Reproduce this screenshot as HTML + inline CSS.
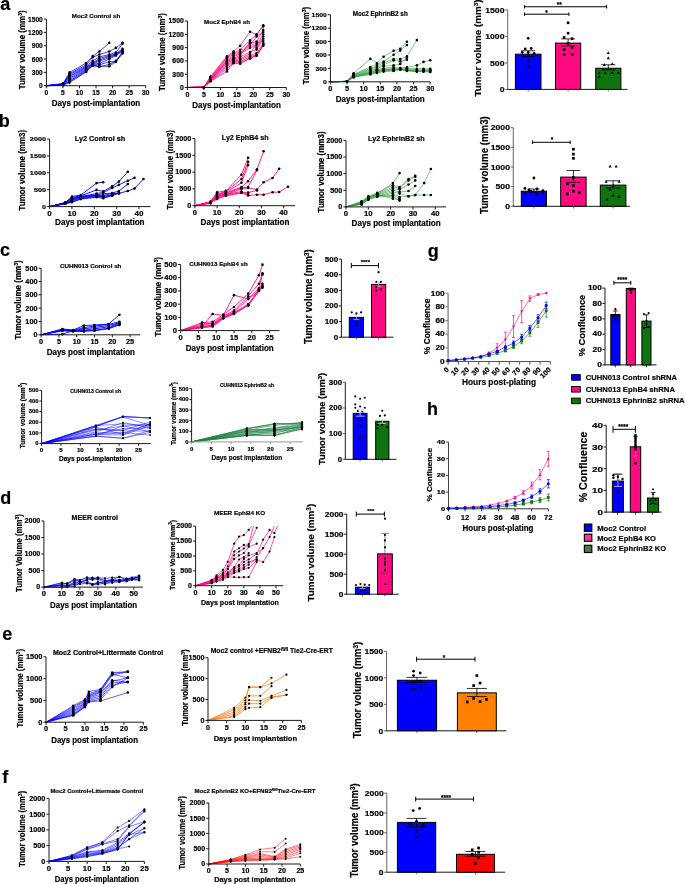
<!DOCTYPE html>
<html><head><meta charset="utf-8"><style>
html,body{margin:0;padding:0;background:#fff;overflow:hidden}
svg{display:block;will-change:transform}
text{font-family:"Liberation Sans", sans-serif;stroke:#000;stroke-width:0.18px}
</style></head><body>
<svg width="685" height="884" viewBox="0 0 685 884">
<rect width="685" height="884" fill="#fff"/>
<text x="0.20" y="9.70" font-size="18" text-anchor="start" font-weight="bold" fill="#000" >a</text>
<text x="-1.20" y="127.20" font-size="18" text-anchor="start" font-weight="bold" fill="#000" >b</text>
<text x="0.00" y="256.40" font-size="18" text-anchor="start" font-weight="bold" fill="#000" >c</text>
<text x="0.30" y="504.00" font-size="18" text-anchor="start" font-weight="bold" fill="#000" >d</text>
<text x="2.20" y="639.60" font-size="18" text-anchor="start" font-weight="bold" fill="#000" >e</text>
<text x="2.30" y="782.80" font-size="18" text-anchor="start" font-weight="bold" fill="#000" >f</text>
<text x="427.70" y="256.80" font-size="18" text-anchor="start" font-weight="bold" fill="#000" >g</text>
<text x="427.00" y="415.00" font-size="18" text-anchor="start" font-weight="bold" fill="#000" >h</text>
<polyline points="46.40,85.70 62.95,83.92 69.57,72.38 86.12,63.19 92.74,56.09 99.36,51.51 109.29,42.81" fill="none" stroke="#0000FF" stroke-width="0.75" stroke-linejoin="round"/>
<circle cx="62.95" cy="83.92" r="1.3" fill="#000"/>
<circle cx="69.57" cy="72.38" r="1.3" fill="#000"/>
<circle cx="86.12" cy="63.19" r="1.3" fill="#000"/>
<circle cx="92.74" cy="56.09" r="1.3" fill="#000"/>
<circle cx="99.36" cy="51.51" r="1.3" fill="#000"/>
<circle cx="109.29" cy="42.81" r="1.3" fill="#000"/>
<polyline points="46.40,85.70 62.95,84.37 69.57,73.71 86.12,64.83 92.74,57.28 99.36,54.49 109.29,51.51 115.91,47.92 122.53,42.81" fill="none" stroke="#0000FF" stroke-width="0.75" stroke-linejoin="round"/>
<circle cx="62.95" cy="84.37" r="1.3" fill="#000"/>
<circle cx="69.57" cy="73.71" r="1.3" fill="#000"/>
<circle cx="86.12" cy="64.83" r="1.3" fill="#000"/>
<circle cx="92.74" cy="57.28" r="1.3" fill="#000"/>
<circle cx="99.36" cy="54.49" r="1.3" fill="#000"/>
<circle cx="109.29" cy="51.51" r="1.3" fill="#000"/>
<circle cx="115.91" cy="47.92" r="1.3" fill="#000"/>
<circle cx="122.53" cy="42.81" r="1.3" fill="#000"/>
<polyline points="46.40,85.70 62.95,84.81 69.57,74.60 86.12,66.16 92.74,60.84 99.36,56.84 109.29,54.62 115.91,52.49 122.53,43.79" fill="none" stroke="#0000FF" stroke-width="0.75" stroke-linejoin="round"/>
<circle cx="62.95" cy="84.81" r="1.3" fill="#000"/>
<circle cx="69.57" cy="74.60" r="1.3" fill="#000"/>
<circle cx="86.12" cy="66.16" r="1.3" fill="#000"/>
<circle cx="92.74" cy="60.84" r="1.3" fill="#000"/>
<circle cx="99.36" cy="56.84" r="1.3" fill="#000"/>
<circle cx="109.29" cy="54.62" r="1.3" fill="#000"/>
<circle cx="115.91" cy="52.49" r="1.3" fill="#000"/>
<circle cx="122.53" cy="43.79" r="1.3" fill="#000"/>
<polyline points="46.40,85.70 62.95,83.48 69.57,75.93 86.12,67.05 92.74,62.61 99.36,58.62 109.29,55.51 115.91,53.73 122.53,48.89" fill="none" stroke="#0000FF" stroke-width="0.75" stroke-linejoin="round"/>
<circle cx="62.95" cy="83.48" r="1.3" fill="#000"/>
<circle cx="69.57" cy="75.93" r="1.3" fill="#000"/>
<circle cx="86.12" cy="67.05" r="1.3" fill="#000"/>
<circle cx="92.74" cy="62.61" r="1.3" fill="#000"/>
<circle cx="99.36" cy="58.62" r="1.3" fill="#000"/>
<circle cx="109.29" cy="55.51" r="1.3" fill="#000"/>
<circle cx="115.91" cy="53.73" r="1.3" fill="#000"/>
<circle cx="122.53" cy="48.89" r="1.3" fill="#000"/>
<polyline points="46.40,85.70 62.95,84.37 69.57,76.82 86.12,67.94 92.74,63.50 99.36,59.95 109.29,56.40 115.91,54.62 122.53,49.74" fill="none" stroke="#0000FF" stroke-width="0.75" stroke-linejoin="round"/>
<circle cx="62.95" cy="84.37" r="1.3" fill="#000"/>
<circle cx="69.57" cy="76.82" r="1.3" fill="#000"/>
<circle cx="86.12" cy="67.94" r="1.3" fill="#000"/>
<circle cx="92.74" cy="63.50" r="1.3" fill="#000"/>
<circle cx="99.36" cy="59.95" r="1.3" fill="#000"/>
<circle cx="109.29" cy="56.40" r="1.3" fill="#000"/>
<circle cx="115.91" cy="54.62" r="1.3" fill="#000"/>
<circle cx="122.53" cy="49.74" r="1.3" fill="#000"/>
<polyline points="46.40,85.70 62.95,84.81 69.57,78.15 86.12,68.83 92.74,63.94 99.36,61.28 109.29,57.64 115.91,55.06 122.53,50.40" fill="none" stroke="#0000FF" stroke-width="0.75" stroke-linejoin="round"/>
<circle cx="62.95" cy="84.81" r="1.3" fill="#000"/>
<circle cx="69.57" cy="78.15" r="1.3" fill="#000"/>
<circle cx="86.12" cy="68.83" r="1.3" fill="#000"/>
<circle cx="92.74" cy="63.94" r="1.3" fill="#000"/>
<circle cx="99.36" cy="61.28" r="1.3" fill="#000"/>
<circle cx="109.29" cy="57.64" r="1.3" fill="#000"/>
<circle cx="115.91" cy="55.06" r="1.3" fill="#000"/>
<circle cx="122.53" cy="50.40" r="1.3" fill="#000"/>
<polyline points="46.40,85.70 62.95,83.92 69.57,79.48 86.12,69.72 92.74,64.17 99.36,63.50 109.29,59.06 115.91,55.51 122.53,51.07" fill="none" stroke="#0000FF" stroke-width="0.75" stroke-linejoin="round"/>
<circle cx="62.95" cy="83.92" r="1.3" fill="#000"/>
<circle cx="69.57" cy="79.48" r="1.3" fill="#000"/>
<circle cx="86.12" cy="69.72" r="1.3" fill="#000"/>
<circle cx="92.74" cy="64.17" r="1.3" fill="#000"/>
<circle cx="99.36" cy="63.50" r="1.3" fill="#000"/>
<circle cx="109.29" cy="59.06" r="1.3" fill="#000"/>
<circle cx="115.91" cy="55.51" r="1.3" fill="#000"/>
<circle cx="122.53" cy="51.07" r="1.3" fill="#000"/>
<polyline points="46.40,85.70 62.95,85.03 69.57,80.82 86.12,70.60 92.74,64.83 99.36,64.83 109.29,61.72 115.91,61.72 122.53,53.51" fill="none" stroke="#0000FF" stroke-width="0.75" stroke-linejoin="round"/>
<circle cx="62.95" cy="85.03" r="1.3" fill="#000"/>
<circle cx="69.57" cy="80.82" r="1.3" fill="#000"/>
<circle cx="86.12" cy="70.60" r="1.3" fill="#000"/>
<circle cx="92.74" cy="64.83" r="1.3" fill="#000"/>
<circle cx="99.36" cy="64.83" r="1.3" fill="#000"/>
<circle cx="109.29" cy="61.72" r="1.3" fill="#000"/>
<circle cx="115.91" cy="61.72" r="1.3" fill="#000"/>
<circle cx="122.53" cy="53.51" r="1.3" fill="#000"/>
<polyline points="46.40,85.70 62.95,84.59 69.57,81.70 86.12,71.49 92.74,65.28 99.36,66.16 109.29,66.30 115.91,61.72 122.53,52.84" fill="none" stroke="#0000FF" stroke-width="0.75" stroke-linejoin="round"/>
<circle cx="62.95" cy="84.59" r="1.3" fill="#000"/>
<circle cx="69.57" cy="81.70" r="1.3" fill="#000"/>
<circle cx="86.12" cy="71.49" r="1.3" fill="#000"/>
<circle cx="92.74" cy="65.28" r="1.3" fill="#000"/>
<circle cx="99.36" cy="66.16" r="1.3" fill="#000"/>
<circle cx="109.29" cy="66.30" r="1.3" fill="#000"/>
<circle cx="115.91" cy="61.72" r="1.3" fill="#000"/>
<circle cx="122.53" cy="52.84" r="1.3" fill="#000"/>
<polyline points="46.40,85.70 62.95,85.26 69.57,82.59 86.12,71.94 92.74,65.72 99.36,66.83 109.29,64.39 115.91,60.84 122.53,51.96" fill="none" stroke="#0000FF" stroke-width="0.75" stroke-linejoin="round"/>
<circle cx="62.95" cy="85.26" r="1.3" fill="#000"/>
<circle cx="69.57" cy="82.59" r="1.3" fill="#000"/>
<circle cx="86.12" cy="71.94" r="1.3" fill="#000"/>
<circle cx="92.74" cy="65.72" r="1.3" fill="#000"/>
<circle cx="99.36" cy="66.83" r="1.3" fill="#000"/>
<circle cx="109.29" cy="64.39" r="1.3" fill="#000"/>
<circle cx="115.91" cy="60.84" r="1.3" fill="#000"/>
<circle cx="122.53" cy="51.96" r="1.3" fill="#000"/>
<line x1="46.40" y1="19.10" x2="46.40" y2="86.20" stroke="#1a1a1a" stroke-width="1"/>
<line x1="45.90" y1="85.70" x2="145.70" y2="85.70" stroke="#1a1a1a" stroke-width="1"/>
<line x1="43.80" y1="85.70" x2="46.40" y2="85.70" stroke="#1a1a1a" stroke-width="1"/>
<text x="42.80" y="88.22" font-size="7" text-anchor="end" font-weight="bold" fill="#000" textLength="3.7" lengthAdjust="spacingAndGlyphs" >0</text>
<line x1="43.80" y1="72.38" x2="46.40" y2="72.38" stroke="#1a1a1a" stroke-width="1"/>
<text x="42.80" y="74.90" font-size="7" text-anchor="end" font-weight="bold" fill="#000" textLength="11.09" lengthAdjust="spacingAndGlyphs" >300</text>
<line x1="43.80" y1="59.06" x2="46.40" y2="59.06" stroke="#1a1a1a" stroke-width="1"/>
<text x="42.80" y="61.58" font-size="7" text-anchor="end" font-weight="bold" fill="#000" textLength="11.09" lengthAdjust="spacingAndGlyphs" >600</text>
<line x1="43.80" y1="45.74" x2="46.40" y2="45.74" stroke="#1a1a1a" stroke-width="1"/>
<text x="42.80" y="48.26" font-size="7" text-anchor="end" font-weight="bold" fill="#000" textLength="11.09" lengthAdjust="spacingAndGlyphs" >900</text>
<line x1="43.80" y1="32.42" x2="46.40" y2="32.42" stroke="#1a1a1a" stroke-width="1"/>
<text x="42.80" y="34.94" font-size="7" text-anchor="end" font-weight="bold" fill="#000" textLength="14.79" lengthAdjust="spacingAndGlyphs" >1200</text>
<line x1="43.80" y1="19.10" x2="46.40" y2="19.10" stroke="#1a1a1a" stroke-width="1"/>
<text x="42.80" y="21.62" font-size="7" text-anchor="end" font-weight="bold" fill="#000" textLength="14.79" lengthAdjust="spacingAndGlyphs" >1500</text>
<line x1="46.40" y1="85.70" x2="46.40" y2="88.30" stroke="#1a1a1a" stroke-width="1"/>
<text x="46.40" y="94.90" font-size="7" text-anchor="middle" font-weight="bold" fill="#000" textLength="3.7" lengthAdjust="spacingAndGlyphs" >0</text>
<line x1="62.95" y1="85.70" x2="62.95" y2="88.30" stroke="#1a1a1a" stroke-width="1"/>
<text x="62.95" y="94.90" font-size="7" text-anchor="middle" font-weight="bold" fill="#000" textLength="3.7" lengthAdjust="spacingAndGlyphs" >5</text>
<line x1="79.50" y1="85.70" x2="79.50" y2="88.30" stroke="#1a1a1a" stroke-width="1"/>
<text x="79.50" y="94.90" font-size="7" text-anchor="middle" font-weight="bold" fill="#000" textLength="7.4" lengthAdjust="spacingAndGlyphs" >10</text>
<line x1="96.05" y1="85.70" x2="96.05" y2="88.30" stroke="#1a1a1a" stroke-width="1"/>
<text x="96.05" y="94.90" font-size="7" text-anchor="middle" font-weight="bold" fill="#000" textLength="7.4" lengthAdjust="spacingAndGlyphs" >15</text>
<line x1="112.60" y1="85.70" x2="112.60" y2="88.30" stroke="#1a1a1a" stroke-width="1"/>
<text x="112.60" y="94.90" font-size="7" text-anchor="middle" font-weight="bold" fill="#000" textLength="7.4" lengthAdjust="spacingAndGlyphs" >20</text>
<line x1="129.15" y1="85.70" x2="129.15" y2="88.30" stroke="#1a1a1a" stroke-width="1"/>
<text x="129.15" y="94.90" font-size="7" text-anchor="middle" font-weight="bold" fill="#000" textLength="7.4" lengthAdjust="spacingAndGlyphs" >25</text>
<line x1="145.70" y1="85.70" x2="145.70" y2="88.30" stroke="#1a1a1a" stroke-width="1"/>
<text x="145.70" y="94.90" font-size="7" text-anchor="middle" font-weight="bold" fill="#000" textLength="7.4" lengthAdjust="spacingAndGlyphs" >30</text>
<text x="96.00" y="17.80" font-size="6" text-anchor="middle" font-weight="bold" fill="#000" textLength="48.5" lengthAdjust="spacingAndGlyphs" >Moc2 Control sh</text>
<text x="96.00" y="106.00" font-size="8.5" text-anchor="middle" font-weight="bold" fill="#000" textLength="88.4" lengthAdjust="spacingAndGlyphs" >Days post-implantation</text>
<text x="25.30" y="49.80" font-size="9" text-anchor="middle" font-weight="bold" fill="#000" textLength="79" lengthAdjust="spacingAndGlyphs" transform="rotate(-90 25.30 49.80)" >Tumor volume (mm<tspan font-size="65%" dy="-3">3</tspan><tspan dy="3">)</tspan></text>
<polyline points="187.40,87.50 203.88,87.19 210.48,76.60 226.96,56.22 233.55,51.53 240.15,45.73 250.04,31.73 256.63,34.61 263.22,25.30" fill="none" stroke="#FF0A80" stroke-width="0.75" stroke-linejoin="round"/>
<circle cx="203.88" cy="87.19" r="1.3" fill="#000"/>
<circle cx="210.48" cy="76.60" r="1.3" fill="#000"/>
<circle cx="226.96" cy="56.22" r="1.3" fill="#000"/>
<circle cx="233.55" cy="51.53" r="1.3" fill="#000"/>
<circle cx="240.15" cy="45.73" r="1.3" fill="#000"/>
<circle cx="250.04" cy="31.73" r="1.3" fill="#000"/>
<circle cx="256.63" cy="34.61" r="1.3" fill="#000"/>
<circle cx="263.22" cy="25.30" r="1.3" fill="#000"/>
<polyline points="187.40,87.50 203.88,87.19 210.48,77.31 226.96,57.38 233.55,52.95 240.15,49.84 250.04,40.41 256.63,34.61 263.22,26.37" fill="none" stroke="#FF0A80" stroke-width="0.75" stroke-linejoin="round"/>
<circle cx="203.88" cy="87.19" r="1.3" fill="#000"/>
<circle cx="210.48" cy="77.31" r="1.3" fill="#000"/>
<circle cx="226.96" cy="57.38" r="1.3" fill="#000"/>
<circle cx="233.55" cy="52.95" r="1.3" fill="#000"/>
<circle cx="240.15" cy="49.84" r="1.3" fill="#000"/>
<circle cx="250.04" cy="40.41" r="1.3" fill="#000"/>
<circle cx="256.63" cy="34.61" r="1.3" fill="#000"/>
<circle cx="263.22" cy="26.37" r="1.3" fill="#000"/>
<polyline points="187.40,87.50 203.88,87.19 210.48,77.98 226.96,58.70 233.55,53.83 240.15,52.06 250.04,43.20 256.63,41.61 263.22,29.91" fill="none" stroke="#FF0A80" stroke-width="0.75" stroke-linejoin="round"/>
<circle cx="203.88" cy="87.19" r="1.3" fill="#000"/>
<circle cx="210.48" cy="77.98" r="1.3" fill="#000"/>
<circle cx="226.96" cy="58.70" r="1.3" fill="#000"/>
<circle cx="233.55" cy="53.83" r="1.3" fill="#000"/>
<circle cx="240.15" cy="52.06" r="1.3" fill="#000"/>
<circle cx="250.04" cy="43.20" r="1.3" fill="#000"/>
<circle cx="256.63" cy="41.61" r="1.3" fill="#000"/>
<circle cx="263.22" cy="29.91" r="1.3" fill="#000"/>
<polyline points="187.40,87.50 203.88,87.19 210.48,78.42 226.96,60.03 233.55,55.60 240.15,52.95 250.04,45.41 256.63,36.55 263.22,32.12" fill="none" stroke="#FF0A80" stroke-width="0.75" stroke-linejoin="round"/>
<circle cx="203.88" cy="87.19" r="1.3" fill="#000"/>
<circle cx="210.48" cy="78.42" r="1.3" fill="#000"/>
<circle cx="226.96" cy="60.03" r="1.3" fill="#000"/>
<circle cx="233.55" cy="55.60" r="1.3" fill="#000"/>
<circle cx="240.15" cy="52.95" r="1.3" fill="#000"/>
<circle cx="250.04" cy="45.41" r="1.3" fill="#000"/>
<circle cx="256.63" cy="36.55" r="1.3" fill="#000"/>
<circle cx="263.22" cy="32.12" r="1.3" fill="#000"/>
<polyline points="187.40,87.50 203.88,87.19 210.48,78.86 226.96,60.92 233.55,56.93 240.15,53.83 250.04,47.63 256.63,44.97 263.22,34.34" fill="none" stroke="#FF0A80" stroke-width="0.75" stroke-linejoin="round"/>
<circle cx="203.88" cy="87.19" r="1.3" fill="#000"/>
<circle cx="210.48" cy="78.86" r="1.3" fill="#000"/>
<circle cx="226.96" cy="60.92" r="1.3" fill="#000"/>
<circle cx="233.55" cy="56.93" r="1.3" fill="#000"/>
<circle cx="240.15" cy="53.83" r="1.3" fill="#000"/>
<circle cx="250.04" cy="47.63" r="1.3" fill="#000"/>
<circle cx="256.63" cy="44.97" r="1.3" fill="#000"/>
<circle cx="263.22" cy="34.34" r="1.3" fill="#000"/>
<polyline points="187.40,87.50 203.88,87.19 210.48,79.30 226.96,61.81 233.55,58.26 240.15,55.60 250.04,42.31 256.63,47.63 263.22,36.55" fill="none" stroke="#FF0A80" stroke-width="0.75" stroke-linejoin="round"/>
<circle cx="203.88" cy="87.19" r="1.3" fill="#000"/>
<circle cx="210.48" cy="79.30" r="1.3" fill="#000"/>
<circle cx="226.96" cy="61.81" r="1.3" fill="#000"/>
<circle cx="233.55" cy="58.26" r="1.3" fill="#000"/>
<circle cx="240.15" cy="55.60" r="1.3" fill="#000"/>
<circle cx="250.04" cy="42.31" r="1.3" fill="#000"/>
<circle cx="256.63" cy="47.63" r="1.3" fill="#000"/>
<circle cx="263.22" cy="36.55" r="1.3" fill="#000"/>
<polyline points="187.40,87.50 203.88,87.19 210.48,79.75 226.96,62.69 233.55,59.15 240.15,56.93 250.04,52.06 256.63,49.40 263.22,38.77" fill="none" stroke="#FF0A80" stroke-width="0.75" stroke-linejoin="round"/>
<circle cx="203.88" cy="87.19" r="1.3" fill="#000"/>
<circle cx="210.48" cy="79.75" r="1.3" fill="#000"/>
<circle cx="226.96" cy="62.69" r="1.3" fill="#000"/>
<circle cx="233.55" cy="59.15" r="1.3" fill="#000"/>
<circle cx="240.15" cy="56.93" r="1.3" fill="#000"/>
<circle cx="250.04" cy="52.06" r="1.3" fill="#000"/>
<circle cx="256.63" cy="49.40" r="1.3" fill="#000"/>
<circle cx="263.22" cy="38.77" r="1.3" fill="#000"/>
<polyline points="187.40,87.50 203.88,87.19 210.48,80.19 226.96,63.58 233.55,60.03 240.15,58.70 250.04,53.83 256.63,43.20 263.22,40.98" fill="none" stroke="#FF0A80" stroke-width="0.75" stroke-linejoin="round"/>
<circle cx="203.88" cy="87.19" r="1.3" fill="#000"/>
<circle cx="210.48" cy="80.19" r="1.3" fill="#000"/>
<circle cx="226.96" cy="63.58" r="1.3" fill="#000"/>
<circle cx="233.55" cy="60.03" r="1.3" fill="#000"/>
<circle cx="240.15" cy="58.70" r="1.3" fill="#000"/>
<circle cx="250.04" cy="53.83" r="1.3" fill="#000"/>
<circle cx="256.63" cy="43.20" r="1.3" fill="#000"/>
<circle cx="263.22" cy="40.98" r="1.3" fill="#000"/>
<polyline points="187.40,87.50 203.88,87.19 210.48,80.41 226.96,65.35 233.55,60.92 240.15,60.03 250.04,55.60 256.63,52.95 263.22,43.20" fill="none" stroke="#FF0A80" stroke-width="0.75" stroke-linejoin="round"/>
<circle cx="203.88" cy="87.19" r="1.3" fill="#000"/>
<circle cx="210.48" cy="80.41" r="1.3" fill="#000"/>
<circle cx="226.96" cy="65.35" r="1.3" fill="#000"/>
<circle cx="233.55" cy="60.92" r="1.3" fill="#000"/>
<circle cx="240.15" cy="60.03" r="1.3" fill="#000"/>
<circle cx="250.04" cy="55.60" r="1.3" fill="#000"/>
<circle cx="256.63" cy="52.95" r="1.3" fill="#000"/>
<circle cx="263.22" cy="43.20" r="1.3" fill="#000"/>
<polyline points="187.40,87.50 203.88,87.19 210.48,80.86 226.96,66.68 233.55,61.81 240.15,61.36 250.04,56.93 256.63,54.72 263.22,44.09" fill="none" stroke="#FF0A80" stroke-width="0.75" stroke-linejoin="round"/>
<circle cx="203.88" cy="87.19" r="1.3" fill="#000"/>
<circle cx="210.48" cy="80.86" r="1.3" fill="#000"/>
<circle cx="226.96" cy="66.68" r="1.3" fill="#000"/>
<circle cx="233.55" cy="61.81" r="1.3" fill="#000"/>
<circle cx="240.15" cy="61.36" r="1.3" fill="#000"/>
<circle cx="250.04" cy="56.93" r="1.3" fill="#000"/>
<circle cx="256.63" cy="54.72" r="1.3" fill="#000"/>
<circle cx="263.22" cy="44.09" r="1.3" fill="#000"/>
<polyline points="187.40,87.50 203.88,87.19 210.48,81.08 226.96,68.89 233.55,62.69 240.15,62.69 250.04,58.26 256.63,55.60 263.22,44.97" fill="none" stroke="#FF0A80" stroke-width="0.75" stroke-linejoin="round"/>
<circle cx="203.88" cy="87.19" r="1.3" fill="#000"/>
<circle cx="210.48" cy="81.08" r="1.3" fill="#000"/>
<circle cx="226.96" cy="68.89" r="1.3" fill="#000"/>
<circle cx="233.55" cy="62.69" r="1.3" fill="#000"/>
<circle cx="240.15" cy="62.69" r="1.3" fill="#000"/>
<circle cx="250.04" cy="58.26" r="1.3" fill="#000"/>
<circle cx="256.63" cy="55.60" r="1.3" fill="#000"/>
<circle cx="263.22" cy="44.97" r="1.3" fill="#000"/>
<polyline points="187.40,87.50 203.88,87.19 210.48,81.30 226.96,71.42 233.55,63.22 240.15,63.80 250.04,58.48 256.63,55.60 263.22,45.73" fill="none" stroke="#FF0A80" stroke-width="0.75" stroke-linejoin="round"/>
<circle cx="203.88" cy="87.19" r="1.3" fill="#000"/>
<circle cx="210.48" cy="81.30" r="1.3" fill="#000"/>
<circle cx="226.96" cy="71.42" r="1.3" fill="#000"/>
<circle cx="233.55" cy="63.22" r="1.3" fill="#000"/>
<circle cx="240.15" cy="63.80" r="1.3" fill="#000"/>
<circle cx="250.04" cy="58.48" r="1.3" fill="#000"/>
<circle cx="256.63" cy="55.60" r="1.3" fill="#000"/>
<circle cx="263.22" cy="45.73" r="1.3" fill="#000"/>
<line x1="187.40" y1="21.05" x2="187.40" y2="88.00" stroke="#1a1a1a" stroke-width="1"/>
<line x1="186.90" y1="87.50" x2="286.30" y2="87.50" stroke="#1a1a1a" stroke-width="1"/>
<line x1="184.80" y1="87.50" x2="187.40" y2="87.50" stroke="#1a1a1a" stroke-width="1"/>
<text x="183.80" y="89.80" font-size="6.4" text-anchor="end" font-weight="bold" fill="#000" textLength="3.81" lengthAdjust="spacingAndGlyphs" >0</text>
<line x1="184.80" y1="74.21" x2="187.40" y2="74.21" stroke="#1a1a1a" stroke-width="1"/>
<text x="183.80" y="76.51" font-size="6.4" text-anchor="end" font-weight="bold" fill="#000" textLength="11.42" lengthAdjust="spacingAndGlyphs" >300</text>
<line x1="184.80" y1="60.92" x2="187.40" y2="60.92" stroke="#1a1a1a" stroke-width="1"/>
<text x="183.80" y="63.22" font-size="6.4" text-anchor="end" font-weight="bold" fill="#000" textLength="11.42" lengthAdjust="spacingAndGlyphs" >600</text>
<line x1="184.80" y1="47.63" x2="187.40" y2="47.63" stroke="#1a1a1a" stroke-width="1"/>
<text x="183.80" y="49.93" font-size="6.4" text-anchor="end" font-weight="bold" fill="#000" textLength="11.42" lengthAdjust="spacingAndGlyphs" >900</text>
<line x1="184.80" y1="34.34" x2="187.40" y2="34.34" stroke="#1a1a1a" stroke-width="1"/>
<text x="183.80" y="36.64" font-size="6.4" text-anchor="end" font-weight="bold" fill="#000" textLength="15.23" lengthAdjust="spacingAndGlyphs" >1200</text>
<line x1="184.80" y1="21.05" x2="187.40" y2="21.05" stroke="#1a1a1a" stroke-width="1"/>
<text x="183.80" y="23.35" font-size="6.4" text-anchor="end" font-weight="bold" fill="#000" textLength="15.23" lengthAdjust="spacingAndGlyphs" >1500</text>
<line x1="187.40" y1="87.50" x2="187.40" y2="90.10" stroke="#1a1a1a" stroke-width="1"/>
<text x="187.40" y="96.70" font-size="6.6" text-anchor="middle" font-weight="bold" fill="#000" textLength="3.93" lengthAdjust="spacingAndGlyphs" >0</text>
<line x1="203.88" y1="87.50" x2="203.88" y2="90.10" stroke="#1a1a1a" stroke-width="1"/>
<text x="203.88" y="96.70" font-size="6.6" text-anchor="middle" font-weight="bold" fill="#000" textLength="3.93" lengthAdjust="spacingAndGlyphs" >5</text>
<line x1="220.37" y1="87.50" x2="220.37" y2="90.10" stroke="#1a1a1a" stroke-width="1"/>
<text x="220.37" y="96.70" font-size="6.6" text-anchor="middle" font-weight="bold" fill="#000" textLength="7.85" lengthAdjust="spacingAndGlyphs" >10</text>
<line x1="236.85" y1="87.50" x2="236.85" y2="90.10" stroke="#1a1a1a" stroke-width="1"/>
<text x="236.85" y="96.70" font-size="6.6" text-anchor="middle" font-weight="bold" fill="#000" textLength="7.85" lengthAdjust="spacingAndGlyphs" >15</text>
<line x1="253.33" y1="87.50" x2="253.33" y2="90.10" stroke="#1a1a1a" stroke-width="1"/>
<text x="253.33" y="96.70" font-size="6.6" text-anchor="middle" font-weight="bold" fill="#000" textLength="7.85" lengthAdjust="spacingAndGlyphs" >20</text>
<line x1="269.82" y1="87.50" x2="269.82" y2="90.10" stroke="#1a1a1a" stroke-width="1"/>
<text x="269.82" y="96.70" font-size="6.6" text-anchor="middle" font-weight="bold" fill="#000" textLength="7.85" lengthAdjust="spacingAndGlyphs" >25</text>
<line x1="286.30" y1="87.50" x2="286.30" y2="90.10" stroke="#1a1a1a" stroke-width="1"/>
<text x="286.30" y="96.70" font-size="6.6" text-anchor="middle" font-weight="bold" fill="#000" textLength="7.85" lengthAdjust="spacingAndGlyphs" >30</text>
<text x="227.00" y="24.40" font-size="5.6" text-anchor="middle" font-weight="bold" fill="#000" textLength="45.8" lengthAdjust="spacingAndGlyphs" >Moc2 EphB4 sh</text>
<text x="236.50" y="107.50" font-size="8.5" text-anchor="middle" font-weight="bold" fill="#000" textLength="88.6" lengthAdjust="spacingAndGlyphs" >Days post-implantation</text>
<text x="165.30" y="52.00" font-size="8.8" text-anchor="middle" font-weight="bold" fill="#000" textLength="78" lengthAdjust="spacingAndGlyphs" transform="rotate(-90 165.30 52.00)" >Tumor volume (mm<tspan font-size="65%" dy="-3">3</tspan><tspan dy="3">)</tspan></text>
<polyline points="330.40,81.80 347.03,81.35 353.69,73.30 370.32,58.81 376.97,63.01 383.63,56.79 393.61,50.80 400.26,48.70 406.91,41.81" fill="none" stroke="#2E9B3A" stroke-width="0.6" stroke-linejoin="round"/>
<circle cx="347.03" cy="81.35" r="1.3" fill="#000"/>
<circle cx="353.69" cy="73.30" r="1.3" fill="#000"/>
<circle cx="370.32" cy="58.81" r="1.3" fill="#000"/>
<circle cx="376.97" cy="63.01" r="1.3" fill="#000"/>
<circle cx="383.63" cy="56.79" r="1.3" fill="#000"/>
<circle cx="393.61" cy="50.80" r="1.3" fill="#000"/>
<circle cx="400.26" cy="48.70" r="1.3" fill="#000"/>
<circle cx="406.91" cy="41.81" r="1.3" fill="#000"/>
<polyline points="330.40,81.80 347.03,81.35 353.69,74.20 370.32,67.04 376.97,63.91 383.63,61.67 393.61,54.69 400.26,50.49 406.91,44.98" fill="none" stroke="#2E9B3A" stroke-width="0.6" stroke-linejoin="round"/>
<circle cx="347.03" cy="81.35" r="1.3" fill="#000"/>
<circle cx="353.69" cy="74.20" r="1.3" fill="#000"/>
<circle cx="370.32" cy="67.04" r="1.3" fill="#000"/>
<circle cx="376.97" cy="63.91" r="1.3" fill="#000"/>
<circle cx="383.63" cy="61.67" r="1.3" fill="#000"/>
<circle cx="393.61" cy="54.69" r="1.3" fill="#000"/>
<circle cx="400.26" cy="50.49" r="1.3" fill="#000"/>
<circle cx="406.91" cy="44.98" r="1.3" fill="#000"/>
<polyline points="330.40,81.80 347.03,81.35 353.69,74.64 370.32,68.38 376.97,65.70 383.63,63.01 393.61,59.12 400.26,59.12 406.91,56.39 416.89,40.11" fill="none" stroke="#2E9B3A" stroke-width="0.6" stroke-linejoin="round"/>
<circle cx="347.03" cy="81.35" r="1.3" fill="#000"/>
<circle cx="353.69" cy="74.64" r="1.3" fill="#000"/>
<circle cx="370.32" cy="68.38" r="1.3" fill="#000"/>
<circle cx="376.97" cy="65.70" r="1.3" fill="#000"/>
<circle cx="383.63" cy="63.01" r="1.3" fill="#000"/>
<circle cx="393.61" cy="59.12" r="1.3" fill="#000"/>
<circle cx="400.26" cy="59.12" r="1.3" fill="#000"/>
<circle cx="406.91" cy="56.39" r="1.3" fill="#000"/>
<circle cx="416.89" cy="40.11" r="1.3" fill="#000"/>
<polyline points="330.40,81.80 347.03,81.35 353.69,75.09 370.32,69.27 376.97,67.04 383.63,64.80 393.61,60.51 400.26,61.22 406.91,59.79" fill="none" stroke="#2E9B3A" stroke-width="0.6" stroke-linejoin="round"/>
<circle cx="347.03" cy="81.35" r="1.3" fill="#000"/>
<circle cx="353.69" cy="75.09" r="1.3" fill="#000"/>
<circle cx="370.32" cy="69.27" r="1.3" fill="#000"/>
<circle cx="376.97" cy="67.04" r="1.3" fill="#000"/>
<circle cx="383.63" cy="64.80" r="1.3" fill="#000"/>
<circle cx="393.61" cy="60.51" r="1.3" fill="#000"/>
<circle cx="400.26" cy="61.22" r="1.3" fill="#000"/>
<circle cx="406.91" cy="59.79" r="1.3" fill="#000"/>
<polyline points="330.40,81.80 347.03,81.35 353.69,75.54 370.32,70.17 376.97,68.38 383.63,66.14 393.61,65.38 400.26,63.91 406.91,57.64" fill="none" stroke="#2E9B3A" stroke-width="0.6" stroke-linejoin="round"/>
<circle cx="347.03" cy="81.35" r="1.3" fill="#000"/>
<circle cx="353.69" cy="75.54" r="1.3" fill="#000"/>
<circle cx="370.32" cy="70.17" r="1.3" fill="#000"/>
<circle cx="376.97" cy="68.38" r="1.3" fill="#000"/>
<circle cx="383.63" cy="66.14" r="1.3" fill="#000"/>
<circle cx="393.61" cy="65.38" r="1.3" fill="#000"/>
<circle cx="400.26" cy="63.91" r="1.3" fill="#000"/>
<circle cx="406.91" cy="57.64" r="1.3" fill="#000"/>
<polyline points="330.40,81.80 347.03,81.35 353.69,75.98 370.32,71.06 376.97,69.27 383.63,68.38 393.61,67.04 400.26,68.11 406.91,67.40 416.89,65.38 423.55,61.89 430.20,60.19" fill="none" stroke="#2E9B3A" stroke-width="0.6" stroke-linejoin="round"/>
<circle cx="347.03" cy="81.35" r="1.3" fill="#000"/>
<circle cx="353.69" cy="75.98" r="1.3" fill="#000"/>
<circle cx="370.32" cy="71.06" r="1.3" fill="#000"/>
<circle cx="376.97" cy="69.27" r="1.3" fill="#000"/>
<circle cx="383.63" cy="68.38" r="1.3" fill="#000"/>
<circle cx="393.61" cy="67.04" r="1.3" fill="#000"/>
<circle cx="400.26" cy="68.11" r="1.3" fill="#000"/>
<circle cx="406.91" cy="67.40" r="1.3" fill="#000"/>
<circle cx="416.89" cy="65.38" r="1.3" fill="#000"/>
<circle cx="423.55" cy="61.89" r="1.3" fill="#000"/>
<circle cx="430.20" cy="60.19" r="1.3" fill="#000"/>
<polyline points="330.40,81.80 347.03,81.35 353.69,76.21 370.32,71.96 376.97,70.17 383.63,69.27 393.61,68.38 400.26,68.83 406.91,68.38 416.89,68.83 423.55,68.83 430.20,68.83" fill="none" stroke="#2E9B3A" stroke-width="0.6" stroke-linejoin="round"/>
<circle cx="347.03" cy="81.35" r="1.3" fill="#000"/>
<circle cx="353.69" cy="76.21" r="1.3" fill="#000"/>
<circle cx="370.32" cy="71.96" r="1.3" fill="#000"/>
<circle cx="376.97" cy="70.17" r="1.3" fill="#000"/>
<circle cx="383.63" cy="69.27" r="1.3" fill="#000"/>
<circle cx="393.61" cy="68.38" r="1.3" fill="#000"/>
<circle cx="400.26" cy="68.83" r="1.3" fill="#000"/>
<circle cx="406.91" cy="68.38" r="1.3" fill="#000"/>
<circle cx="416.89" cy="68.83" r="1.3" fill="#000"/>
<circle cx="423.55" cy="68.83" r="1.3" fill="#000"/>
<circle cx="430.20" cy="68.83" r="1.3" fill="#000"/>
<polyline points="330.40,81.80 347.03,81.35 353.69,76.43 370.32,72.41 376.97,70.62 383.63,69.72 393.61,69.27 400.26,69.27 406.91,69.27 416.89,69.72 423.55,69.72 430.20,69.72" fill="none" stroke="#2E9B3A" stroke-width="0.6" stroke-linejoin="round"/>
<circle cx="347.03" cy="81.35" r="1.3" fill="#000"/>
<circle cx="353.69" cy="76.43" r="1.3" fill="#000"/>
<circle cx="370.32" cy="72.41" r="1.3" fill="#000"/>
<circle cx="376.97" cy="70.62" r="1.3" fill="#000"/>
<circle cx="383.63" cy="69.72" r="1.3" fill="#000"/>
<circle cx="393.61" cy="69.27" r="1.3" fill="#000"/>
<circle cx="400.26" cy="69.27" r="1.3" fill="#000"/>
<circle cx="406.91" cy="69.27" r="1.3" fill="#000"/>
<circle cx="416.89" cy="69.72" r="1.3" fill="#000"/>
<circle cx="423.55" cy="69.72" r="1.3" fill="#000"/>
<circle cx="430.20" cy="69.72" r="1.3" fill="#000"/>
<polyline points="330.40,81.80 347.03,81.35 353.69,76.66 370.32,72.85 376.97,71.06 383.63,70.17 393.61,69.72 400.26,69.50 406.91,70.17 416.89,70.62 423.55,70.62 430.20,70.17" fill="none" stroke="#2E9B3A" stroke-width="0.6" stroke-linejoin="round"/>
<circle cx="347.03" cy="81.35" r="1.3" fill="#000"/>
<circle cx="353.69" cy="76.66" r="1.3" fill="#000"/>
<circle cx="370.32" cy="72.85" r="1.3" fill="#000"/>
<circle cx="376.97" cy="71.06" r="1.3" fill="#000"/>
<circle cx="383.63" cy="70.17" r="1.3" fill="#000"/>
<circle cx="393.61" cy="69.72" r="1.3" fill="#000"/>
<circle cx="400.26" cy="69.50" r="1.3" fill="#000"/>
<circle cx="406.91" cy="70.17" r="1.3" fill="#000"/>
<circle cx="416.89" cy="70.62" r="1.3" fill="#000"/>
<circle cx="423.55" cy="70.62" r="1.3" fill="#000"/>
<circle cx="430.20" cy="70.17" r="1.3" fill="#000"/>
<polyline points="330.40,81.80 347.03,81.35 353.69,76.88 370.32,73.30 376.97,71.96 383.63,70.62 393.61,70.17 400.26,69.50 406.91,70.62 416.89,71.06 423.55,70.84 430.20,70.84" fill="none" stroke="#2E9B3A" stroke-width="0.6" stroke-linejoin="round"/>
<circle cx="347.03" cy="81.35" r="1.3" fill="#000"/>
<circle cx="353.69" cy="76.88" r="1.3" fill="#000"/>
<circle cx="370.32" cy="73.30" r="1.3" fill="#000"/>
<circle cx="376.97" cy="71.96" r="1.3" fill="#000"/>
<circle cx="383.63" cy="70.62" r="1.3" fill="#000"/>
<circle cx="393.61" cy="70.17" r="1.3" fill="#000"/>
<circle cx="400.26" cy="69.50" r="1.3" fill="#000"/>
<circle cx="406.91" cy="70.62" r="1.3" fill="#000"/>
<circle cx="416.89" cy="71.06" r="1.3" fill="#000"/>
<circle cx="423.55" cy="70.84" r="1.3" fill="#000"/>
<circle cx="430.20" cy="70.84" r="1.3" fill="#000"/>
<polyline points="330.40,81.80 347.03,81.35 353.69,77.10 370.32,73.75 376.97,72.41 383.63,71.06 393.61,70.62 400.26,69.27 406.91,70.89 416.89,71.60 423.55,71.51 430.20,71.73" fill="none" stroke="#2E9B3A" stroke-width="0.6" stroke-linejoin="round"/>
<circle cx="347.03" cy="81.35" r="1.3" fill="#000"/>
<circle cx="353.69" cy="77.10" r="1.3" fill="#000"/>
<circle cx="370.32" cy="73.75" r="1.3" fill="#000"/>
<circle cx="376.97" cy="72.41" r="1.3" fill="#000"/>
<circle cx="383.63" cy="71.06" r="1.3" fill="#000"/>
<circle cx="393.61" cy="70.62" r="1.3" fill="#000"/>
<circle cx="400.26" cy="69.27" r="1.3" fill="#000"/>
<circle cx="406.91" cy="70.89" r="1.3" fill="#000"/>
<circle cx="416.89" cy="71.60" r="1.3" fill="#000"/>
<circle cx="423.55" cy="71.51" r="1.3" fill="#000"/>
<circle cx="430.20" cy="71.73" r="1.3" fill="#000"/>
<polyline points="330.40,81.80 347.03,81.35 353.69,77.19 370.32,74.42 376.97,72.99 383.63,71.60 393.61,70.89 400.26,68.83 406.91,70.17 416.89,71.51 423.55,71.60 430.20,71.96" fill="none" stroke="#2E9B3A" stroke-width="0.6" stroke-linejoin="round"/>
<circle cx="347.03" cy="81.35" r="1.3" fill="#000"/>
<circle cx="353.69" cy="77.19" r="1.3" fill="#000"/>
<circle cx="370.32" cy="74.42" r="1.3" fill="#000"/>
<circle cx="376.97" cy="72.99" r="1.3" fill="#000"/>
<circle cx="383.63" cy="71.60" r="1.3" fill="#000"/>
<circle cx="393.61" cy="70.89" r="1.3" fill="#000"/>
<circle cx="400.26" cy="68.83" r="1.3" fill="#000"/>
<circle cx="406.91" cy="70.17" r="1.3" fill="#000"/>
<circle cx="416.89" cy="71.51" r="1.3" fill="#000"/>
<circle cx="423.55" cy="71.60" r="1.3" fill="#000"/>
<circle cx="430.20" cy="71.96" r="1.3" fill="#000"/>
<line x1="330.40" y1="14.70" x2="330.40" y2="82.30" stroke="#1a1a1a" stroke-width="1"/>
<line x1="329.90" y1="81.80" x2="430.20" y2="81.80" stroke="#1a1a1a" stroke-width="1"/>
<line x1="327.80" y1="81.80" x2="330.40" y2="81.80" stroke="#1a1a1a" stroke-width="1"/>
<text x="326.80" y="84.03" font-size="6.2" text-anchor="end" font-weight="bold" fill="#000" textLength="3.79" lengthAdjust="spacingAndGlyphs" >0</text>
<line x1="327.80" y1="68.38" x2="330.40" y2="68.38" stroke="#1a1a1a" stroke-width="1"/>
<text x="326.80" y="70.61" font-size="6.2" text-anchor="end" font-weight="bold" fill="#000" textLength="11.38" lengthAdjust="spacingAndGlyphs" >300</text>
<line x1="327.80" y1="54.96" x2="330.40" y2="54.96" stroke="#1a1a1a" stroke-width="1"/>
<text x="326.80" y="57.19" font-size="6.2" text-anchor="end" font-weight="bold" fill="#000" textLength="11.38" lengthAdjust="spacingAndGlyphs" >600</text>
<line x1="327.80" y1="41.54" x2="330.40" y2="41.54" stroke="#1a1a1a" stroke-width="1"/>
<text x="326.80" y="43.77" font-size="6.2" text-anchor="end" font-weight="bold" fill="#000" textLength="11.38" lengthAdjust="spacingAndGlyphs" >900</text>
<line x1="327.80" y1="28.12" x2="330.40" y2="28.12" stroke="#1a1a1a" stroke-width="1"/>
<text x="326.80" y="30.35" font-size="6.2" text-anchor="end" font-weight="bold" fill="#000" textLength="15.17" lengthAdjust="spacingAndGlyphs" >1200</text>
<line x1="327.80" y1="14.70" x2="330.40" y2="14.70" stroke="#1a1a1a" stroke-width="1"/>
<text x="326.80" y="16.93" font-size="6.2" text-anchor="end" font-weight="bold" fill="#000" textLength="15.17" lengthAdjust="spacingAndGlyphs" >1500</text>
<line x1="330.40" y1="81.80" x2="330.40" y2="84.40" stroke="#1a1a1a" stroke-width="1"/>
<text x="330.40" y="91.00" font-size="6.6" text-anchor="middle" font-weight="bold" fill="#000" textLength="4.04" lengthAdjust="spacingAndGlyphs" >0</text>
<line x1="347.03" y1="81.80" x2="347.03" y2="84.40" stroke="#1a1a1a" stroke-width="1"/>
<text x="347.03" y="91.00" font-size="6.6" text-anchor="middle" font-weight="bold" fill="#000" textLength="4.04" lengthAdjust="spacingAndGlyphs" >5</text>
<line x1="363.67" y1="81.80" x2="363.67" y2="84.40" stroke="#1a1a1a" stroke-width="1"/>
<text x="363.67" y="91.00" font-size="6.6" text-anchor="middle" font-weight="bold" fill="#000" textLength="8.07" lengthAdjust="spacingAndGlyphs" >10</text>
<line x1="380.30" y1="81.80" x2="380.30" y2="84.40" stroke="#1a1a1a" stroke-width="1"/>
<text x="380.30" y="91.00" font-size="6.6" text-anchor="middle" font-weight="bold" fill="#000" textLength="8.07" lengthAdjust="spacingAndGlyphs" >15</text>
<line x1="396.93" y1="81.80" x2="396.93" y2="84.40" stroke="#1a1a1a" stroke-width="1"/>
<text x="396.93" y="91.00" font-size="6.6" text-anchor="middle" font-weight="bold" fill="#000" textLength="8.07" lengthAdjust="spacingAndGlyphs" >20</text>
<line x1="413.57" y1="81.80" x2="413.57" y2="84.40" stroke="#1a1a1a" stroke-width="1"/>
<text x="413.57" y="91.00" font-size="6.6" text-anchor="middle" font-weight="bold" fill="#000" textLength="8.07" lengthAdjust="spacingAndGlyphs" >25</text>
<line x1="430.20" y1="81.80" x2="430.20" y2="84.40" stroke="#1a1a1a" stroke-width="1"/>
<text x="430.20" y="91.00" font-size="6.6" text-anchor="middle" font-weight="bold" fill="#000" textLength="8.07" lengthAdjust="spacingAndGlyphs" >30</text>
<text x="380.20" y="15.60" font-size="6.3" text-anchor="middle" font-weight="bold" fill="#000" textLength="55.1" lengthAdjust="spacingAndGlyphs" >Moc2 EphrinB2 sh</text>
<text x="380.20" y="101.60" font-size="8.5" text-anchor="middle" font-weight="bold" fill="#000" textLength="89.1" lengthAdjust="spacingAndGlyphs" >Days post-implantation</text>
<text x="308.60" y="45.50" font-size="8.7" text-anchor="middle" font-weight="bold" fill="#000" textLength="77.5" lengthAdjust="spacingAndGlyphs" transform="rotate(-90 308.60 45.50)" >Tumor volume (mm<tspan font-size="65%" dy="-3">3</tspan><tspan dy="3">)</tspan></text>
<line x1="507.70" y1="10.00" x2="507.70" y2="89.90" stroke="#555" stroke-width="0.9"/>
<line x1="507.20" y1="89.40" x2="627.60" y2="89.40" stroke="#1a1a1a" stroke-width="1"/>
<line x1="505.10" y1="89.40" x2="507.70" y2="89.40" stroke="#555" stroke-width="0.9"/>
<text x="504.50" y="92.20" font-size="7.8" text-anchor="end" font-weight="bold" fill="#000" textLength="4.81" lengthAdjust="spacingAndGlyphs" >0</text>
<line x1="505.10" y1="62.93" x2="507.70" y2="62.93" stroke="#555" stroke-width="0.9"/>
<text x="504.50" y="65.73" font-size="7.8" text-anchor="end" font-weight="bold" fill="#000" textLength="14.44" lengthAdjust="spacingAndGlyphs" >500</text>
<line x1="505.10" y1="36.47" x2="507.70" y2="36.47" stroke="#555" stroke-width="0.9"/>
<text x="504.50" y="39.27" font-size="7.8" text-anchor="end" font-weight="bold" fill="#000" textLength="19.26" lengthAdjust="spacingAndGlyphs" >1000</text>
<line x1="505.10" y1="10.00" x2="507.70" y2="10.00" stroke="#555" stroke-width="0.9"/>
<text x="504.50" y="12.80" font-size="7.8" text-anchor="end" font-weight="bold" fill="#000" textLength="19.26" lengthAdjust="spacingAndGlyphs" >1500</text>
<line x1="528.20" y1="89.40" x2="528.20" y2="91.60" stroke="#555" stroke-width="0.8"/>
<line x1="568.10" y1="89.40" x2="568.10" y2="91.60" stroke="#555" stroke-width="0.8"/>
<line x1="608.30" y1="89.40" x2="608.30" y2="91.60" stroke="#555" stroke-width="0.8"/>
<rect x="515.40" y="54.20" width="25.60" height="35.20" fill="#0000FF" stroke="#000" stroke-width="1"/>
<line x1="528.20" y1="50.76" x2="528.20" y2="56.58" stroke="#000" stroke-width="0.8"/>
<line x1="521.20" y1="50.76" x2="535.20" y2="50.76" stroke="#000" stroke-width="0.8"/>
<line x1="521.20" y1="56.58" x2="535.20" y2="56.58" stroke="#000" stroke-width="0.8"/>
<circle cx="528.20" cy="38.32" r="1.4" fill="#000"/>
<circle cx="525.20" cy="48.91" r="1.4" fill="#000"/>
<circle cx="531.20" cy="48.38" r="1.4" fill="#000"/>
<circle cx="522.20" cy="52.35" r="1.4" fill="#000"/>
<circle cx="528.20" cy="52.35" r="1.4" fill="#000"/>
<circle cx="534.20" cy="53.41" r="1.4" fill="#000"/>
<circle cx="528.20" cy="61.08" r="1.4" fill="#000"/>
<circle cx="528.20" cy="66.64" r="1.4" fill="#000"/>
<rect x="555.50" y="43.08" width="25.20" height="46.32" fill="#FF0A80" stroke="#000" stroke-width="1"/>
<line x1="568.10" y1="38.90" x2="568.10" y2="45.99" stroke="#000" stroke-width="0.8"/>
<line x1="561.10" y1="38.90" x2="575.10" y2="38.90" stroke="#000" stroke-width="0.8"/>
<line x1="561.10" y1="45.99" x2="575.10" y2="45.99" stroke="#000" stroke-width="0.8"/>
<rect x="566.80" y="21.51" width="2.60" height="2.60" fill="#000"/>
<rect x="566.80" y="31.88" width="2.60" height="2.60" fill="#000"/>
<rect x="562.80" y="36.12" width="2.60" height="2.60" fill="#000"/>
<rect x="570.80" y="37.39" width="2.60" height="2.60" fill="#000"/>
<rect x="562.80" y="48.29" width="2.60" height="2.60" fill="#000"/>
<rect x="570.80" y="46.12" width="2.60" height="2.60" fill="#000"/>
<rect x="562.80" y="53.11" width="2.60" height="2.60" fill="#000"/>
<rect x="570.80" y="53.11" width="2.60" height="2.60" fill="#000"/>
<rect x="566.80" y="42.05" width="2.60" height="2.60" fill="#000"/>
<rect x="595.70" y="68.23" width="25.20" height="21.17" fill="#0F730F" stroke="#000" stroke-width="1"/>
<line x1="608.30" y1="64.79" x2="608.30" y2="69.92" stroke="#000" stroke-width="0.8"/>
<line x1="601.30" y1="64.79" x2="615.30" y2="64.79" stroke="#000" stroke-width="0.8"/>
<line x1="601.30" y1="69.92" x2="615.30" y2="69.92" stroke="#000" stroke-width="0.8"/>
<polygon points="608.30,51.20 606.76,54.00 609.84,54.00" fill="#000"/>
<polygon points="608.30,56.33 606.76,59.13 609.84,59.13" fill="#000"/>
<polygon points="604.30,63.11 602.76,65.91 605.84,65.91" fill="#000"/>
<polygon points="612.30,62.21 610.76,65.01 613.84,65.01" fill="#000"/>
<polygon points="599.30,71.31 597.76,74.11 600.84,74.11" fill="#000"/>
<polygon points="605.30,71.31 603.76,74.11 606.84,74.11" fill="#000"/>
<polygon points="612.30,71.31 610.76,74.11 613.84,74.11" fill="#000"/>
<polygon points="618.30,71.31 616.76,74.11 619.84,74.11" fill="#000"/>
<polygon points="599.30,74.91 597.76,77.71 600.84,77.71" fill="#000"/>
<line x1="524.50" y1="6.75" x2="606.60" y2="6.75" stroke="#000" stroke-width="1"/>
<line x1="524.50" y1="5.00" x2="524.50" y2="8.50" stroke="#000" stroke-width="1"/>
<line x1="606.60" y1="5.00" x2="606.60" y2="8.50" stroke="#000" stroke-width="1"/>
<text x="559.20" y="7.10" font-size="6.5" text-anchor="middle" font-weight="bold" fill="#000" >**</text>
<line x1="524.50" y1="14.20" x2="568.90" y2="14.20" stroke="#000" stroke-width="1"/>
<line x1="524.50" y1="12.45" x2="524.50" y2="15.95" stroke="#000" stroke-width="1"/>
<line x1="568.90" y1="12.45" x2="568.90" y2="15.95" stroke="#000" stroke-width="1"/>
<text x="546.60" y="14.70" font-size="6.5" text-anchor="middle" font-weight="bold" fill="#000" >*</text>
<text x="480.80" y="48.00" font-size="9.5" text-anchor="middle" font-weight="bold" fill="#000" textLength="97" lengthAdjust="spacingAndGlyphs" transform="rotate(-90 480.80 48.00)" >Tumor volume (mm<tspan font-size="65%" dy="-3">3</tspan><tspan dy="3">)</tspan></text>
<polyline points="49.60,206.60 65.25,203.22 71.95,196.50 80.89,195.02 96.54,183.09 103.24,182.21" fill="none" stroke="#0000FF" stroke-width="0.9" stroke-linejoin="round"/>
<circle cx="65.25" cy="203.22" r="1.3" fill="#000"/>
<circle cx="71.95" cy="196.50" r="1.3" fill="#000"/>
<circle cx="80.89" cy="195.02" r="1.3" fill="#000"/>
<circle cx="96.54" cy="183.09" r="1.3" fill="#000"/>
<circle cx="103.24" cy="182.21" r="1.3" fill="#000"/>
<polyline points="49.60,206.60 65.25,202.31 71.95,197.48 80.89,195.79 96.54,189.92 103.24,191.40 112.18,186.30 118.89,181.61 127.83,171.71" fill="none" stroke="#0000FF" stroke-width="0.9" stroke-linejoin="round"/>
<circle cx="65.25" cy="202.31" r="1.3" fill="#000"/>
<circle cx="71.95" cy="197.48" r="1.3" fill="#000"/>
<circle cx="80.89" cy="195.79" r="1.3" fill="#000"/>
<circle cx="96.54" cy="189.92" r="1.3" fill="#000"/>
<circle cx="103.24" cy="191.40" r="1.3" fill="#000"/>
<circle cx="112.18" cy="186.30" r="1.3" fill="#000"/>
<circle cx="118.89" cy="181.61" r="1.3" fill="#000"/>
<circle cx="127.83" cy="171.71" r="1.3" fill="#000"/>
<polyline points="49.60,206.60 65.25,202.88 71.95,198.49 80.89,196.47 96.54,193.60 103.24,192.41 112.18,187.99 118.89,184.82 127.83,180.69 134.53,177.79" fill="none" stroke="#0000FF" stroke-width="0.9" stroke-linejoin="round"/>
<circle cx="65.25" cy="202.88" r="1.3" fill="#000"/>
<circle cx="71.95" cy="198.49" r="1.3" fill="#000"/>
<circle cx="80.89" cy="196.47" r="1.3" fill="#000"/>
<circle cx="96.54" cy="193.60" r="1.3" fill="#000"/>
<circle cx="103.24" cy="192.41" r="1.3" fill="#000"/>
<circle cx="112.18" cy="187.99" r="1.3" fill="#000"/>
<circle cx="118.89" cy="184.82" r="1.3" fill="#000"/>
<circle cx="127.83" cy="180.69" r="1.3" fill="#000"/>
<circle cx="134.53" cy="177.79" r="1.3" fill="#000"/>
<polyline points="49.60,206.60 65.25,203.39 71.95,199.84 80.89,197.14 96.54,194.78 103.24,193.77 112.18,193.09 118.89,191.06 127.83,184.11" fill="none" stroke="#0000FF" stroke-width="0.9" stroke-linejoin="round"/>
<circle cx="65.25" cy="203.39" r="1.3" fill="#000"/>
<circle cx="71.95" cy="199.84" r="1.3" fill="#000"/>
<circle cx="80.89" cy="197.14" r="1.3" fill="#000"/>
<circle cx="96.54" cy="194.78" r="1.3" fill="#000"/>
<circle cx="103.24" cy="193.77" r="1.3" fill="#000"/>
<circle cx="112.18" cy="193.09" r="1.3" fill="#000"/>
<circle cx="118.89" cy="191.06" r="1.3" fill="#000"/>
<circle cx="127.83" cy="184.11" r="1.3" fill="#000"/>
<polyline points="49.60,206.60 65.25,203.56 71.95,200.52 80.89,197.82 96.54,195.45 103.24,195.45 112.18,193.60 118.89,193.29 127.83,191.00 134.53,188.50 143.47,179.01" fill="none" stroke="#0000FF" stroke-width="0.9" stroke-linejoin="round"/>
<circle cx="65.25" cy="203.56" r="1.3" fill="#000"/>
<circle cx="71.95" cy="200.52" r="1.3" fill="#000"/>
<circle cx="80.89" cy="197.82" r="1.3" fill="#000"/>
<circle cx="96.54" cy="195.45" r="1.3" fill="#000"/>
<circle cx="103.24" cy="195.45" r="1.3" fill="#000"/>
<circle cx="112.18" cy="193.60" r="1.3" fill="#000"/>
<circle cx="118.89" cy="193.29" r="1.3" fill="#000"/>
<circle cx="127.83" cy="191.00" r="1.3" fill="#000"/>
<circle cx="134.53" cy="188.50" r="1.3" fill="#000"/>
<circle cx="143.47" cy="179.01" r="1.3" fill="#000"/>
<polyline points="49.60,206.60 65.25,203.73 71.95,201.53 80.89,198.49 96.54,196.47 103.24,196.47 112.18,194.78 118.89,193.29" fill="none" stroke="#0000FF" stroke-width="0.9" stroke-linejoin="round"/>
<circle cx="65.25" cy="203.73" r="1.3" fill="#000"/>
<circle cx="71.95" cy="201.53" r="1.3" fill="#000"/>
<circle cx="80.89" cy="198.49" r="1.3" fill="#000"/>
<circle cx="96.54" cy="196.47" r="1.3" fill="#000"/>
<circle cx="103.24" cy="196.47" r="1.3" fill="#000"/>
<circle cx="112.18" cy="194.78" r="1.3" fill="#000"/>
<circle cx="118.89" cy="193.29" r="1.3" fill="#000"/>
<polyline points="49.60,206.60 65.25,203.80 71.95,202.31 80.89,199.10 96.54,197.21 103.24,198.19 112.18,195.79 118.89,193.09" fill="none" stroke="#0000FF" stroke-width="0.9" stroke-linejoin="round"/>
<circle cx="65.25" cy="203.80" r="1.3" fill="#000"/>
<circle cx="71.95" cy="202.31" r="1.3" fill="#000"/>
<circle cx="80.89" cy="199.10" r="1.3" fill="#000"/>
<circle cx="96.54" cy="197.21" r="1.3" fill="#000"/>
<circle cx="103.24" cy="198.19" r="1.3" fill="#000"/>
<circle cx="112.18" cy="195.79" r="1.3" fill="#000"/>
<circle cx="118.89" cy="193.09" r="1.3" fill="#000"/>
<polyline points="49.60,206.60 65.25,203.05 71.95,199.17 80.89,196.47 96.54,195.79 103.24,197.14 112.18,195.45" fill="none" stroke="#0000FF" stroke-width="0.9" stroke-linejoin="round"/>
<circle cx="65.25" cy="203.05" r="1.3" fill="#000"/>
<circle cx="71.95" cy="199.17" r="1.3" fill="#000"/>
<circle cx="80.89" cy="196.47" r="1.3" fill="#000"/>
<circle cx="96.54" cy="195.79" r="1.3" fill="#000"/>
<circle cx="103.24" cy="197.14" r="1.3" fill="#000"/>
<circle cx="112.18" cy="195.45" r="1.3" fill="#000"/>
<line x1="49.60" y1="139.05" x2="49.60" y2="207.10" stroke="#1a1a1a" stroke-width="1"/>
<line x1="49.10" y1="206.60" x2="150.50" y2="206.60" stroke="#1a1a1a" stroke-width="1"/>
<line x1="47.00" y1="206.60" x2="49.60" y2="206.60" stroke="#1a1a1a" stroke-width="1"/>
<text x="46.00" y="208.83" font-size="6.2" text-anchor="end" font-weight="bold" fill="#000" textLength="4.03" lengthAdjust="spacingAndGlyphs" >0</text>
<line x1="47.00" y1="189.71" x2="49.60" y2="189.71" stroke="#1a1a1a" stroke-width="1"/>
<text x="46.00" y="191.94" font-size="6.2" text-anchor="end" font-weight="bold" fill="#000" textLength="12.1" lengthAdjust="spacingAndGlyphs" >500</text>
<line x1="47.00" y1="172.82" x2="49.60" y2="172.82" stroke="#1a1a1a" stroke-width="1"/>
<text x="46.00" y="175.06" font-size="6.2" text-anchor="end" font-weight="bold" fill="#000" textLength="16.14" lengthAdjust="spacingAndGlyphs" >1000</text>
<line x1="47.00" y1="155.94" x2="49.60" y2="155.94" stroke="#1a1a1a" stroke-width="1"/>
<text x="46.00" y="158.17" font-size="6.2" text-anchor="end" font-weight="bold" fill="#000" textLength="16.14" lengthAdjust="spacingAndGlyphs" >1500</text>
<line x1="47.00" y1="139.05" x2="49.60" y2="139.05" stroke="#1a1a1a" stroke-width="1"/>
<text x="46.00" y="141.28" font-size="6.2" text-anchor="end" font-weight="bold" fill="#000" textLength="16.14" lengthAdjust="spacingAndGlyphs" >2000</text>
<line x1="49.60" y1="206.60" x2="49.60" y2="209.20" stroke="#1a1a1a" stroke-width="1"/>
<text x="49.60" y="215.80" font-size="6.8" text-anchor="middle" font-weight="bold" fill="#000" textLength="4.42" lengthAdjust="spacingAndGlyphs" >0</text>
<line x1="71.95" y1="206.60" x2="71.95" y2="209.20" stroke="#1a1a1a" stroke-width="1"/>
<text x="71.95" y="215.80" font-size="6.8" text-anchor="middle" font-weight="bold" fill="#000" textLength="8.85" lengthAdjust="spacingAndGlyphs" >10</text>
<line x1="94.30" y1="206.60" x2="94.30" y2="209.20" stroke="#1a1a1a" stroke-width="1"/>
<text x="94.30" y="215.80" font-size="6.8" text-anchor="middle" font-weight="bold" fill="#000" textLength="8.85" lengthAdjust="spacingAndGlyphs" >20</text>
<line x1="116.65" y1="206.60" x2="116.65" y2="209.20" stroke="#1a1a1a" stroke-width="1"/>
<text x="116.65" y="215.80" font-size="6.8" text-anchor="middle" font-weight="bold" fill="#000" textLength="8.85" lengthAdjust="spacingAndGlyphs" >30</text>
<line x1="139.00" y1="206.60" x2="139.00" y2="209.20" stroke="#1a1a1a" stroke-width="1"/>
<text x="139.00" y="215.80" font-size="6.8" text-anchor="middle" font-weight="bold" fill="#000" textLength="8.85" lengthAdjust="spacingAndGlyphs" >40</text>
<text x="100.00" y="140.60" font-size="7" text-anchor="middle" font-weight="bold" fill="#000" textLength="50.4" lengthAdjust="spacingAndGlyphs" >Ly2 Control sh</text>
<text x="99.80" y="224.70" font-size="8.4" text-anchor="middle" font-weight="bold" fill="#000" textLength="89.6" lengthAdjust="spacingAndGlyphs" >Days post implantation</text>
<text x="25.30" y="170.20" font-size="8.5" text-anchor="middle" font-weight="bold" fill="#000" textLength="80.5" lengthAdjust="spacingAndGlyphs" transform="rotate(-90 25.30 170.20)" >Tumor volume (mm3)</text>
<polyline points="194.90,205.70 210.42,201.67 217.08,192.29 225.94,190.82 241.47,174.72 248.12,157.79" fill="none" stroke="#FF0A80" stroke-width="0.9" stroke-linejoin="round"/>
<circle cx="210.42" cy="201.67" r="1.3" fill="#000"/>
<circle cx="217.08" cy="192.29" r="1.3" fill="#000"/>
<circle cx="225.94" cy="190.82" r="1.3" fill="#000"/>
<circle cx="241.47" cy="174.72" r="1.3" fill="#000"/>
<circle cx="248.12" cy="157.79" r="1.3" fill="#000"/>
<polyline points="194.90,205.70 210.42,202.00 217.08,193.94 225.94,191.59 241.47,179.09 248.12,161.89" fill="none" stroke="#FF0A80" stroke-width="0.9" stroke-linejoin="round"/>
<circle cx="210.42" cy="202.00" r="1.3" fill="#000"/>
<circle cx="217.08" cy="193.94" r="1.3" fill="#000"/>
<circle cx="225.94" cy="191.59" r="1.3" fill="#000"/>
<circle cx="241.47" cy="179.09" r="1.3" fill="#000"/>
<circle cx="248.12" cy="161.89" r="1.3" fill="#000"/>
<polyline points="194.90,205.70 210.42,202.34 217.08,194.95 225.94,192.26 241.47,182.78 248.12,165.11" fill="none" stroke="#FF0A80" stroke-width="0.9" stroke-linejoin="round"/>
<circle cx="210.42" cy="202.34" r="1.3" fill="#000"/>
<circle cx="217.08" cy="194.95" r="1.3" fill="#000"/>
<circle cx="225.94" cy="192.26" r="1.3" fill="#000"/>
<circle cx="241.47" cy="182.78" r="1.3" fill="#000"/>
<circle cx="248.12" cy="165.11" r="1.3" fill="#000"/>
<polyline points="194.90,205.70 210.42,202.68 217.08,195.62 225.94,192.93 241.47,186.98 248.12,181.31 256.99,169.21 263.64,151.20" fill="none" stroke="#FF0A80" stroke-width="0.9" stroke-linejoin="round"/>
<circle cx="210.42" cy="202.68" r="1.3" fill="#000"/>
<circle cx="217.08" cy="195.62" r="1.3" fill="#000"/>
<circle cx="225.94" cy="192.93" r="1.3" fill="#000"/>
<circle cx="241.47" cy="186.98" r="1.3" fill="#000"/>
<circle cx="248.12" cy="181.31" r="1.3" fill="#000"/>
<circle cx="256.99" cy="169.21" r="1.3" fill="#000"/>
<circle cx="263.64" cy="151.20" r="1.3" fill="#000"/>
<polyline points="194.90,205.70 210.42,202.84 217.08,196.29 225.94,193.60 241.47,187.89 248.12,186.98 256.99,170.12" fill="none" stroke="#FF0A80" stroke-width="0.9" stroke-linejoin="round"/>
<circle cx="210.42" cy="202.84" r="1.3" fill="#000"/>
<circle cx="217.08" cy="196.29" r="1.3" fill="#000"/>
<circle cx="225.94" cy="193.60" r="1.3" fill="#000"/>
<circle cx="241.47" cy="187.89" r="1.3" fill="#000"/>
<circle cx="248.12" cy="186.98" r="1.3" fill="#000"/>
<circle cx="256.99" cy="170.12" r="1.3" fill="#000"/>
<polyline points="194.90,205.70 210.42,203.01 217.08,197.30 225.94,194.61 241.47,188.90 248.12,187.89 256.99,189.61 263.64,182.31 272.51,178.01 279.17,168.81" fill="none" stroke="#FF0A80" stroke-width="0.9" stroke-linejoin="round"/>
<circle cx="210.42" cy="203.01" r="1.3" fill="#000"/>
<circle cx="217.08" cy="197.30" r="1.3" fill="#000"/>
<circle cx="225.94" cy="194.61" r="1.3" fill="#000"/>
<circle cx="241.47" cy="188.90" r="1.3" fill="#000"/>
<circle cx="248.12" cy="187.89" r="1.3" fill="#000"/>
<circle cx="256.99" cy="189.61" r="1.3" fill="#000"/>
<circle cx="263.64" cy="182.31" r="1.3" fill="#000"/>
<circle cx="272.51" cy="178.01" r="1.3" fill="#000"/>
<circle cx="279.17" cy="168.81" r="1.3" fill="#000"/>
<polyline points="194.90,205.70 210.42,203.11 217.08,198.31 225.94,195.28 241.47,192.80 248.12,192.60 256.99,190.41" fill="none" stroke="#FF0A80" stroke-width="0.9" stroke-linejoin="round"/>
<circle cx="210.42" cy="203.11" r="1.3" fill="#000"/>
<circle cx="217.08" cy="198.31" r="1.3" fill="#000"/>
<circle cx="225.94" cy="195.28" r="1.3" fill="#000"/>
<circle cx="241.47" cy="192.80" r="1.3" fill="#000"/>
<circle cx="248.12" cy="192.60" r="1.3" fill="#000"/>
<circle cx="256.99" cy="190.41" r="1.3" fill="#000"/>
<polyline points="194.90,205.70 210.42,202.51 217.08,199.11 225.94,195.79 241.47,192.80 248.12,195.49 256.99,194.71 263.64,194.71 272.51,192.29 279.17,191.99 288.04,186.72" fill="none" stroke="#FF0A80" stroke-width="0.9" stroke-linejoin="round"/>
<circle cx="210.42" cy="202.51" r="1.3" fill="#000"/>
<circle cx="217.08" cy="199.11" r="1.3" fill="#000"/>
<circle cx="225.94" cy="195.79" r="1.3" fill="#000"/>
<circle cx="241.47" cy="192.80" r="1.3" fill="#000"/>
<circle cx="248.12" cy="195.49" r="1.3" fill="#000"/>
<circle cx="256.99" cy="194.71" r="1.3" fill="#000"/>
<circle cx="263.64" cy="194.71" r="1.3" fill="#000"/>
<circle cx="272.51" cy="192.29" r="1.3" fill="#000"/>
<circle cx="279.17" cy="191.99" r="1.3" fill="#000"/>
<circle cx="288.04" cy="186.72" r="1.3" fill="#000"/>
<polyline points="194.90,205.70 210.42,202.17 217.08,196.96 225.94,194.28 241.47,191.59 248.12,194.61" fill="none" stroke="#FF0A80" stroke-width="0.9" stroke-linejoin="round"/>
<circle cx="210.42" cy="202.17" r="1.3" fill="#000"/>
<circle cx="217.08" cy="196.96" r="1.3" fill="#000"/>
<circle cx="225.94" cy="194.28" r="1.3" fill="#000"/>
<circle cx="241.47" cy="191.59" r="1.3" fill="#000"/>
<circle cx="248.12" cy="194.61" r="1.3" fill="#000"/>
<line x1="194.90" y1="138.50" x2="194.90" y2="206.20" stroke="#1a1a1a" stroke-width="1"/>
<line x1="194.40" y1="205.70" x2="295.00" y2="205.70" stroke="#1a1a1a" stroke-width="1"/>
<line x1="192.30" y1="205.70" x2="194.90" y2="205.70" stroke="#1a1a1a" stroke-width="1"/>
<text x="191.30" y="208.00" font-size="6.4" text-anchor="end" font-weight="bold" fill="#000" textLength="4.02" lengthAdjust="spacingAndGlyphs" >0</text>
<line x1="192.30" y1="188.90" x2="194.90" y2="188.90" stroke="#1a1a1a" stroke-width="1"/>
<text x="191.30" y="191.20" font-size="6.4" text-anchor="end" font-weight="bold" fill="#000" textLength="12.07" lengthAdjust="spacingAndGlyphs" >500</text>
<line x1="192.30" y1="172.10" x2="194.90" y2="172.10" stroke="#1a1a1a" stroke-width="1"/>
<text x="191.30" y="174.40" font-size="6.4" text-anchor="end" font-weight="bold" fill="#000" textLength="16.09" lengthAdjust="spacingAndGlyphs" >1000</text>
<line x1="192.30" y1="155.30" x2="194.90" y2="155.30" stroke="#1a1a1a" stroke-width="1"/>
<text x="191.30" y="157.60" font-size="6.4" text-anchor="end" font-weight="bold" fill="#000" textLength="16.09" lengthAdjust="spacingAndGlyphs" >1500</text>
<line x1="192.30" y1="138.50" x2="194.90" y2="138.50" stroke="#1a1a1a" stroke-width="1"/>
<text x="191.30" y="140.80" font-size="6.4" text-anchor="end" font-weight="bold" fill="#000" textLength="16.09" lengthAdjust="spacingAndGlyphs" >2000</text>
<line x1="194.90" y1="205.70" x2="194.90" y2="208.30" stroke="#1a1a1a" stroke-width="1"/>
<text x="194.90" y="214.90" font-size="6.8" text-anchor="middle" font-weight="bold" fill="#000" textLength="4.27" lengthAdjust="spacingAndGlyphs" >0</text>
<line x1="217.08" y1="205.70" x2="217.08" y2="208.30" stroke="#1a1a1a" stroke-width="1"/>
<text x="217.08" y="214.90" font-size="6.8" text-anchor="middle" font-weight="bold" fill="#000" textLength="8.55" lengthAdjust="spacingAndGlyphs" >10</text>
<line x1="239.25" y1="205.70" x2="239.25" y2="208.30" stroke="#1a1a1a" stroke-width="1"/>
<text x="239.25" y="214.90" font-size="6.8" text-anchor="middle" font-weight="bold" fill="#000" textLength="8.55" lengthAdjust="spacingAndGlyphs" >20</text>
<line x1="261.43" y1="205.70" x2="261.43" y2="208.30" stroke="#1a1a1a" stroke-width="1"/>
<text x="261.43" y="214.90" font-size="6.8" text-anchor="middle" font-weight="bold" fill="#000" textLength="8.55" lengthAdjust="spacingAndGlyphs" >30</text>
<line x1="283.60" y1="205.70" x2="283.60" y2="208.30" stroke="#1a1a1a" stroke-width="1"/>
<text x="283.60" y="214.90" font-size="6.8" text-anchor="middle" font-weight="bold" fill="#000" textLength="8.55" lengthAdjust="spacingAndGlyphs" >40</text>
<text x="245.20" y="140.10" font-size="7" text-anchor="middle" font-weight="bold" fill="#000" textLength="46.8" lengthAdjust="spacingAndGlyphs" >Ly2 EphB4 sh</text>
<text x="245.00" y="224.70" font-size="8.4" text-anchor="middle" font-weight="bold" fill="#000" textLength="88.8" lengthAdjust="spacingAndGlyphs" >Days post implantation</text>
<text x="173.30" y="169.70" font-size="8.8" text-anchor="middle" font-weight="bold" fill="#000" textLength="79.4" lengthAdjust="spacingAndGlyphs" transform="rotate(-90 173.30 169.70)" >Tumor volume (mm3)</text>
<polyline points="346.00,206.90 361.63,201.91 368.32,196.93 377.25,193.60 392.88,183.09 399.58,173.12" fill="none" stroke="#2E9B3A" stroke-width="0.6" stroke-linejoin="round"/>
<circle cx="361.63" cy="201.91" r="1.3" fill="#000"/>
<circle cx="368.32" cy="196.93" r="1.3" fill="#000"/>
<circle cx="377.25" cy="193.60" r="1.3" fill="#000"/>
<circle cx="392.88" cy="183.09" r="1.3" fill="#000"/>
<circle cx="399.58" cy="173.12" r="1.3" fill="#000"/>
<polyline points="346.00,206.90 361.63,201.25 368.32,196.19 377.25,192.80 392.88,185.29 399.58,186.95 408.51,179.00 415.21,175.81" fill="none" stroke="#2E9B3A" stroke-width="0.6" stroke-linejoin="round"/>
<circle cx="361.63" cy="201.25" r="1.3" fill="#000"/>
<circle cx="368.32" cy="196.19" r="1.3" fill="#000"/>
<circle cx="377.25" cy="192.80" r="1.3" fill="#000"/>
<circle cx="392.88" cy="185.29" r="1.3" fill="#000"/>
<circle cx="399.58" cy="186.95" r="1.3" fill="#000"/>
<circle cx="408.51" cy="179.00" r="1.3" fill="#000"/>
<circle cx="415.21" cy="175.81" r="1.3" fill="#000"/>
<polyline points="346.00,206.90 361.63,202.25 368.32,197.26 377.25,193.93 392.88,186.95 399.58,188.28 408.51,180.40 415.21,176.81" fill="none" stroke="#2E9B3A" stroke-width="0.6" stroke-linejoin="round"/>
<circle cx="361.63" cy="202.25" r="1.3" fill="#000"/>
<circle cx="368.32" cy="197.26" r="1.3" fill="#000"/>
<circle cx="377.25" cy="193.93" r="1.3" fill="#000"/>
<circle cx="392.88" cy="186.95" r="1.3" fill="#000"/>
<circle cx="399.58" cy="188.28" r="1.3" fill="#000"/>
<circle cx="408.51" cy="180.40" r="1.3" fill="#000"/>
<circle cx="415.21" cy="176.81" r="1.3" fill="#000"/>
<polyline points="346.00,206.90 361.63,202.91 368.32,197.92 377.25,194.60 392.88,188.61 399.58,189.61 408.51,184.49 415.21,180.40" fill="none" stroke="#2E9B3A" stroke-width="0.6" stroke-linejoin="round"/>
<circle cx="361.63" cy="202.91" r="1.3" fill="#000"/>
<circle cx="368.32" cy="197.92" r="1.3" fill="#000"/>
<circle cx="377.25" cy="194.60" r="1.3" fill="#000"/>
<circle cx="392.88" cy="188.61" r="1.3" fill="#000"/>
<circle cx="399.58" cy="189.61" r="1.3" fill="#000"/>
<circle cx="408.51" cy="184.49" r="1.3" fill="#000"/>
<circle cx="415.21" cy="180.40" r="1.3" fill="#000"/>
<polyline points="346.00,206.90 361.63,203.58 368.32,198.59 377.25,195.26 392.88,190.28 399.58,191.94 408.51,191.01 415.21,185.99" fill="none" stroke="#2E9B3A" stroke-width="0.6" stroke-linejoin="round"/>
<circle cx="361.63" cy="203.58" r="1.3" fill="#000"/>
<circle cx="368.32" cy="198.59" r="1.3" fill="#000"/>
<circle cx="377.25" cy="195.26" r="1.3" fill="#000"/>
<circle cx="392.88" cy="190.28" r="1.3" fill="#000"/>
<circle cx="399.58" cy="191.94" r="1.3" fill="#000"/>
<circle cx="408.51" cy="191.01" r="1.3" fill="#000"/>
<circle cx="415.21" cy="185.99" r="1.3" fill="#000"/>
<polyline points="346.00,206.90 361.63,203.91 368.32,198.92 377.25,195.93 392.88,191.94 399.58,193.60 408.51,196.19 415.21,195.00 424.14,183.09 430.84,169.00" fill="none" stroke="#2E9B3A" stroke-width="0.6" stroke-linejoin="round"/>
<circle cx="361.63" cy="203.91" r="1.3" fill="#000"/>
<circle cx="368.32" cy="198.92" r="1.3" fill="#000"/>
<circle cx="377.25" cy="195.93" r="1.3" fill="#000"/>
<circle cx="392.88" cy="191.94" r="1.3" fill="#000"/>
<circle cx="399.58" cy="193.60" r="1.3" fill="#000"/>
<circle cx="408.51" cy="196.19" r="1.3" fill="#000"/>
<circle cx="415.21" cy="195.00" r="1.3" fill="#000"/>
<circle cx="424.14" cy="183.09" r="1.3" fill="#000"/>
<circle cx="430.84" cy="169.00" r="1.3" fill="#000"/>
<polyline points="346.00,206.90 361.63,204.24 368.32,199.25 377.25,196.26 392.88,193.60 399.58,196.93 408.51,196.19 415.21,195.00 424.14,195.00 430.84,195.00" fill="none" stroke="#2E9B3A" stroke-width="0.6" stroke-linejoin="round"/>
<circle cx="361.63" cy="204.24" r="1.3" fill="#000"/>
<circle cx="368.32" cy="199.25" r="1.3" fill="#000"/>
<circle cx="377.25" cy="196.26" r="1.3" fill="#000"/>
<circle cx="392.88" cy="193.60" r="1.3" fill="#000"/>
<circle cx="399.58" cy="196.93" r="1.3" fill="#000"/>
<circle cx="408.51" cy="196.19" r="1.3" fill="#000"/>
<circle cx="415.21" cy="195.00" r="1.3" fill="#000"/>
<circle cx="424.14" cy="195.00" r="1.3" fill="#000"/>
<circle cx="430.84" cy="195.00" r="1.3" fill="#000"/>
<polyline points="346.00,206.90 361.63,204.51 368.32,199.68 377.25,196.79 392.88,195.26 399.58,198.59" fill="none" stroke="#2E9B3A" stroke-width="0.6" stroke-linejoin="round"/>
<circle cx="361.63" cy="204.51" r="1.3" fill="#000"/>
<circle cx="368.32" cy="199.68" r="1.3" fill="#000"/>
<circle cx="377.25" cy="196.79" r="1.3" fill="#000"/>
<circle cx="392.88" cy="195.26" r="1.3" fill="#000"/>
<circle cx="399.58" cy="198.59" r="1.3" fill="#000"/>
<polyline points="346.00,206.90 361.63,203.24 368.32,198.25 377.25,194.93 392.88,196.93 399.58,200.62" fill="none" stroke="#2E9B3A" stroke-width="0.6" stroke-linejoin="round"/>
<circle cx="361.63" cy="203.24" r="1.3" fill="#000"/>
<circle cx="368.32" cy="198.25" r="1.3" fill="#000"/>
<circle cx="377.25" cy="194.93" r="1.3" fill="#000"/>
<circle cx="392.88" cy="196.93" r="1.3" fill="#000"/>
<circle cx="399.58" cy="200.62" r="1.3" fill="#000"/>
<polyline points="346.00,206.90 361.63,202.58 368.32,197.59 377.25,194.27 392.88,198.69 399.58,199.59" fill="none" stroke="#2E9B3A" stroke-width="0.6" stroke-linejoin="round"/>
<circle cx="361.63" cy="202.58" r="1.3" fill="#000"/>
<circle cx="368.32" cy="197.59" r="1.3" fill="#000"/>
<circle cx="377.25" cy="194.27" r="1.3" fill="#000"/>
<circle cx="392.88" cy="198.69" r="1.3" fill="#000"/>
<circle cx="399.58" cy="199.59" r="1.3" fill="#000"/>
<line x1="346.00" y1="140.40" x2="346.00" y2="207.40" stroke="#1a1a1a" stroke-width="1"/>
<line x1="345.50" y1="206.90" x2="446.00" y2="206.90" stroke="#1a1a1a" stroke-width="1"/>
<line x1="343.40" y1="206.90" x2="346.00" y2="206.90" stroke="#1a1a1a" stroke-width="1"/>
<text x="342.40" y="209.20" font-size="6.4" text-anchor="end" font-weight="bold" fill="#000" textLength="4.02" lengthAdjust="spacingAndGlyphs" >0</text>
<line x1="343.40" y1="190.28" x2="346.00" y2="190.28" stroke="#1a1a1a" stroke-width="1"/>
<text x="342.40" y="192.58" font-size="6.4" text-anchor="end" font-weight="bold" fill="#000" textLength="12.07" lengthAdjust="spacingAndGlyphs" >500</text>
<line x1="343.40" y1="173.65" x2="346.00" y2="173.65" stroke="#1a1a1a" stroke-width="1"/>
<text x="342.40" y="175.95" font-size="6.4" text-anchor="end" font-weight="bold" fill="#000" textLength="16.09" lengthAdjust="spacingAndGlyphs" >1000</text>
<line x1="343.40" y1="157.03" x2="346.00" y2="157.03" stroke="#1a1a1a" stroke-width="1"/>
<text x="342.40" y="159.33" font-size="6.4" text-anchor="end" font-weight="bold" fill="#000" textLength="16.09" lengthAdjust="spacingAndGlyphs" >1500</text>
<line x1="343.40" y1="140.40" x2="346.00" y2="140.40" stroke="#1a1a1a" stroke-width="1"/>
<text x="342.40" y="142.70" font-size="6.4" text-anchor="end" font-weight="bold" fill="#000" textLength="16.09" lengthAdjust="spacingAndGlyphs" >2000</text>
<line x1="346.00" y1="206.90" x2="346.00" y2="209.50" stroke="#1a1a1a" stroke-width="1"/>
<text x="346.00" y="216.10" font-size="6.8" text-anchor="middle" font-weight="bold" fill="#000" textLength="4.27" lengthAdjust="spacingAndGlyphs" >0</text>
<line x1="368.32" y1="206.90" x2="368.32" y2="209.50" stroke="#1a1a1a" stroke-width="1"/>
<text x="368.32" y="216.10" font-size="6.8" text-anchor="middle" font-weight="bold" fill="#000" textLength="8.55" lengthAdjust="spacingAndGlyphs" >10</text>
<line x1="390.65" y1="206.90" x2="390.65" y2="209.50" stroke="#1a1a1a" stroke-width="1"/>
<text x="390.65" y="216.10" font-size="6.8" text-anchor="middle" font-weight="bold" fill="#000" textLength="8.55" lengthAdjust="spacingAndGlyphs" >20</text>
<line x1="412.98" y1="206.90" x2="412.98" y2="209.50" stroke="#1a1a1a" stroke-width="1"/>
<text x="412.98" y="216.10" font-size="6.8" text-anchor="middle" font-weight="bold" fill="#000" textLength="8.55" lengthAdjust="spacingAndGlyphs" >30</text>
<line x1="435.30" y1="206.90" x2="435.30" y2="209.50" stroke="#1a1a1a" stroke-width="1"/>
<text x="435.30" y="216.10" font-size="6.8" text-anchor="middle" font-weight="bold" fill="#000" textLength="8.55" lengthAdjust="spacingAndGlyphs" >40</text>
<text x="396.40" y="141.30" font-size="7" text-anchor="middle" font-weight="bold" fill="#000" textLength="56.7" lengthAdjust="spacingAndGlyphs" >Ly2 EphrinB2 sh</text>
<text x="396.10" y="226.20" font-size="8.4" text-anchor="middle" font-weight="bold" fill="#000" textLength="89" lengthAdjust="spacingAndGlyphs" >Days post implantation</text>
<text x="324.30" y="171.90" font-size="8.8" text-anchor="middle" font-weight="bold" fill="#000" textLength="81" lengthAdjust="spacingAndGlyphs" transform="rotate(-90 324.30 171.90)" >Tumor volume (mm3)</text>
<line x1="513.30" y1="127.70" x2="513.30" y2="206.80" stroke="#555" stroke-width="0.9"/>
<line x1="512.80" y1="206.30" x2="629.90" y2="206.30" stroke="#1a1a1a" stroke-width="1"/>
<line x1="510.70" y1="206.30" x2="513.30" y2="206.30" stroke="#555" stroke-width="0.9"/>
<text x="510.10" y="209.04" font-size="7.6" text-anchor="end" font-weight="bold" fill="#000" textLength="4.86" lengthAdjust="spacingAndGlyphs" >0</text>
<line x1="510.70" y1="186.65" x2="513.30" y2="186.65" stroke="#555" stroke-width="0.9"/>
<text x="510.10" y="189.39" font-size="7.6" text-anchor="end" font-weight="bold" fill="#000" textLength="14.58" lengthAdjust="spacingAndGlyphs" >500</text>
<line x1="510.70" y1="167.00" x2="513.30" y2="167.00" stroke="#555" stroke-width="0.9"/>
<text x="510.10" y="169.74" font-size="7.6" text-anchor="end" font-weight="bold" fill="#000" textLength="19.44" lengthAdjust="spacingAndGlyphs" >1000</text>
<line x1="510.70" y1="147.35" x2="513.30" y2="147.35" stroke="#555" stroke-width="0.9"/>
<text x="510.10" y="150.09" font-size="7.6" text-anchor="end" font-weight="bold" fill="#000" textLength="19.44" lengthAdjust="spacingAndGlyphs" >1500</text>
<line x1="510.70" y1="127.70" x2="513.30" y2="127.70" stroke="#555" stroke-width="0.9"/>
<text x="510.10" y="130.44" font-size="7.6" text-anchor="end" font-weight="bold" fill="#000" textLength="19.44" lengthAdjust="spacingAndGlyphs" >2000</text>
<line x1="533.90" y1="206.30" x2="533.90" y2="208.50" stroke="#555" stroke-width="0.8"/>
<line x1="573.40" y1="206.30" x2="573.40" y2="208.50" stroke="#555" stroke-width="0.8"/>
<line x1="613.10" y1="206.30" x2="613.10" y2="208.50" stroke="#555" stroke-width="0.8"/>
<rect x="521.30" y="191.21" width="25.20" height="15.09" fill="#0000FF" stroke="#000" stroke-width="1"/>
<line x1="533.90" y1="189.01" x2="533.90" y2="192.11" stroke="#000" stroke-width="0.8"/>
<line x1="528.40" y1="189.01" x2="539.40" y2="189.01" stroke="#000" stroke-width="0.8"/>
<line x1="528.40" y1="192.11" x2="539.40" y2="192.11" stroke="#000" stroke-width="0.8"/>
<circle cx="533.90" cy="178.00" r="1.4" fill="#000"/>
<circle cx="524.90" cy="188.42" r="1.4" fill="#000"/>
<circle cx="528.90" cy="189.79" r="1.4" fill="#000"/>
<circle cx="536.90" cy="189.01" r="1.4" fill="#000"/>
<circle cx="542.90" cy="190.58" r="1.4" fill="#000"/>
<circle cx="524.90" cy="193.33" r="1.4" fill="#000"/>
<circle cx="530.90" cy="191.37" r="1.4" fill="#000"/>
<circle cx="536.90" cy="194.51" r="1.4" fill="#000"/>
<circle cx="542.90" cy="192.55" r="1.4" fill="#000"/>
<rect x="560.70" y="177.10" width="25.40" height="29.20" fill="#FF0A80" stroke="#000" stroke-width="1"/>
<line x1="573.40" y1="170.50" x2="573.40" y2="182.41" stroke="#000" stroke-width="0.8"/>
<line x1="566.55" y1="170.50" x2="580.25" y2="170.50" stroke="#000" stroke-width="0.8"/>
<line x1="566.55" y1="182.41" x2="580.25" y2="182.41" stroke="#000" stroke-width="0.8"/>
<rect x="572.05" y="147.85" width="2.70" height="2.70" fill="#000"/>
<rect x="572.05" y="152.76" width="2.70" height="2.70" fill="#000"/>
<rect x="572.05" y="156.96" width="2.70" height="2.70" fill="#000"/>
<rect x="572.05" y="176.14" width="2.70" height="2.70" fill="#000"/>
<rect x="566.05" y="182.55" width="2.70" height="2.70" fill="#000"/>
<rect x="572.05" y="184.28" width="2.70" height="2.70" fill="#000"/>
<rect x="572.05" y="189.86" width="2.70" height="2.70" fill="#000"/>
<rect x="566.05" y="192.57" width="2.70" height="2.70" fill="#000"/>
<rect x="578.05" y="191.23" width="2.70" height="2.70" fill="#000"/>
<rect x="600.30" y="185.12" width="25.60" height="21.18" fill="#0F730F" stroke="#000" stroke-width="1"/>
<line x1="613.10" y1="180.79" x2="613.10" y2="187.91" stroke="#000" stroke-width="0.8"/>
<line x1="605.80" y1="180.79" x2="620.40" y2="180.79" stroke="#000" stroke-width="0.8"/>
<line x1="605.80" y1="187.91" x2="620.40" y2="187.91" stroke="#000" stroke-width="0.8"/>
<polygon points="610.10,164.81 608.56,167.61 611.64,167.61" fill="#000"/>
<polygon points="616.10,164.81 614.56,167.61 617.64,167.61" fill="#000"/>
<polygon points="606.10,180.02 604.56,182.82 607.64,182.82" fill="#000"/>
<polygon points="619.10,180.02 617.56,182.82 620.64,182.82" fill="#000"/>
<polygon points="613.10,184.30 611.56,187.10 614.64,187.10" fill="#000"/>
<polygon points="610.10,187.60 608.56,190.40 611.64,190.40" fill="#000"/>
<polygon points="607.10,197.70 605.56,200.50 608.64,200.50" fill="#000"/>
<polygon points="613.10,194.01 611.56,196.81 614.64,196.81" fill="#000"/>
<polygon points="619.10,195.23 617.56,198.03 620.64,198.03" fill="#000"/>
<line x1="532.40" y1="142.30" x2="570.20" y2="142.30" stroke="#000" stroke-width="1"/>
<line x1="532.40" y1="140.55" x2="532.40" y2="144.05" stroke="#000" stroke-width="1"/>
<line x1="570.20" y1="140.55" x2="570.20" y2="144.05" stroke="#000" stroke-width="1"/>
<text x="552.00" y="142.30" font-size="6.5" text-anchor="middle" font-weight="bold" fill="#000" >*</text>
<text x="488.10" y="165.10" font-size="10.4" text-anchor="middle" font-weight="bold" fill="#000" textLength="97.8" lengthAdjust="spacingAndGlyphs" transform="rotate(-90 488.10 165.10)" >Tumor volume (mm3)</text>
<polyline points="41.10,334.80 62.46,328.94 73.14,330.00 83.82,325.61 94.50,324.94 108.74,324.01 119.42,314.69" fill="none" stroke="#0000FF" stroke-width="0.9" stroke-linejoin="round"/>
<circle cx="62.46" cy="328.94" r="1.3" fill="#000"/>
<circle cx="73.14" cy="330.00" r="1.3" fill="#000"/>
<circle cx="83.82" cy="325.61" r="1.3" fill="#000"/>
<circle cx="94.50" cy="324.94" r="1.3" fill="#000"/>
<circle cx="108.74" cy="324.01" r="1.3" fill="#000"/>
<circle cx="119.42" cy="314.69" r="1.3" fill="#000"/>
<polyline points="41.10,334.80 62.46,329.47 73.14,330.27 83.82,327.61 94.50,326.14 108.74,324.41 119.42,321.75" fill="none" stroke="#0000FF" stroke-width="0.9" stroke-linejoin="round"/>
<circle cx="62.46" cy="329.47" r="1.3" fill="#000"/>
<circle cx="73.14" cy="330.27" r="1.3" fill="#000"/>
<circle cx="83.82" cy="327.61" r="1.3" fill="#000"/>
<circle cx="94.50" cy="326.14" r="1.3" fill="#000"/>
<circle cx="108.74" cy="324.41" r="1.3" fill="#000"/>
<circle cx="119.42" cy="321.75" r="1.3" fill="#000"/>
<polyline points="41.10,334.80 62.46,330.14 73.14,330.80 83.82,328.81 94.50,327.47 108.74,325.48 119.42,322.81" fill="none" stroke="#0000FF" stroke-width="0.9" stroke-linejoin="round"/>
<circle cx="62.46" cy="330.14" r="1.3" fill="#000"/>
<circle cx="73.14" cy="330.80" r="1.3" fill="#000"/>
<circle cx="83.82" cy="328.81" r="1.3" fill="#000"/>
<circle cx="94.50" cy="327.47" r="1.3" fill="#000"/>
<circle cx="108.74" cy="325.48" r="1.3" fill="#000"/>
<circle cx="119.42" cy="322.81" r="1.3" fill="#000"/>
<polyline points="41.10,334.80 62.46,330.80 73.14,331.07 83.82,330.14 94.50,328.81 108.74,326.81 119.42,323.48" fill="none" stroke="#0000FF" stroke-width="0.9" stroke-linejoin="round"/>
<circle cx="62.46" cy="330.80" r="1.3" fill="#000"/>
<circle cx="73.14" cy="331.07" r="1.3" fill="#000"/>
<circle cx="83.82" cy="330.14" r="1.3" fill="#000"/>
<circle cx="94.50" cy="328.81" r="1.3" fill="#000"/>
<circle cx="108.74" cy="326.81" r="1.3" fill="#000"/>
<circle cx="119.42" cy="323.48" r="1.3" fill="#000"/>
<polyline points="41.10,334.80 62.46,330.54 73.14,331.47 83.82,331.47 94.50,330.14 108.74,328.14 119.42,324.14" fill="none" stroke="#0000FF" stroke-width="0.9" stroke-linejoin="round"/>
<circle cx="62.46" cy="330.54" r="1.3" fill="#000"/>
<circle cx="73.14" cy="331.47" r="1.3" fill="#000"/>
<circle cx="83.82" cy="331.47" r="1.3" fill="#000"/>
<circle cx="94.50" cy="330.14" r="1.3" fill="#000"/>
<circle cx="108.74" cy="328.14" r="1.3" fill="#000"/>
<circle cx="119.42" cy="324.14" r="1.3" fill="#000"/>
<polyline points="41.10,334.80 62.46,334.13 73.14,330.80 83.82,330.80 94.50,330.80 108.74,328.67 119.42,324.94" fill="none" stroke="#0000FF" stroke-width="0.9" stroke-linejoin="round"/>
<circle cx="62.46" cy="334.13" r="1.3" fill="#000"/>
<circle cx="73.14" cy="330.80" r="1.3" fill="#000"/>
<circle cx="83.82" cy="330.80" r="1.3" fill="#000"/>
<circle cx="94.50" cy="330.80" r="1.3" fill="#000"/>
<circle cx="108.74" cy="328.67" r="1.3" fill="#000"/>
<circle cx="119.42" cy="324.94" r="1.3" fill="#000"/>
<line x1="41.10" y1="268.20" x2="41.10" y2="335.30" stroke="#1a1a1a" stroke-width="1"/>
<line x1="40.60" y1="334.80" x2="140.20" y2="334.80" stroke="#1a1a1a" stroke-width="1"/>
<line x1="38.50" y1="334.80" x2="41.10" y2="334.80" stroke="#1a1a1a" stroke-width="1"/>
<text x="37.50" y="337.14" font-size="6.5" text-anchor="end" font-weight="bold" fill="#000" textLength="4.05" lengthAdjust="spacingAndGlyphs" >0</text>
<line x1="38.50" y1="321.48" x2="41.10" y2="321.48" stroke="#1a1a1a" stroke-width="1"/>
<text x="37.50" y="323.82" font-size="6.5" text-anchor="end" font-weight="bold" fill="#000" textLength="12.15" lengthAdjust="spacingAndGlyphs" >100</text>
<line x1="38.50" y1="308.16" x2="41.10" y2="308.16" stroke="#1a1a1a" stroke-width="1"/>
<text x="37.50" y="310.50" font-size="6.5" text-anchor="end" font-weight="bold" fill="#000" textLength="12.15" lengthAdjust="spacingAndGlyphs" >200</text>
<line x1="38.50" y1="294.84" x2="41.10" y2="294.84" stroke="#1a1a1a" stroke-width="1"/>
<text x="37.50" y="297.18" font-size="6.5" text-anchor="end" font-weight="bold" fill="#000" textLength="12.15" lengthAdjust="spacingAndGlyphs" >300</text>
<line x1="38.50" y1="281.52" x2="41.10" y2="281.52" stroke="#1a1a1a" stroke-width="1"/>
<text x="37.50" y="283.86" font-size="6.5" text-anchor="end" font-weight="bold" fill="#000" textLength="12.15" lengthAdjust="spacingAndGlyphs" >400</text>
<line x1="38.50" y1="268.20" x2="41.10" y2="268.20" stroke="#1a1a1a" stroke-width="1"/>
<text x="37.50" y="270.54" font-size="6.5" text-anchor="end" font-weight="bold" fill="#000" textLength="12.15" lengthAdjust="spacingAndGlyphs" >500</text>
<line x1="41.10" y1="334.80" x2="41.10" y2="337.40" stroke="#1a1a1a" stroke-width="1"/>
<text x="41.10" y="344.00" font-size="6.5" text-anchor="middle" font-weight="bold" fill="#000" textLength="4.05" lengthAdjust="spacingAndGlyphs" >0</text>
<line x1="58.90" y1="334.80" x2="58.90" y2="337.40" stroke="#1a1a1a" stroke-width="1"/>
<text x="58.90" y="344.00" font-size="6.5" text-anchor="middle" font-weight="bold" fill="#000" textLength="4.05" lengthAdjust="spacingAndGlyphs" >5</text>
<line x1="76.70" y1="334.80" x2="76.70" y2="337.40" stroke="#1a1a1a" stroke-width="1"/>
<text x="76.70" y="344.00" font-size="6.5" text-anchor="middle" font-weight="bold" fill="#000" textLength="8.1" lengthAdjust="spacingAndGlyphs" >10</text>
<line x1="94.50" y1="334.80" x2="94.50" y2="337.40" stroke="#1a1a1a" stroke-width="1"/>
<text x="94.50" y="344.00" font-size="6.5" text-anchor="middle" font-weight="bold" fill="#000" textLength="8.1" lengthAdjust="spacingAndGlyphs" >15</text>
<line x1="112.30" y1="334.80" x2="112.30" y2="337.40" stroke="#1a1a1a" stroke-width="1"/>
<text x="112.30" y="344.00" font-size="6.5" text-anchor="middle" font-weight="bold" fill="#000" textLength="8.1" lengthAdjust="spacingAndGlyphs" >20</text>
<line x1="130.10" y1="334.80" x2="130.10" y2="337.40" stroke="#1a1a1a" stroke-width="1"/>
<text x="130.10" y="344.00" font-size="6.5" text-anchor="middle" font-weight="bold" fill="#000" textLength="8.1" lengthAdjust="spacingAndGlyphs" >25</text>
<text x="90.70" y="268.40" font-size="5.8" text-anchor="middle" font-weight="bold" fill="#000" textLength="61.5" lengthAdjust="spacingAndGlyphs" >CUHN013 Control sh</text>
<text x="90.80" y="355.10" font-size="8.3" text-anchor="middle" font-weight="bold" fill="#000" textLength="88.3" lengthAdjust="spacingAndGlyphs" >Days post implantation</text>
<text x="21.30" y="299.90" font-size="8.5" text-anchor="middle" font-weight="bold" fill="#000" textLength="79.4" lengthAdjust="spacingAndGlyphs" transform="rotate(-90 21.30 299.90)" >Tumor volume (mm<tspan font-size="65%" dy="-3">3</tspan><tspan dy="3">)</tspan></text>
<polyline points="180.60,330.60 201.96,326.63 212.64,313.94 223.32,315.40 234.00,295.17 248.24,298.87 258.92,290.94 262.48,286.97" fill="none" stroke="#FF0A80" stroke-width="0.9" stroke-linejoin="round"/>
<circle cx="201.96" cy="326.63" r="1.3" fill="#000"/>
<circle cx="212.64" cy="313.94" r="1.3" fill="#000"/>
<circle cx="223.32" cy="315.40" r="1.3" fill="#000"/>
<circle cx="234.00" cy="295.17" r="1.3" fill="#000"/>
<circle cx="248.24" cy="298.87" r="1.3" fill="#000"/>
<circle cx="258.92" cy="290.94" r="1.3" fill="#000"/>
<circle cx="262.48" cy="286.97" r="1.3" fill="#000"/>
<polyline points="180.60,330.60 201.96,322.67 212.64,321.87 223.32,314.60 234.00,306.94 248.24,293.58 258.92,275.21 262.48,264.63" fill="none" stroke="#FF0A80" stroke-width="0.9" stroke-linejoin="round"/>
<circle cx="201.96" cy="322.67" r="1.3" fill="#000"/>
<circle cx="212.64" cy="321.87" r="1.3" fill="#000"/>
<circle cx="223.32" cy="314.60" r="1.3" fill="#000"/>
<circle cx="234.00" cy="306.94" r="1.3" fill="#000"/>
<circle cx="248.24" cy="293.58" r="1.3" fill="#000"/>
<circle cx="258.92" cy="275.21" r="1.3" fill="#000"/>
<circle cx="262.48" cy="264.63" r="1.3" fill="#000"/>
<polyline points="180.60,330.60 201.96,323.99 212.64,323.33 223.32,316.06 234.00,310.64 248.24,296.23 258.92,283.80 262.48,273.23" fill="none" stroke="#FF0A80" stroke-width="0.9" stroke-linejoin="round"/>
<circle cx="201.96" cy="323.99" r="1.3" fill="#000"/>
<circle cx="212.64" cy="323.33" r="1.3" fill="#000"/>
<circle cx="223.32" cy="316.06" r="1.3" fill="#000"/>
<circle cx="234.00" cy="310.64" r="1.3" fill="#000"/>
<circle cx="248.24" cy="296.23" r="1.3" fill="#000"/>
<circle cx="258.92" cy="283.80" r="1.3" fill="#000"/>
<circle cx="262.48" cy="273.23" r="1.3" fill="#000"/>
<polyline points="180.60,330.60 201.96,325.31 212.64,324.65 223.32,316.72 234.00,312.09 248.24,298.87 258.92,288.30 262.48,274.55" fill="none" stroke="#FF0A80" stroke-width="0.9" stroke-linejoin="round"/>
<circle cx="201.96" cy="325.31" r="1.3" fill="#000"/>
<circle cx="212.64" cy="324.65" r="1.3" fill="#000"/>
<circle cx="223.32" cy="316.72" r="1.3" fill="#000"/>
<circle cx="234.00" cy="312.09" r="1.3" fill="#000"/>
<circle cx="248.24" cy="298.87" r="1.3" fill="#000"/>
<circle cx="258.92" cy="288.30" r="1.3" fill="#000"/>
<circle cx="262.48" cy="274.55" r="1.3" fill="#000"/>
<polyline points="180.60,330.60 201.96,326.63 212.64,325.31 223.32,317.38 234.00,312.75 248.24,304.16 258.92,289.62 262.48,283.80" fill="none" stroke="#FF0A80" stroke-width="0.9" stroke-linejoin="round"/>
<circle cx="201.96" cy="326.63" r="1.3" fill="#000"/>
<circle cx="212.64" cy="325.31" r="1.3" fill="#000"/>
<circle cx="223.32" cy="317.38" r="1.3" fill="#000"/>
<circle cx="234.00" cy="312.75" r="1.3" fill="#000"/>
<circle cx="248.24" cy="304.16" r="1.3" fill="#000"/>
<circle cx="258.92" cy="289.62" r="1.3" fill="#000"/>
<circle cx="262.48" cy="283.80" r="1.3" fill="#000"/>
<polyline points="180.60,330.60 201.96,327.30 212.64,325.97 223.32,318.04 234.00,313.41 248.24,305.35 258.92,290.28 262.48,285.65" fill="none" stroke="#FF0A80" stroke-width="0.9" stroke-linejoin="round"/>
<circle cx="201.96" cy="327.30" r="1.3" fill="#000"/>
<circle cx="212.64" cy="325.97" r="1.3" fill="#000"/>
<circle cx="223.32" cy="318.04" r="1.3" fill="#000"/>
<circle cx="234.00" cy="313.41" r="1.3" fill="#000"/>
<circle cx="248.24" cy="305.35" r="1.3" fill="#000"/>
<circle cx="258.92" cy="290.28" r="1.3" fill="#000"/>
<circle cx="262.48" cy="285.65" r="1.3" fill="#000"/>
<polyline points="180.60,330.60 201.96,327.82 212.64,326.50 223.32,318.57 234.00,313.94 248.24,305.35 258.92,291.07 262.48,287.77" fill="none" stroke="#FF0A80" stroke-width="0.9" stroke-linejoin="round"/>
<circle cx="201.96" cy="327.82" r="1.3" fill="#000"/>
<circle cx="212.64" cy="326.50" r="1.3" fill="#000"/>
<circle cx="223.32" cy="318.57" r="1.3" fill="#000"/>
<circle cx="234.00" cy="313.94" r="1.3" fill="#000"/>
<circle cx="248.24" cy="305.35" r="1.3" fill="#000"/>
<circle cx="258.92" cy="291.07" r="1.3" fill="#000"/>
<circle cx="262.48" cy="287.77" r="1.3" fill="#000"/>
<line x1="180.60" y1="264.50" x2="180.60" y2="331.10" stroke="#1a1a1a" stroke-width="1"/>
<line x1="180.10" y1="330.60" x2="279.50" y2="330.60" stroke="#1a1a1a" stroke-width="1"/>
<line x1="178.00" y1="330.60" x2="180.60" y2="330.60" stroke="#1a1a1a" stroke-width="1"/>
<text x="177.00" y="333.05" font-size="6.8" text-anchor="end" font-weight="bold" fill="#000" textLength="4.24" lengthAdjust="spacingAndGlyphs" >0</text>
<line x1="178.00" y1="317.38" x2="180.60" y2="317.38" stroke="#1a1a1a" stroke-width="1"/>
<text x="177.00" y="319.83" font-size="6.8" text-anchor="end" font-weight="bold" fill="#000" textLength="12.71" lengthAdjust="spacingAndGlyphs" >100</text>
<line x1="178.00" y1="304.16" x2="180.60" y2="304.16" stroke="#1a1a1a" stroke-width="1"/>
<text x="177.00" y="306.61" font-size="6.8" text-anchor="end" font-weight="bold" fill="#000" textLength="12.71" lengthAdjust="spacingAndGlyphs" >200</text>
<line x1="178.00" y1="290.94" x2="180.60" y2="290.94" stroke="#1a1a1a" stroke-width="1"/>
<text x="177.00" y="293.39" font-size="6.8" text-anchor="end" font-weight="bold" fill="#000" textLength="12.71" lengthAdjust="spacingAndGlyphs" >300</text>
<line x1="178.00" y1="277.72" x2="180.60" y2="277.72" stroke="#1a1a1a" stroke-width="1"/>
<text x="177.00" y="280.17" font-size="6.8" text-anchor="end" font-weight="bold" fill="#000" textLength="12.71" lengthAdjust="spacingAndGlyphs" >400</text>
<line x1="178.00" y1="264.50" x2="180.60" y2="264.50" stroke="#1a1a1a" stroke-width="1"/>
<text x="177.00" y="266.95" font-size="6.8" text-anchor="end" font-weight="bold" fill="#000" textLength="12.71" lengthAdjust="spacingAndGlyphs" >500</text>
<line x1="180.60" y1="330.60" x2="180.60" y2="333.20" stroke="#1a1a1a" stroke-width="1"/>
<text x="180.60" y="339.80" font-size="6.8" text-anchor="middle" font-weight="bold" fill="#000" textLength="4.24" lengthAdjust="spacingAndGlyphs" >0</text>
<line x1="198.40" y1="330.60" x2="198.40" y2="333.20" stroke="#1a1a1a" stroke-width="1"/>
<text x="198.40" y="339.80" font-size="6.8" text-anchor="middle" font-weight="bold" fill="#000" textLength="4.24" lengthAdjust="spacingAndGlyphs" >5</text>
<line x1="216.20" y1="330.60" x2="216.20" y2="333.20" stroke="#1a1a1a" stroke-width="1"/>
<text x="216.20" y="339.80" font-size="6.8" text-anchor="middle" font-weight="bold" fill="#000" textLength="8.47" lengthAdjust="spacingAndGlyphs" >10</text>
<line x1="234.00" y1="330.60" x2="234.00" y2="333.20" stroke="#1a1a1a" stroke-width="1"/>
<text x="234.00" y="339.80" font-size="6.8" text-anchor="middle" font-weight="bold" fill="#000" textLength="8.47" lengthAdjust="spacingAndGlyphs" >15</text>
<line x1="251.80" y1="330.60" x2="251.80" y2="333.20" stroke="#1a1a1a" stroke-width="1"/>
<text x="251.80" y="339.80" font-size="6.8" text-anchor="middle" font-weight="bold" fill="#000" textLength="8.47" lengthAdjust="spacingAndGlyphs" >20</text>
<line x1="269.60" y1="330.60" x2="269.60" y2="333.20" stroke="#1a1a1a" stroke-width="1"/>
<text x="269.60" y="339.80" font-size="6.8" text-anchor="middle" font-weight="bold" fill="#000" textLength="8.47" lengthAdjust="spacingAndGlyphs" >25</text>
<text x="218.50" y="265.70" font-size="5.8" text-anchor="middle" font-weight="bold" fill="#000" textLength="58.7" lengthAdjust="spacingAndGlyphs" >CUHN013 EphB4 sh</text>
<text x="229.80" y="350.70" font-size="8.4" text-anchor="middle" font-weight="bold" fill="#000" textLength="87.9" lengthAdjust="spacingAndGlyphs" >Days post implantation</text>
<text x="161.00" y="296.70" font-size="8.8" text-anchor="middle" font-weight="bold" fill="#000" textLength="79.4" lengthAdjust="spacingAndGlyphs" transform="rotate(-90 161.00 296.70)" >Tumor volume (mm<tspan font-size="65%" dy="-3">3</tspan><tspan dy="3">)</tspan></text>
<line x1="341.40" y1="259.10" x2="341.40" y2="337.70" stroke="#1a1a1a" stroke-width="1"/>
<line x1="340.90" y1="337.20" x2="393.60" y2="337.20" stroke="#1a1a1a" stroke-width="1"/>
<line x1="338.80" y1="337.20" x2="341.40" y2="337.20" stroke="#1a1a1a" stroke-width="1"/>
<text x="338.20" y="339.72" font-size="7" text-anchor="end" font-weight="bold" fill="#000" textLength="4.44" lengthAdjust="spacingAndGlyphs" >0</text>
<line x1="338.80" y1="321.58" x2="341.40" y2="321.58" stroke="#1a1a1a" stroke-width="1"/>
<text x="338.20" y="324.10" font-size="7" text-anchor="end" font-weight="bold" fill="#000" textLength="13.31" lengthAdjust="spacingAndGlyphs" >100</text>
<line x1="338.80" y1="305.96" x2="341.40" y2="305.96" stroke="#1a1a1a" stroke-width="1"/>
<text x="338.20" y="308.48" font-size="7" text-anchor="end" font-weight="bold" fill="#000" textLength="13.31" lengthAdjust="spacingAndGlyphs" >200</text>
<line x1="338.80" y1="290.34" x2="341.40" y2="290.34" stroke="#1a1a1a" stroke-width="1"/>
<text x="338.20" y="292.86" font-size="7" text-anchor="end" font-weight="bold" fill="#000" textLength="13.31" lengthAdjust="spacingAndGlyphs" >300</text>
<line x1="338.80" y1="274.72" x2="341.40" y2="274.72" stroke="#1a1a1a" stroke-width="1"/>
<text x="338.20" y="277.24" font-size="7" text-anchor="end" font-weight="bold" fill="#000" textLength="13.31" lengthAdjust="spacingAndGlyphs" >400</text>
<line x1="338.80" y1="259.10" x2="341.40" y2="259.10" stroke="#1a1a1a" stroke-width="1"/>
<text x="338.20" y="261.62" font-size="7" text-anchor="end" font-weight="bold" fill="#000" textLength="13.31" lengthAdjust="spacingAndGlyphs" >500</text>
<line x1="356.40" y1="337.20" x2="356.40" y2="339.40" stroke="#333" stroke-width="0.8"/>
<line x1="378.60" y1="337.20" x2="378.60" y2="339.40" stroke="#333" stroke-width="0.8"/>
<rect x="349.30" y="317.36" width="14.20" height="19.84" fill="#0000FF" stroke="#000" stroke-width="1"/>
<line x1="356.40" y1="314.55" x2="356.40" y2="319.55" stroke="#d0d0d0" stroke-width="0.7"/>
<line x1="353.40" y1="314.55" x2="359.40" y2="314.55" stroke="#d0d0d0" stroke-width="0.7"/>
<line x1="353.40" y1="319.55" x2="359.40" y2="319.55" stroke="#d0d0d0" stroke-width="0.7"/>
<circle cx="351.70" cy="312.36" r="1.1" fill="#000"/>
<circle cx="356.40" cy="313.46" r="1.1" fill="#000"/>
<circle cx="361.10" cy="312.36" r="1.1" fill="#000"/>
<circle cx="356.40" cy="321.89" r="1.1" fill="#000"/>
<circle cx="356.40" cy="325.02" r="1.1" fill="#000"/>
<rect x="371.50" y="284.40" width="14.20" height="52.80" fill="#FF0A80" stroke="#000" stroke-width="1"/>
<line x1="378.60" y1="282.53" x2="378.60" y2="286.44" stroke="#e0a0c0" stroke-width="0.7"/>
<line x1="375.60" y1="282.53" x2="381.60" y2="282.53" stroke="#e0a0c0" stroke-width="0.7"/>
<line x1="375.60" y1="286.44" x2="381.60" y2="286.44" stroke="#e0a0c0" stroke-width="0.7"/>
<circle cx="378.60" cy="272.22" r="1.1" fill="#000"/>
<circle cx="376.30" cy="281.75" r="1.1" fill="#000"/>
<circle cx="380.90" cy="281.75" r="1.1" fill="#000"/>
<circle cx="376.30" cy="286.90" r="1.1" fill="#000"/>
<circle cx="376.30" cy="290.65" r="1.1" fill="#000"/>
<circle cx="380.90" cy="289.40" r="1.1" fill="#000"/>
<line x1="351.30" y1="265.60" x2="378.50" y2="265.60" stroke="#000" stroke-width="1"/>
<line x1="351.30" y1="263.00" x2="351.30" y2="268.20" stroke="#000" stroke-width="1"/>
<line x1="378.50" y1="263.00" x2="378.50" y2="268.20" stroke="#000" stroke-width="1"/>
<text x="365.30" y="264.20" font-size="6" text-anchor="middle" font-weight="bold" fill="#000" >****</text>
<text x="312.40" y="296.60" font-size="10.3" text-anchor="middle" font-weight="bold" fill="#000" textLength="94.6" lengthAdjust="spacingAndGlyphs" transform="rotate(-90 312.40 296.60)" >Tumor volume (mm<tspan font-size="65%" dy="-3">3</tspan><tspan dy="3">)</tspan></text>
<polyline points="41.60,443.60 95.86,436.14 123.00,438.27 150.13,432.38" fill="none" stroke="#0000FF" stroke-width="0.45" stroke-linejoin="round"/>
<circle cx="95.86" cy="436.14" r="0.9" fill="#000"/>
<circle cx="123.00" cy="438.27" r="0.9" fill="#000"/>
<circle cx="150.13" cy="432.38" r="0.9" fill="#000"/>
<polyline points="41.60,443.60 95.86,436.14 123.00,438.27 150.13,430.49" fill="none" stroke="#0000FF" stroke-width="0.45" stroke-linejoin="round"/>
<circle cx="95.86" cy="436.14" r="0.9" fill="#000"/>
<circle cx="123.00" cy="438.27" r="0.9" fill="#000"/>
<circle cx="150.13" cy="430.49" r="0.9" fill="#000"/>
<polyline points="41.60,443.60 95.86,432.77 123.00,432.58 150.13,435.07" fill="none" stroke="#0000FF" stroke-width="0.45" stroke-linejoin="round"/>
<circle cx="95.86" cy="432.77" r="0.9" fill="#000"/>
<circle cx="123.00" cy="432.58" r="0.9" fill="#000"/>
<circle cx="150.13" cy="435.07" r="0.9" fill="#000"/>
<polyline points="41.60,443.60 95.86,434.33 123.00,435.11 150.13,425.63" fill="none" stroke="#0000FF" stroke-width="0.45" stroke-linejoin="round"/>
<circle cx="95.86" cy="434.33" r="0.9" fill="#000"/>
<circle cx="123.00" cy="435.11" r="0.9" fill="#000"/>
<circle cx="150.13" cy="425.63" r="0.9" fill="#000"/>
<polyline points="41.60,443.60 95.86,436.14 123.00,425.76 150.13,431.72" fill="none" stroke="#0000FF" stroke-width="0.45" stroke-linejoin="round"/>
<circle cx="95.86" cy="436.14" r="0.9" fill="#000"/>
<circle cx="123.00" cy="425.76" r="0.9" fill="#000"/>
<circle cx="150.13" cy="431.72" r="0.9" fill="#000"/>
<polyline points="41.60,443.60 95.86,433.96 123.00,433.27 150.13,424.12" fill="none" stroke="#0000FF" stroke-width="0.45" stroke-linejoin="round"/>
<circle cx="95.86" cy="433.96" r="0.9" fill="#000"/>
<circle cx="123.00" cy="433.27" r="0.9" fill="#000"/>
<circle cx="150.13" cy="424.12" r="0.9" fill="#000"/>
<polyline points="41.60,443.60 95.86,434.17 123.00,428.62 150.13,427.98" fill="none" stroke="#0000FF" stroke-width="0.45" stroke-linejoin="round"/>
<circle cx="95.86" cy="434.17" r="0.9" fill="#000"/>
<circle cx="123.00" cy="428.62" r="0.9" fill="#000"/>
<circle cx="150.13" cy="427.98" r="0.9" fill="#000"/>
<polyline points="41.60,443.60 95.86,428.91 123.00,430.84 150.13,431.08" fill="none" stroke="#0000FF" stroke-width="0.45" stroke-linejoin="round"/>
<circle cx="95.86" cy="428.91" r="0.9" fill="#000"/>
<circle cx="123.00" cy="430.84" r="0.9" fill="#000"/>
<circle cx="150.13" cy="431.08" r="0.9" fill="#000"/>
<polyline points="41.60,443.60 95.86,427.16 123.00,434.53 150.13,423.74" fill="none" stroke="#0000FF" stroke-width="0.45" stroke-linejoin="round"/>
<circle cx="95.86" cy="427.16" r="0.9" fill="#000"/>
<circle cx="123.00" cy="434.53" r="0.9" fill="#000"/>
<circle cx="150.13" cy="423.74" r="0.9" fill="#000"/>
<polyline points="41.60,443.60 95.86,429.05 123.00,430.37 150.13,422.00" fill="none" stroke="#0000FF" stroke-width="0.45" stroke-linejoin="round"/>
<circle cx="95.86" cy="429.05" r="0.9" fill="#000"/>
<circle cx="123.00" cy="430.37" r="0.9" fill="#000"/>
<circle cx="150.13" cy="422.00" r="0.9" fill="#000"/>
<polyline points="41.60,443.60 95.86,431.84 123.00,422.62 150.13,427.89" fill="none" stroke="#0000FF" stroke-width="0.45" stroke-linejoin="round"/>
<circle cx="95.86" cy="431.84" r="0.9" fill="#000"/>
<circle cx="123.00" cy="422.62" r="0.9" fill="#000"/>
<circle cx="150.13" cy="427.89" r="0.9" fill="#000"/>
<polyline points="41.60,443.60 95.86,430.15 123.00,426.02 150.13,424.77" fill="none" stroke="#0000FF" stroke-width="0.45" stroke-linejoin="round"/>
<circle cx="95.86" cy="430.15" r="0.9" fill="#000"/>
<circle cx="123.00" cy="426.02" r="0.9" fill="#000"/>
<circle cx="150.13" cy="424.77" r="0.9" fill="#000"/>
<polyline points="41.60,443.60 95.86,425.79 123.00,416.42 150.13,418.02" fill="none" stroke="#0000FF" stroke-width="0.45" stroke-linejoin="round"/>
<circle cx="95.86" cy="425.79" r="0.9" fill="#000"/>
<circle cx="123.00" cy="416.42" r="0.9" fill="#000"/>
<circle cx="150.13" cy="418.02" r="0.9" fill="#000"/>
<polyline points="41.60,443.60 95.86,425.51 123.00,423.88 150.13,425.39" fill="none" stroke="#0000FF" stroke-width="0.45" stroke-linejoin="round"/>
<circle cx="95.86" cy="425.51" r="0.9" fill="#000"/>
<circle cx="123.00" cy="423.88" r="0.9" fill="#000"/>
<circle cx="150.13" cy="425.39" r="0.9" fill="#000"/>
<polyline points="41.60,443.60 95.86,426.70 123.00,416.96 150.13,425.38" fill="none" stroke="#0000FF" stroke-width="0.45" stroke-linejoin="round"/>
<circle cx="95.86" cy="426.70" r="0.9" fill="#000"/>
<circle cx="123.00" cy="416.96" r="0.9" fill="#000"/>
<circle cx="150.13" cy="425.38" r="0.9" fill="#000"/>
<polyline points="41.60,443.60 95.86,425.48 123.00,416.79 150.13,418.02" fill="none" stroke="#0000FF" stroke-width="0.45" stroke-linejoin="round"/>
<circle cx="95.86" cy="425.48" r="0.9" fill="#000"/>
<circle cx="123.00" cy="416.79" r="0.9" fill="#000"/>
<circle cx="150.13" cy="418.02" r="0.9" fill="#000"/>
<polyline points="41.60,443.60 95.86,426.54 123.00,416.42 150.13,418.02" fill="none" stroke="#0000FF" stroke-width="0.45" stroke-linejoin="round"/>
<circle cx="95.86" cy="426.54" r="0.9" fill="#000"/>
<circle cx="123.00" cy="416.42" r="0.9" fill="#000"/>
<circle cx="150.13" cy="418.02" r="0.9" fill="#000"/>
<line x1="41.60" y1="390.30" x2="41.60" y2="444.10" stroke="#1a1a1a" stroke-width="1"/>
<line x1="41.10" y1="443.60" x2="150.70" y2="443.60" stroke="#1a1a1a" stroke-width="1"/>
<line x1="39.40" y1="443.60" x2="41.60" y2="443.60" stroke="#1a1a1a" stroke-width="1"/>
<text x="38.40" y="445.44" font-size="5.1" text-anchor="end" font-weight="bold" fill="#000" textLength="3.23" lengthAdjust="spacingAndGlyphs" >0</text>
<line x1="39.40" y1="432.94" x2="41.60" y2="432.94" stroke="#1a1a1a" stroke-width="1"/>
<text x="38.40" y="434.78" font-size="5.1" text-anchor="end" font-weight="bold" fill="#000" textLength="9.7" lengthAdjust="spacingAndGlyphs" >100</text>
<line x1="39.40" y1="422.28" x2="41.60" y2="422.28" stroke="#1a1a1a" stroke-width="1"/>
<text x="38.40" y="424.12" font-size="5.1" text-anchor="end" font-weight="bold" fill="#000" textLength="9.7" lengthAdjust="spacingAndGlyphs" >200</text>
<line x1="39.40" y1="411.62" x2="41.60" y2="411.62" stroke="#1a1a1a" stroke-width="1"/>
<text x="38.40" y="413.46" font-size="5.1" text-anchor="end" font-weight="bold" fill="#000" textLength="9.7" lengthAdjust="spacingAndGlyphs" >300</text>
<line x1="39.40" y1="400.96" x2="41.60" y2="400.96" stroke="#1a1a1a" stroke-width="1"/>
<text x="38.40" y="402.80" font-size="5.1" text-anchor="end" font-weight="bold" fill="#000" textLength="9.7" lengthAdjust="spacingAndGlyphs" >400</text>
<line x1="39.40" y1="390.30" x2="41.60" y2="390.30" stroke="#1a1a1a" stroke-width="1"/>
<text x="38.40" y="392.14" font-size="5.1" text-anchor="end" font-weight="bold" fill="#000" textLength="9.7" lengthAdjust="spacingAndGlyphs" >500</text>
<line x1="41.60" y1="443.60" x2="41.60" y2="445.80" stroke="#1a1a1a" stroke-width="1"/>
<text x="41.60" y="452.40" font-size="5.4" text-anchor="middle" font-weight="bold" fill="#000" textLength="3.42" lengthAdjust="spacingAndGlyphs" >0</text>
<line x1="60.98" y1="443.60" x2="60.98" y2="445.80" stroke="#1a1a1a" stroke-width="1"/>
<text x="60.98" y="452.40" font-size="5.4" text-anchor="middle" font-weight="bold" fill="#000" textLength="3.42" lengthAdjust="spacingAndGlyphs" >5</text>
<line x1="80.36" y1="443.60" x2="80.36" y2="445.80" stroke="#1a1a1a" stroke-width="1"/>
<text x="80.36" y="452.40" font-size="5.4" text-anchor="middle" font-weight="bold" fill="#000" textLength="6.85" lengthAdjust="spacingAndGlyphs" >10</text>
<line x1="99.74" y1="443.60" x2="99.74" y2="445.80" stroke="#1a1a1a" stroke-width="1"/>
<text x="99.74" y="452.40" font-size="5.4" text-anchor="middle" font-weight="bold" fill="#000" textLength="6.85" lengthAdjust="spacingAndGlyphs" >15</text>
<line x1="119.12" y1="443.60" x2="119.12" y2="445.80" stroke="#1a1a1a" stroke-width="1"/>
<text x="119.12" y="452.40" font-size="5.4" text-anchor="middle" font-weight="bold" fill="#000" textLength="6.85" lengthAdjust="spacingAndGlyphs" >20</text>
<line x1="138.50" y1="443.60" x2="138.50" y2="445.80" stroke="#1a1a1a" stroke-width="1"/>
<text x="138.50" y="452.40" font-size="5.4" text-anchor="middle" font-weight="bold" fill="#000" textLength="6.85" lengthAdjust="spacingAndGlyphs" >25</text>
<text x="95.70" y="392.70" font-size="5.3" text-anchor="middle" font-weight="bold" fill="#000" textLength="50.7" lengthAdjust="spacingAndGlyphs" >CUHN013 Control sh</text>
<text x="95.20" y="460.70" font-size="6.6" text-anchor="middle" font-weight="bold" fill="#000" textLength="72.6" lengthAdjust="spacingAndGlyphs" >Days post-implantation</text>
<text x="24.50" y="415.50" font-size="7" text-anchor="middle" font-weight="bold" fill="#000" textLength="65.6" lengthAdjust="spacingAndGlyphs" transform="rotate(-90 24.50 415.50)" >Tumor volume (mm<tspan font-size="65%" dy="-3">3</tspan><tspan dy="3">)</tspan></text>
<polyline points="191.60,441.90 246.82,435.52 274.42,435.52 302.03,427.04" fill="none" stroke="#1E8040" stroke-width="0.45" stroke-linejoin="round"/>
<circle cx="246.82" cy="435.52" r="1.0" fill="#000"/>
<circle cx="274.42" cy="435.52" r="1.0" fill="#000"/>
<circle cx="302.03" cy="427.04" r="1.0" fill="#000"/>
<polyline points="191.60,441.90 246.82,433.98 274.42,435.52 302.03,428.62" fill="none" stroke="#1E8040" stroke-width="0.45" stroke-linejoin="round"/>
<circle cx="246.82" cy="433.98" r="1.0" fill="#000"/>
<circle cx="274.42" cy="435.52" r="1.0" fill="#000"/>
<circle cx="302.03" cy="428.62" r="1.0" fill="#000"/>
<polyline points="191.60,441.90 246.82,434.62 274.42,430.54 302.03,426.50" fill="none" stroke="#1E8040" stroke-width="0.45" stroke-linejoin="round"/>
<circle cx="246.82" cy="434.62" r="1.0" fill="#000"/>
<circle cx="274.42" cy="430.54" r="1.0" fill="#000"/>
<circle cx="302.03" cy="426.50" r="1.0" fill="#000"/>
<polyline points="191.60,441.90 246.82,435.52 274.42,431.56 302.03,429.13" fill="none" stroke="#1E8040" stroke-width="0.45" stroke-linejoin="round"/>
<circle cx="246.82" cy="435.52" r="1.0" fill="#000"/>
<circle cx="274.42" cy="431.56" r="1.0" fill="#000"/>
<circle cx="302.03" cy="429.13" r="1.0" fill="#000"/>
<polyline points="191.60,441.90 246.82,432.98 274.42,430.31 302.03,426.09" fill="none" stroke="#1E8040" stroke-width="0.45" stroke-linejoin="round"/>
<circle cx="246.82" cy="432.98" r="1.0" fill="#000"/>
<circle cx="274.42" cy="430.31" r="1.0" fill="#000"/>
<circle cx="302.03" cy="426.09" r="1.0" fill="#000"/>
<polyline points="191.60,441.90 246.82,435.23 274.42,435.52 302.03,429.13" fill="none" stroke="#1E8040" stroke-width="0.45" stroke-linejoin="round"/>
<circle cx="246.82" cy="435.23" r="1.0" fill="#000"/>
<circle cx="274.42" cy="435.52" r="1.0" fill="#000"/>
<circle cx="302.03" cy="429.13" r="1.0" fill="#000"/>
<polyline points="191.60,441.90 246.82,435.35 274.42,434.85 302.03,429.13" fill="none" stroke="#1E8040" stroke-width="0.45" stroke-linejoin="round"/>
<circle cx="246.82" cy="435.35" r="1.0" fill="#000"/>
<circle cx="274.42" cy="434.85" r="1.0" fill="#000"/>
<circle cx="302.03" cy="429.13" r="1.0" fill="#000"/>
<polyline points="191.60,441.90 246.82,435.39 274.42,432.73 302.03,428.40" fill="none" stroke="#1E8040" stroke-width="0.45" stroke-linejoin="round"/>
<circle cx="246.82" cy="435.39" r="1.0" fill="#000"/>
<circle cx="274.42" cy="432.73" r="1.0" fill="#000"/>
<circle cx="302.03" cy="428.40" r="1.0" fill="#000"/>
<polyline points="191.60,441.90 246.82,430.77 274.42,433.72 302.03,424.94" fill="none" stroke="#1E8040" stroke-width="0.45" stroke-linejoin="round"/>
<circle cx="246.82" cy="430.77" r="1.0" fill="#000"/>
<circle cx="274.42" cy="433.72" r="1.0" fill="#000"/>
<circle cx="302.03" cy="424.94" r="1.0" fill="#000"/>
<polyline points="191.60,441.90 246.82,432.20 274.42,429.84 302.03,424.84" fill="none" stroke="#1E8040" stroke-width="0.45" stroke-linejoin="round"/>
<circle cx="246.82" cy="432.20" r="1.0" fill="#000"/>
<circle cx="274.42" cy="429.84" r="1.0" fill="#000"/>
<circle cx="302.03" cy="424.84" r="1.0" fill="#000"/>
<polyline points="191.60,441.90 246.82,433.53 274.42,431.33 302.03,427.07" fill="none" stroke="#1E8040" stroke-width="0.45" stroke-linejoin="round"/>
<circle cx="246.82" cy="433.53" r="1.0" fill="#000"/>
<circle cx="274.42" cy="431.33" r="1.0" fill="#000"/>
<circle cx="302.03" cy="427.07" r="1.0" fill="#000"/>
<polyline points="191.60,441.90 246.82,429.54 274.42,430.00 302.03,427.60" fill="none" stroke="#1E8040" stroke-width="0.45" stroke-linejoin="round"/>
<circle cx="246.82" cy="429.54" r="1.0" fill="#000"/>
<circle cx="274.42" cy="430.00" r="1.0" fill="#000"/>
<circle cx="302.03" cy="427.60" r="1.0" fill="#000"/>
<polyline points="191.60,441.90 246.82,430.07 274.42,429.31 302.03,424.22" fill="none" stroke="#1E8040" stroke-width="0.45" stroke-linejoin="round"/>
<circle cx="246.82" cy="430.07" r="1.0" fill="#000"/>
<circle cx="274.42" cy="429.31" r="1.0" fill="#000"/>
<circle cx="302.03" cy="424.22" r="1.0" fill="#000"/>
<polyline points="191.60,441.90 246.82,433.39 274.42,427.01 302.03,427.08" fill="none" stroke="#1E8040" stroke-width="0.45" stroke-linejoin="round"/>
<circle cx="246.82" cy="433.39" r="1.0" fill="#000"/>
<circle cx="274.42" cy="427.01" r="1.0" fill="#000"/>
<circle cx="302.03" cy="427.08" r="1.0" fill="#000"/>
<polyline points="191.60,441.90 246.82,431.52 274.42,430.31 302.03,426.82" fill="none" stroke="#1E8040" stroke-width="0.45" stroke-linejoin="round"/>
<circle cx="246.82" cy="431.52" r="1.0" fill="#000"/>
<circle cx="274.42" cy="430.31" r="1.0" fill="#000"/>
<circle cx="302.03" cy="426.82" r="1.0" fill="#000"/>
<polyline points="191.60,441.90 246.82,428.60 274.42,425.72 302.03,422.22" fill="none" stroke="#1E8040" stroke-width="0.45" stroke-linejoin="round"/>
<circle cx="246.82" cy="428.60" r="1.0" fill="#000"/>
<circle cx="274.42" cy="425.72" r="1.0" fill="#000"/>
<circle cx="302.03" cy="422.22" r="1.0" fill="#000"/>
<polyline points="191.60,441.90 246.82,428.60 274.42,423.81 302.03,423.37" fill="none" stroke="#1E8040" stroke-width="0.45" stroke-linejoin="round"/>
<circle cx="246.82" cy="428.60" r="1.0" fill="#000"/>
<circle cx="274.42" cy="423.81" r="1.0" fill="#000"/>
<circle cx="302.03" cy="423.37" r="1.0" fill="#000"/>
<polyline points="191.60,441.90 246.82,429.97 274.42,428.46 302.03,424.23" fill="none" stroke="#1E8040" stroke-width="0.45" stroke-linejoin="round"/>
<circle cx="246.82" cy="429.97" r="1.0" fill="#000"/>
<circle cx="274.42" cy="428.46" r="1.0" fill="#000"/>
<circle cx="302.03" cy="424.23" r="1.0" fill="#000"/>
<polyline points="191.60,441.90 246.82,431.18 274.42,423.81 302.03,423.27" fill="none" stroke="#1E8040" stroke-width="0.45" stroke-linejoin="round"/>
<circle cx="246.82" cy="431.18" r="1.0" fill="#000"/>
<circle cx="274.42" cy="423.81" r="1.0" fill="#000"/>
<circle cx="302.03" cy="423.27" r="1.0" fill="#000"/>
<polyline points="191.60,441.90 246.82,428.60 274.42,423.94 302.03,424.76" fill="none" stroke="#1E8040" stroke-width="0.45" stroke-linejoin="round"/>
<circle cx="246.82" cy="428.60" r="1.0" fill="#000"/>
<circle cx="274.42" cy="423.94" r="1.0" fill="#000"/>
<circle cx="302.03" cy="424.76" r="1.0" fill="#000"/>
<polyline points="191.60,441.90 246.82,431.49 274.42,428.48 302.03,422.22" fill="none" stroke="#1E8040" stroke-width="0.45" stroke-linejoin="round"/>
<circle cx="246.82" cy="431.49" r="1.0" fill="#000"/>
<circle cx="274.42" cy="428.48" r="1.0" fill="#000"/>
<circle cx="302.03" cy="422.22" r="1.0" fill="#000"/>
<polyline points="191.60,441.90 246.82,428.60 274.42,423.81 302.03,423.26" fill="none" stroke="#1E8040" stroke-width="0.45" stroke-linejoin="round"/>
<circle cx="246.82" cy="428.60" r="1.0" fill="#000"/>
<circle cx="274.42" cy="423.81" r="1.0" fill="#000"/>
<circle cx="302.03" cy="423.26" r="1.0" fill="#000"/>
<line x1="246.82" y1="435.52" x2="246.82" y2="428.60" stroke="#000" stroke-width="2.2"/>
<line x1="274.42" y1="435.52" x2="274.42" y2="423.81" stroke="#000" stroke-width="2.2"/>
<line x1="302.03" y1="429.13" x2="302.03" y2="422.22" stroke="#000" stroke-width="2.2"/>
<line x1="191.60" y1="388.70" x2="191.60" y2="442.40" stroke="#1a1a1a" stroke-width="1"/>
<line x1="191.10" y1="441.90" x2="303.00" y2="441.90" stroke="#9a9a9a" stroke-width="1"/>
<line x1="189.40" y1="441.90" x2="191.60" y2="441.90" stroke="#1a1a1a" stroke-width="1"/>
<text x="188.40" y="443.81" font-size="5.3" text-anchor="end" font-weight="bold" fill="#000" textLength="3.24" lengthAdjust="spacingAndGlyphs" >0</text>
<line x1="189.40" y1="431.26" x2="191.60" y2="431.26" stroke="#1a1a1a" stroke-width="1"/>
<text x="188.40" y="433.17" font-size="5.3" text-anchor="end" font-weight="bold" fill="#000" textLength="9.73" lengthAdjust="spacingAndGlyphs" >100</text>
<line x1="189.40" y1="420.62" x2="191.60" y2="420.62" stroke="#1a1a1a" stroke-width="1"/>
<text x="188.40" y="422.53" font-size="5.3" text-anchor="end" font-weight="bold" fill="#000" textLength="9.73" lengthAdjust="spacingAndGlyphs" >200</text>
<line x1="189.40" y1="409.98" x2="191.60" y2="409.98" stroke="#1a1a1a" stroke-width="1"/>
<text x="188.40" y="411.89" font-size="5.3" text-anchor="end" font-weight="bold" fill="#000" textLength="9.73" lengthAdjust="spacingAndGlyphs" >300</text>
<line x1="189.40" y1="399.34" x2="191.60" y2="399.34" stroke="#1a1a1a" stroke-width="1"/>
<text x="188.40" y="401.25" font-size="5.3" text-anchor="end" font-weight="bold" fill="#000" textLength="9.73" lengthAdjust="spacingAndGlyphs" >400</text>
<line x1="189.40" y1="388.70" x2="191.60" y2="388.70" stroke="#1a1a1a" stroke-width="1"/>
<text x="188.40" y="390.61" font-size="5.3" text-anchor="end" font-weight="bold" fill="#000" textLength="9.73" lengthAdjust="spacingAndGlyphs" >500</text>
<line x1="191.60" y1="441.90" x2="191.60" y2="444.10" stroke="#9a9a9a" stroke-width="1"/>
<text x="191.60" y="450.70" font-size="5.5" text-anchor="middle" font-weight="bold" fill="#000" textLength="3.36" lengthAdjust="spacingAndGlyphs" >0</text>
<line x1="211.32" y1="441.90" x2="211.32" y2="444.10" stroke="#9a9a9a" stroke-width="1"/>
<text x="211.32" y="450.70" font-size="5.5" text-anchor="middle" font-weight="bold" fill="#000" textLength="3.36" lengthAdjust="spacingAndGlyphs" >5</text>
<line x1="231.04" y1="441.90" x2="231.04" y2="444.10" stroke="#9a9a9a" stroke-width="1"/>
<text x="231.04" y="450.70" font-size="5.5" text-anchor="middle" font-weight="bold" fill="#000" textLength="6.73" lengthAdjust="spacingAndGlyphs" >10</text>
<line x1="250.76" y1="441.90" x2="250.76" y2="444.10" stroke="#9a9a9a" stroke-width="1"/>
<text x="250.76" y="450.70" font-size="5.5" text-anchor="middle" font-weight="bold" fill="#000" textLength="6.73" lengthAdjust="spacingAndGlyphs" >15</text>
<line x1="270.48" y1="441.90" x2="270.48" y2="444.10" stroke="#9a9a9a" stroke-width="1"/>
<text x="270.48" y="450.70" font-size="5.5" text-anchor="middle" font-weight="bold" fill="#000" textLength="6.73" lengthAdjust="spacingAndGlyphs" >20</text>
<line x1="290.20" y1="441.90" x2="290.20" y2="444.10" stroke="#9a9a9a" stroke-width="1"/>
<text x="290.20" y="450.70" font-size="5.5" text-anchor="middle" font-weight="bold" fill="#000" textLength="6.73" lengthAdjust="spacingAndGlyphs" >25</text>
<text x="247.00" y="387.20" font-size="5" text-anchor="middle" font-weight="bold" fill="#000" textLength="54.2" lengthAdjust="spacingAndGlyphs" >CUHN013 EphrinB2 sh</text>
<text x="246.90" y="460.00" font-size="7.1" text-anchor="middle" font-weight="bold" fill="#000" textLength="70.6" lengthAdjust="spacingAndGlyphs" >Days post implantation</text>
<text x="176.30" y="413.50" font-size="7.3" text-anchor="middle" font-weight="bold" fill="#000" textLength="62.9" lengthAdjust="spacingAndGlyphs" transform="rotate(-90 176.30 413.50)" >Tumor volume (mm<tspan font-size="65%" dy="-3">3</tspan><tspan dy="3">)</tspan></text>
<line x1="345.30" y1="382.30" x2="345.30" y2="459.80" stroke="#1a1a1a" stroke-width="1"/>
<line x1="344.80" y1="459.30" x2="396.50" y2="459.30" stroke="#1a1a1a" stroke-width="1"/>
<line x1="342.70" y1="459.30" x2="345.30" y2="459.30" stroke="#555" stroke-width="0.9"/>
<text x="342.10" y="461.68" font-size="6.6" text-anchor="end" font-weight="bold" fill="#000" textLength="4.4" lengthAdjust="spacingAndGlyphs" >0</text>
<line x1="342.70" y1="433.63" x2="345.30" y2="433.63" stroke="#555" stroke-width="0.9"/>
<text x="342.10" y="436.01" font-size="6.6" text-anchor="end" font-weight="bold" fill="#000" textLength="13.21" lengthAdjust="spacingAndGlyphs" >100</text>
<line x1="342.70" y1="407.97" x2="345.30" y2="407.97" stroke="#555" stroke-width="0.9"/>
<text x="342.10" y="410.35" font-size="6.6" text-anchor="end" font-weight="bold" fill="#000" textLength="13.21" lengthAdjust="spacingAndGlyphs" >200</text>
<line x1="342.70" y1="382.30" x2="345.30" y2="382.30" stroke="#555" stroke-width="0.9"/>
<text x="342.10" y="384.68" font-size="6.6" text-anchor="end" font-weight="bold" fill="#000" textLength="13.21" lengthAdjust="spacingAndGlyphs" >300</text>
<line x1="360.10" y1="459.30" x2="360.10" y2="461.50" stroke="#555" stroke-width="0.8"/>
<line x1="382.30" y1="459.30" x2="382.30" y2="461.50" stroke="#555" stroke-width="0.8"/>
<rect x="353.20" y="413.36" width="13.80" height="45.94" fill="#0000FF" stroke="#000" stroke-width="1"/>
<line x1="360.10" y1="409.51" x2="360.10" y2="416.18" stroke="#d8d8d8" stroke-width="0.8"/>
<line x1="355.60" y1="409.51" x2="364.60" y2="409.51" stroke="#d8d8d8" stroke-width="0.8"/>
<line x1="355.60" y1="416.18" x2="364.60" y2="416.18" stroke="#d8d8d8" stroke-width="0.8"/>
<circle cx="355.30" cy="396.42" r="1.05" fill="#000"/>
<circle cx="360.10" cy="398.73" r="1.05" fill="#000"/>
<circle cx="364.80" cy="397.70" r="1.05" fill="#000"/>
<circle cx="355.30" cy="404.37" r="1.05" fill="#000"/>
<circle cx="360.10" cy="406.43" r="1.05" fill="#000"/>
<circle cx="355.30" cy="407.71" r="1.05" fill="#000"/>
<circle cx="364.80" cy="407.71" r="1.05" fill="#000"/>
<circle cx="357.80" cy="411.05" r="1.05" fill="#000"/>
<circle cx="362.40" cy="411.82" r="1.05" fill="#000"/>
<circle cx="355.30" cy="417.72" r="1.05" fill="#000"/>
<circle cx="360.10" cy="419.52" r="1.05" fill="#000"/>
<circle cx="360.10" cy="425.93" r="1.05" fill="#000"/>
<circle cx="360.10" cy="436.20" r="1.05" fill="#000"/>
<circle cx="360.10" cy="438.77" r="1.05" fill="#000"/>
<rect x="375.70" y="421.31" width="13.20" height="37.99" fill="#0F730F" stroke="#000" stroke-width="1"/>
<line x1="382.30" y1="419.52" x2="382.30" y2="423.37" stroke="#d8d8d8" stroke-width="0.8"/>
<line x1="378.30" y1="419.52" x2="386.30" y2="419.52" stroke="#d8d8d8" stroke-width="0.8"/>
<line x1="378.30" y1="423.37" x2="386.30" y2="423.37" stroke="#d8d8d8" stroke-width="0.8"/>
<circle cx="382.30" cy="410.79" r="1.05" fill="#000"/>
<circle cx="380.00" cy="415.92" r="1.05" fill="#000"/>
<circle cx="384.80" cy="415.41" r="1.05" fill="#000"/>
<circle cx="377.60" cy="424.91" r="1.05" fill="#000"/>
<circle cx="382.30" cy="424.91" r="1.05" fill="#000"/>
<circle cx="387.00" cy="426.96" r="1.05" fill="#000"/>
<circle cx="377.60" cy="428.24" r="1.05" fill="#000"/>
<text x="325.30" y="418.90" font-size="9.5" text-anchor="middle" font-weight="bold" fill="#000" textLength="92.2" lengthAdjust="spacingAndGlyphs" transform="rotate(-90 325.30 418.90)" >Tumor volume (mm<tspan font-size="65%" dy="-3">3</tspan><tspan dy="3">)</tspan></text>
<polyline points="43.90,587.10 61.88,587.10 67.27,587.10 74.47,583.88 79.86,584.15 87.05,583.49 92.45,584.19 97.84,584.46 105.03,583.08 112.22,582.79 119.42,581.26 126.61,580.79 132.00,579.63 139.19,580.39" fill="none" stroke="#0000FF" stroke-width="0.6" stroke-linejoin="round"/>
<circle cx="61.88" cy="587.10" r="1.1" fill="#000"/>
<circle cx="67.27" cy="587.10" r="1.1" fill="#000"/>
<circle cx="74.47" cy="583.88" r="1.1" fill="#000"/>
<circle cx="79.86" cy="584.15" r="1.1" fill="#000"/>
<circle cx="87.05" cy="583.49" r="1.1" fill="#000"/>
<circle cx="92.45" cy="584.19" r="1.1" fill="#000"/>
<circle cx="97.84" cy="584.46" r="1.1" fill="#000"/>
<circle cx="105.03" cy="583.08" r="1.1" fill="#000"/>
<circle cx="112.22" cy="582.79" r="1.1" fill="#000"/>
<circle cx="119.42" cy="581.26" r="1.1" fill="#000"/>
<circle cx="126.61" cy="580.79" r="1.1" fill="#000"/>
<circle cx="132.00" cy="579.63" r="1.1" fill="#000"/>
<circle cx="139.19" cy="580.39" r="1.1" fill="#000"/>
<polyline points="43.90,587.10 61.88,587.10 67.27,585.62 74.47,586.44 79.86,582.97 87.05,582.93 92.45,584.92 97.84,581.77 105.03,584.46 112.22,580.87 119.42,580.27 126.61,581.32 132.00,579.50 139.19,578.75" fill="none" stroke="#0000FF" stroke-width="0.6" stroke-linejoin="round"/>
<circle cx="61.88" cy="587.10" r="1.1" fill="#000"/>
<circle cx="67.27" cy="585.62" r="1.1" fill="#000"/>
<circle cx="74.47" cy="586.44" r="1.1" fill="#000"/>
<circle cx="79.86" cy="582.97" r="1.1" fill="#000"/>
<circle cx="87.05" cy="582.93" r="1.1" fill="#000"/>
<circle cx="92.45" cy="584.92" r="1.1" fill="#000"/>
<circle cx="97.84" cy="581.77" r="1.1" fill="#000"/>
<circle cx="105.03" cy="584.46" r="1.1" fill="#000"/>
<circle cx="112.22" cy="580.87" r="1.1" fill="#000"/>
<circle cx="119.42" cy="580.27" r="1.1" fill="#000"/>
<circle cx="126.61" cy="581.32" r="1.1" fill="#000"/>
<circle cx="132.00" cy="579.50" r="1.1" fill="#000"/>
<circle cx="139.19" cy="578.75" r="1.1" fill="#000"/>
<polyline points="43.90,587.10 61.88,585.25 67.27,586.89 74.47,582.06 79.86,581.99 87.05,580.18 92.45,584.92 97.84,583.17 105.03,582.03 112.22,581.19 119.42,582.27 126.61,579.58 132.00,578.89 139.19,579.63" fill="none" stroke="#0000FF" stroke-width="0.6" stroke-linejoin="round"/>
<circle cx="61.88" cy="585.25" r="1.1" fill="#000"/>
<circle cx="67.27" cy="586.89" r="1.1" fill="#000"/>
<circle cx="74.47" cy="582.06" r="1.1" fill="#000"/>
<circle cx="79.86" cy="581.99" r="1.1" fill="#000"/>
<circle cx="87.05" cy="580.18" r="1.1" fill="#000"/>
<circle cx="92.45" cy="584.92" r="1.1" fill="#000"/>
<circle cx="97.84" cy="583.17" r="1.1" fill="#000"/>
<circle cx="105.03" cy="582.03" r="1.1" fill="#000"/>
<circle cx="112.22" cy="581.19" r="1.1" fill="#000"/>
<circle cx="119.42" cy="582.27" r="1.1" fill="#000"/>
<circle cx="126.61" cy="579.58" r="1.1" fill="#000"/>
<circle cx="132.00" cy="578.89" r="1.1" fill="#000"/>
<circle cx="139.19" cy="579.63" r="1.1" fill="#000"/>
<polyline points="43.90,587.10 61.88,584.72 67.27,585.50 74.47,582.43 79.86,582.07 87.05,582.26 92.45,584.17 97.84,583.19 105.03,581.96 112.22,579.97 119.42,580.51 126.61,579.51 132.00,579.15 139.19,577.00" fill="none" stroke="#0000FF" stroke-width="0.6" stroke-linejoin="round"/>
<circle cx="61.88" cy="584.72" r="1.1" fill="#000"/>
<circle cx="67.27" cy="585.50" r="1.1" fill="#000"/>
<circle cx="74.47" cy="582.43" r="1.1" fill="#000"/>
<circle cx="79.86" cy="582.07" r="1.1" fill="#000"/>
<circle cx="87.05" cy="582.26" r="1.1" fill="#000"/>
<circle cx="92.45" cy="584.17" r="1.1" fill="#000"/>
<circle cx="97.84" cy="583.19" r="1.1" fill="#000"/>
<circle cx="105.03" cy="581.96" r="1.1" fill="#000"/>
<circle cx="112.22" cy="579.97" r="1.1" fill="#000"/>
<circle cx="119.42" cy="580.51" r="1.1" fill="#000"/>
<circle cx="126.61" cy="579.51" r="1.1" fill="#000"/>
<circle cx="132.00" cy="579.15" r="1.1" fill="#000"/>
<circle cx="139.19" cy="577.00" r="1.1" fill="#000"/>
<polyline points="43.90,587.10 61.88,585.22 67.27,585.77 74.47,584.56 79.86,583.34 87.05,578.96 92.45,578.89 97.84,579.33 105.03,582.69 112.22,579.52 119.42,581.01 126.61,578.83 132.00,578.56 139.19,576.84" fill="none" stroke="#0000FF" stroke-width="0.6" stroke-linejoin="round"/>
<circle cx="61.88" cy="585.22" r="1.1" fill="#000"/>
<circle cx="67.27" cy="585.77" r="1.1" fill="#000"/>
<circle cx="74.47" cy="584.56" r="1.1" fill="#000"/>
<circle cx="79.86" cy="583.34" r="1.1" fill="#000"/>
<circle cx="87.05" cy="578.96" r="1.1" fill="#000"/>
<circle cx="92.45" cy="578.89" r="1.1" fill="#000"/>
<circle cx="97.84" cy="579.33" r="1.1" fill="#000"/>
<circle cx="105.03" cy="582.69" r="1.1" fill="#000"/>
<circle cx="112.22" cy="579.52" r="1.1" fill="#000"/>
<circle cx="119.42" cy="581.01" r="1.1" fill="#000"/>
<circle cx="126.61" cy="578.83" r="1.1" fill="#000"/>
<circle cx="132.00" cy="578.56" r="1.1" fill="#000"/>
<circle cx="139.19" cy="576.84" r="1.1" fill="#000"/>
<polyline points="43.90,587.10 61.88,584.39 67.27,583.10 74.47,579.17 79.86,581.59 87.05,580.22 92.45,578.70 97.84,578.81 105.03,580.64 112.22,579.65 119.42,576.85 126.61,579.74 132.00,579.09 139.19,576.44" fill="none" stroke="#0000FF" stroke-width="0.6" stroke-linejoin="round"/>
<circle cx="61.88" cy="584.39" r="1.1" fill="#000"/>
<circle cx="67.27" cy="583.10" r="1.1" fill="#000"/>
<circle cx="74.47" cy="579.17" r="1.1" fill="#000"/>
<circle cx="79.86" cy="581.59" r="1.1" fill="#000"/>
<circle cx="87.05" cy="580.22" r="1.1" fill="#000"/>
<circle cx="92.45" cy="578.70" r="1.1" fill="#000"/>
<circle cx="97.84" cy="578.81" r="1.1" fill="#000"/>
<circle cx="105.03" cy="580.64" r="1.1" fill="#000"/>
<circle cx="112.22" cy="579.65" r="1.1" fill="#000"/>
<circle cx="119.42" cy="576.85" r="1.1" fill="#000"/>
<circle cx="126.61" cy="579.74" r="1.1" fill="#000"/>
<circle cx="132.00" cy="579.09" r="1.1" fill="#000"/>
<circle cx="139.19" cy="576.44" r="1.1" fill="#000"/>
<polyline points="43.90,587.10 61.88,582.80 67.27,584.13 74.47,579.17 79.86,580.13 87.05,577.61 92.45,577.70 97.84,577.69 105.03,580.71 112.22,580.09 119.42,579.92 126.61,579.56 132.00,577.82 139.19,577.97" fill="none" stroke="#0000FF" stroke-width="0.6" stroke-linejoin="round"/>
<circle cx="61.88" cy="582.80" r="1.1" fill="#000"/>
<circle cx="67.27" cy="584.13" r="1.1" fill="#000"/>
<circle cx="74.47" cy="579.17" r="1.1" fill="#000"/>
<circle cx="79.86" cy="580.13" r="1.1" fill="#000"/>
<circle cx="87.05" cy="577.61" r="1.1" fill="#000"/>
<circle cx="92.45" cy="577.70" r="1.1" fill="#000"/>
<circle cx="97.84" cy="577.69" r="1.1" fill="#000"/>
<circle cx="105.03" cy="580.71" r="1.1" fill="#000"/>
<circle cx="112.22" cy="580.09" r="1.1" fill="#000"/>
<circle cx="119.42" cy="579.92" r="1.1" fill="#000"/>
<circle cx="126.61" cy="579.56" r="1.1" fill="#000"/>
<circle cx="132.00" cy="577.82" r="1.1" fill="#000"/>
<circle cx="139.19" cy="577.97" r="1.1" fill="#000"/>
<polyline points="43.90,587.10 61.88,582.87 67.27,584.11 74.47,580.49 79.86,580.00 87.05,577.61 92.45,580.02 97.84,577.52 105.03,578.34 112.22,577.61 119.42,577.01 126.61,578.53 132.00,577.61 139.19,575.53" fill="none" stroke="#0000FF" stroke-width="0.6" stroke-linejoin="round"/>
<circle cx="61.88" cy="582.87" r="1.1" fill="#000"/>
<circle cx="67.27" cy="584.11" r="1.1" fill="#000"/>
<circle cx="74.47" cy="580.49" r="1.1" fill="#000"/>
<circle cx="79.86" cy="580.00" r="1.1" fill="#000"/>
<circle cx="87.05" cy="577.61" r="1.1" fill="#000"/>
<circle cx="92.45" cy="580.02" r="1.1" fill="#000"/>
<circle cx="97.84" cy="577.52" r="1.1" fill="#000"/>
<circle cx="105.03" cy="578.34" r="1.1" fill="#000"/>
<circle cx="112.22" cy="577.61" r="1.1" fill="#000"/>
<circle cx="119.42" cy="577.01" r="1.1" fill="#000"/>
<circle cx="126.61" cy="578.53" r="1.1" fill="#000"/>
<circle cx="132.00" cy="577.61" r="1.1" fill="#000"/>
<circle cx="139.19" cy="575.53" r="1.1" fill="#000"/>
<line x1="43.90" y1="521.00" x2="43.90" y2="587.60" stroke="#1a1a1a" stroke-width="1"/>
<line x1="43.40" y1="587.10" x2="143.00" y2="587.10" stroke="#1a1a1a" stroke-width="1"/>
<line x1="41.30" y1="587.10" x2="43.90" y2="587.10" stroke="#1a1a1a" stroke-width="1"/>
<text x="40.30" y="589.37" font-size="6.3" text-anchor="end" font-weight="bold" fill="#000" textLength="3.92" lengthAdjust="spacingAndGlyphs" >0</text>
<line x1="41.30" y1="570.58" x2="43.90" y2="570.58" stroke="#1a1a1a" stroke-width="1"/>
<text x="40.30" y="572.84" font-size="6.3" text-anchor="end" font-weight="bold" fill="#000" textLength="11.77" lengthAdjust="spacingAndGlyphs" >500</text>
<line x1="41.30" y1="554.05" x2="43.90" y2="554.05" stroke="#1a1a1a" stroke-width="1"/>
<text x="40.30" y="556.32" font-size="6.3" text-anchor="end" font-weight="bold" fill="#000" textLength="15.7" lengthAdjust="spacingAndGlyphs" >1000</text>
<line x1="41.30" y1="537.52" x2="43.90" y2="537.52" stroke="#1a1a1a" stroke-width="1"/>
<text x="40.30" y="539.79" font-size="6.3" text-anchor="end" font-weight="bold" fill="#000" textLength="15.7" lengthAdjust="spacingAndGlyphs" >1500</text>
<line x1="41.30" y1="521.00" x2="43.90" y2="521.00" stroke="#1a1a1a" stroke-width="1"/>
<text x="40.30" y="523.27" font-size="6.3" text-anchor="end" font-weight="bold" fill="#000" textLength="15.7" lengthAdjust="spacingAndGlyphs" >2000</text>
<line x1="43.90" y1="587.10" x2="43.90" y2="589.70" stroke="#1a1a1a" stroke-width="1"/>
<text x="43.90" y="596.30" font-size="6.8" text-anchor="middle" font-weight="bold" fill="#000" textLength="4.24" lengthAdjust="spacingAndGlyphs" >0</text>
<line x1="61.88" y1="587.10" x2="61.88" y2="589.70" stroke="#1a1a1a" stroke-width="1"/>
<text x="61.88" y="596.30" font-size="6.8" text-anchor="middle" font-weight="bold" fill="#000" textLength="8.47" lengthAdjust="spacingAndGlyphs" >10</text>
<line x1="79.86" y1="587.10" x2="79.86" y2="589.70" stroke="#1a1a1a" stroke-width="1"/>
<text x="79.86" y="596.30" font-size="6.8" text-anchor="middle" font-weight="bold" fill="#000" textLength="8.47" lengthAdjust="spacingAndGlyphs" >20</text>
<line x1="97.84" y1="587.10" x2="97.84" y2="589.70" stroke="#1a1a1a" stroke-width="1"/>
<text x="97.84" y="596.30" font-size="6.8" text-anchor="middle" font-weight="bold" fill="#000" textLength="8.47" lengthAdjust="spacingAndGlyphs" >30</text>
<line x1="115.82" y1="587.10" x2="115.82" y2="589.70" stroke="#1a1a1a" stroke-width="1"/>
<text x="115.82" y="596.30" font-size="6.8" text-anchor="middle" font-weight="bold" fill="#000" textLength="8.47" lengthAdjust="spacingAndGlyphs" >40</text>
<line x1="133.80" y1="587.10" x2="133.80" y2="589.70" stroke="#1a1a1a" stroke-width="1"/>
<text x="133.80" y="596.30" font-size="6.8" text-anchor="middle" font-weight="bold" fill="#000" textLength="8.47" lengthAdjust="spacingAndGlyphs" >50</text>
<text x="94.80" y="519.80" font-size="7" text-anchor="middle" font-weight="bold" fill="#000" textLength="46.4" lengthAdjust="spacingAndGlyphs" >MEER control</text>
<text x="93.60" y="608.30" font-size="8.8" text-anchor="middle" font-weight="bold" fill="#000" textLength="87.2" lengthAdjust="spacingAndGlyphs" >Days post implantation</text>
<text x="22.00" y="553.00" font-size="8.6" text-anchor="middle" font-weight="bold" fill="#000" textLength="78" lengthAdjust="spacingAndGlyphs" transform="rotate(-90 22.00 553.00)" >Tumor Volume (mm<tspan font-size="65%" dy="-3">3</tspan><tspan dy="3">)</tspan></text>
<polyline points="195.60,585.70 211.68,579.75 216.50,575.29 222.94,569.93 227.76,561.90 234.19,543.66 239.02,536.61 243.84,535.12 248.66,529.86 251.88,526.20" fill="none" stroke="#FF0A80" stroke-width="0.7" stroke-linejoin="round"/>
<circle cx="211.68" cy="579.75" r="1.1" fill="#000"/>
<circle cx="216.50" cy="575.29" r="1.1" fill="#000"/>
<circle cx="222.94" cy="569.93" r="1.1" fill="#000"/>
<circle cx="227.76" cy="561.90" r="1.1" fill="#000"/>
<circle cx="234.19" cy="543.66" r="1.1" fill="#000"/>
<circle cx="239.02" cy="536.61" r="1.1" fill="#000"/>
<circle cx="243.84" cy="535.12" r="1.1" fill="#000"/>
<circle cx="248.66" cy="529.86" r="1.1" fill="#000"/>
<polyline points="195.60,585.70 211.68,580.64 216.50,576.78 222.94,572.31 227.76,566.36 234.19,551.55 239.02,548.24 243.84,544.94 248.66,545.54 256.70,527.87" fill="none" stroke="#FF0A80" stroke-width="0.7" stroke-linejoin="round"/>
<circle cx="211.68" cy="580.64" r="1.1" fill="#000"/>
<circle cx="216.50" cy="576.78" r="1.1" fill="#000"/>
<circle cx="222.94" cy="572.31" r="1.1" fill="#000"/>
<circle cx="227.76" cy="566.36" r="1.1" fill="#000"/>
<circle cx="234.19" cy="551.55" r="1.1" fill="#000"/>
<circle cx="239.02" cy="548.24" r="1.1" fill="#000"/>
<circle cx="243.84" cy="544.94" r="1.1" fill="#000"/>
<circle cx="248.66" cy="545.54" r="1.1" fill="#000"/>
<circle cx="256.70" cy="527.87" r="1.1" fill="#000"/>
<polyline points="195.60,585.70 211.68,581.24 216.50,577.37 222.94,573.80 227.76,569.04 234.19,558.93 239.02,555.47 243.84,552.98 248.66,547.03 256.70,543.66" fill="none" stroke="#FF0A80" stroke-width="0.7" stroke-linejoin="round"/>
<circle cx="211.68" cy="581.24" r="1.1" fill="#000"/>
<circle cx="216.50" cy="577.37" r="1.1" fill="#000"/>
<circle cx="222.94" cy="573.80" r="1.1" fill="#000"/>
<circle cx="227.76" cy="569.04" r="1.1" fill="#000"/>
<circle cx="234.19" cy="558.93" r="1.1" fill="#000"/>
<circle cx="239.02" cy="555.47" r="1.1" fill="#000"/>
<circle cx="243.84" cy="552.98" r="1.1" fill="#000"/>
<circle cx="248.66" cy="547.03" r="1.1" fill="#000"/>
<circle cx="256.70" cy="543.66" r="1.1" fill="#000"/>
<polyline points="195.60,585.70 211.68,581.83 216.50,578.26 222.94,575.29 227.76,572.31 234.19,567.25 239.02,564.88 243.84,558.93 248.66,555.47 256.70,552.98 263.14,548.24 269.57,537.09 274.39,526.20" fill="none" stroke="#FF0A80" stroke-width="0.7" stroke-linejoin="round"/>
<circle cx="211.68" cy="581.83" r="1.1" fill="#000"/>
<circle cx="216.50" cy="578.26" r="1.1" fill="#000"/>
<circle cx="222.94" cy="575.29" r="1.1" fill="#000"/>
<circle cx="227.76" cy="572.31" r="1.1" fill="#000"/>
<circle cx="234.19" cy="567.25" r="1.1" fill="#000"/>
<circle cx="239.02" cy="564.88" r="1.1" fill="#000"/>
<circle cx="243.84" cy="558.93" r="1.1" fill="#000"/>
<circle cx="248.66" cy="555.47" r="1.1" fill="#000"/>
<circle cx="256.70" cy="552.98" r="1.1" fill="#000"/>
<circle cx="263.14" cy="548.24" r="1.1" fill="#000"/>
<circle cx="269.57" cy="537.09" r="1.1" fill="#000"/>
<polyline points="195.60,585.70 211.68,582.13 216.50,578.86 222.94,576.18 227.76,573.21 234.19,569.04 239.02,566.66 243.84,561.90 248.66,559.43 256.70,554.17 263.14,539.71 269.57,529.86 274.39,533.16 277.61,526.20" fill="none" stroke="#FF0A80" stroke-width="0.7" stroke-linejoin="round"/>
<circle cx="211.68" cy="582.13" r="1.1" fill="#000"/>
<circle cx="216.50" cy="578.86" r="1.1" fill="#000"/>
<circle cx="222.94" cy="576.18" r="1.1" fill="#000"/>
<circle cx="227.76" cy="573.21" r="1.1" fill="#000"/>
<circle cx="234.19" cy="569.04" r="1.1" fill="#000"/>
<circle cx="239.02" cy="566.66" r="1.1" fill="#000"/>
<circle cx="243.84" cy="561.90" r="1.1" fill="#000"/>
<circle cx="248.66" cy="559.43" r="1.1" fill="#000"/>
<circle cx="256.70" cy="554.17" r="1.1" fill="#000"/>
<circle cx="263.14" cy="539.71" r="1.1" fill="#000"/>
<circle cx="269.57" cy="529.86" r="1.1" fill="#000"/>
<circle cx="274.39" cy="533.16" r="1.1" fill="#000"/>
<polyline points="195.60,585.70 211.68,582.43 216.50,579.75 222.94,576.78 227.76,574.40 234.19,570.83 239.02,569.04 243.84,564.88 248.66,562.05 256.70,559.43 263.14,562.05 269.57,551.55 274.39,537.09" fill="none" stroke="#FF0A80" stroke-width="0.7" stroke-linejoin="round"/>
<circle cx="211.68" cy="582.43" r="1.1" fill="#000"/>
<circle cx="216.50" cy="579.75" r="1.1" fill="#000"/>
<circle cx="222.94" cy="576.78" r="1.1" fill="#000"/>
<circle cx="227.76" cy="574.40" r="1.1" fill="#000"/>
<circle cx="234.19" cy="570.83" r="1.1" fill="#000"/>
<circle cx="239.02" cy="569.04" r="1.1" fill="#000"/>
<circle cx="243.84" cy="564.88" r="1.1" fill="#000"/>
<circle cx="248.66" cy="562.05" r="1.1" fill="#000"/>
<circle cx="256.70" cy="559.43" r="1.1" fill="#000"/>
<circle cx="263.14" cy="562.05" r="1.1" fill="#000"/>
<circle cx="269.57" cy="551.55" r="1.1" fill="#000"/>
<circle cx="274.39" cy="537.09" r="1.1" fill="#000"/>
<polyline points="195.60,585.70 211.68,582.73 216.50,580.35 222.94,577.37 227.76,575.29 234.19,572.31 239.02,570.23 243.84,567.25 248.66,564.67 256.70,557.44 263.14,548.22" fill="none" stroke="#FF0A80" stroke-width="0.7" stroke-linejoin="round"/>
<circle cx="211.68" cy="582.73" r="1.1" fill="#000"/>
<circle cx="216.50" cy="580.35" r="1.1" fill="#000"/>
<circle cx="222.94" cy="577.37" r="1.1" fill="#000"/>
<circle cx="227.76" cy="575.29" r="1.1" fill="#000"/>
<circle cx="234.19" cy="572.31" r="1.1" fill="#000"/>
<circle cx="239.02" cy="570.23" r="1.1" fill="#000"/>
<circle cx="243.84" cy="567.25" r="1.1" fill="#000"/>
<circle cx="248.66" cy="564.67" r="1.1" fill="#000"/>
<circle cx="256.70" cy="557.44" r="1.1" fill="#000"/>
<circle cx="263.14" cy="548.22" r="1.1" fill="#000"/>
<polyline points="195.60,585.70 211.68,583.02 216.50,580.94 222.94,578.26 227.76,576.78 234.19,572.91 239.02,571.42 243.84,569.04 248.66,567.85 256.70,560.41" fill="none" stroke="#FF0A80" stroke-width="0.7" stroke-linejoin="round"/>
<circle cx="211.68" cy="583.02" r="1.1" fill="#000"/>
<circle cx="216.50" cy="580.94" r="1.1" fill="#000"/>
<circle cx="222.94" cy="578.26" r="1.1" fill="#000"/>
<circle cx="227.76" cy="576.78" r="1.1" fill="#000"/>
<circle cx="234.19" cy="572.91" r="1.1" fill="#000"/>
<circle cx="239.02" cy="571.42" r="1.1" fill="#000"/>
<circle cx="243.84" cy="569.04" r="1.1" fill="#000"/>
<circle cx="248.66" cy="567.85" r="1.1" fill="#000"/>
<circle cx="256.70" cy="560.41" r="1.1" fill="#000"/>
<polyline points="195.60,585.70 211.68,583.32 216.50,581.54 222.94,579.75 227.76,577.07 234.19,577.16 239.02,577.37 243.84,577.16 248.66,577.16 256.70,562.05" fill="none" stroke="#FF0A80" stroke-width="0.7" stroke-linejoin="round"/>
<circle cx="211.68" cy="583.32" r="1.1" fill="#000"/>
<circle cx="216.50" cy="581.54" r="1.1" fill="#000"/>
<circle cx="222.94" cy="579.75" r="1.1" fill="#000"/>
<circle cx="227.76" cy="577.07" r="1.1" fill="#000"/>
<circle cx="234.19" cy="577.16" r="1.1" fill="#000"/>
<circle cx="239.02" cy="577.37" r="1.1" fill="#000"/>
<circle cx="243.84" cy="577.16" r="1.1" fill="#000"/>
<circle cx="248.66" cy="577.16" r="1.1" fill="#000"/>
<circle cx="256.70" cy="562.05" r="1.1" fill="#000"/>
<polyline points="195.60,585.70 211.68,582.73 216.50,581.24 222.94,579.16 227.76,573.80 234.19,567.25 239.02,559.52 243.84,557.14 248.66,552.98" fill="none" stroke="#FF0A80" stroke-width="0.7" stroke-linejoin="round"/>
<circle cx="211.68" cy="582.73" r="1.1" fill="#000"/>
<circle cx="216.50" cy="581.24" r="1.1" fill="#000"/>
<circle cx="222.94" cy="579.16" r="1.1" fill="#000"/>
<circle cx="227.76" cy="573.80" r="1.1" fill="#000"/>
<circle cx="234.19" cy="567.25" r="1.1" fill="#000"/>
<circle cx="239.02" cy="559.52" r="1.1" fill="#000"/>
<circle cx="243.84" cy="557.14" r="1.1" fill="#000"/>
<circle cx="248.66" cy="552.98" r="1.1" fill="#000"/>
<polyline points="195.60,585.70 211.68,580.94 216.50,577.97 222.94,574.40 227.76,569.04 234.19,555.36 239.02,551.49 243.84,548.51 248.66,544.05 253.49,526.20" fill="none" stroke="#FF0A80" stroke-width="0.7" stroke-linejoin="round"/>
<circle cx="211.68" cy="580.94" r="1.1" fill="#000"/>
<circle cx="216.50" cy="577.97" r="1.1" fill="#000"/>
<circle cx="222.94" cy="574.40" r="1.1" fill="#000"/>
<circle cx="227.76" cy="569.04" r="1.1" fill="#000"/>
<circle cx="234.19" cy="555.36" r="1.1" fill="#000"/>
<circle cx="239.02" cy="551.49" r="1.1" fill="#000"/>
<circle cx="243.84" cy="548.51" r="1.1" fill="#000"/>
<circle cx="248.66" cy="544.05" r="1.1" fill="#000"/>
<line x1="195.60" y1="526.20" x2="195.60" y2="586.20" stroke="#1a1a1a" stroke-width="1"/>
<line x1="195.10" y1="585.70" x2="283.00" y2="585.70" stroke="#1a1a1a" stroke-width="1"/>
<line x1="193.00" y1="585.70" x2="195.60" y2="585.70" stroke="#1a1a1a" stroke-width="1"/>
<text x="192.00" y="587.97" font-size="6.3" text-anchor="end" font-weight="bold" fill="#000" textLength="3.92" lengthAdjust="spacingAndGlyphs" >0</text>
<line x1="193.00" y1="570.83" x2="195.60" y2="570.83" stroke="#1a1a1a" stroke-width="1"/>
<text x="192.00" y="573.09" font-size="6.3" text-anchor="end" font-weight="bold" fill="#000" textLength="11.77" lengthAdjust="spacingAndGlyphs" >500</text>
<line x1="193.00" y1="555.95" x2="195.60" y2="555.95" stroke="#1a1a1a" stroke-width="1"/>
<text x="192.00" y="558.22" font-size="6.3" text-anchor="end" font-weight="bold" fill="#000" textLength="15.7" lengthAdjust="spacingAndGlyphs" >1000</text>
<line x1="193.00" y1="541.08" x2="195.60" y2="541.08" stroke="#1a1a1a" stroke-width="1"/>
<text x="192.00" y="543.34" font-size="6.3" text-anchor="end" font-weight="bold" fill="#000" textLength="15.7" lengthAdjust="spacingAndGlyphs" >1500</text>
<line x1="193.00" y1="526.20" x2="195.60" y2="526.20" stroke="#1a1a1a" stroke-width="1"/>
<text x="192.00" y="528.47" font-size="6.3" text-anchor="end" font-weight="bold" fill="#000" textLength="15.7" lengthAdjust="spacingAndGlyphs" >2000</text>
<line x1="195.60" y1="585.70" x2="195.60" y2="588.30" stroke="#1a1a1a" stroke-width="1"/>
<text x="195.60" y="594.90" font-size="6.3" text-anchor="middle" font-weight="bold" fill="#000" textLength="3.92" lengthAdjust="spacingAndGlyphs" >0</text>
<line x1="211.68" y1="585.70" x2="211.68" y2="588.30" stroke="#1a1a1a" stroke-width="1"/>
<text x="211.68" y="594.90" font-size="6.3" text-anchor="middle" font-weight="bold" fill="#000" textLength="7.85" lengthAdjust="spacingAndGlyphs" >10</text>
<line x1="227.76" y1="585.70" x2="227.76" y2="588.30" stroke="#1a1a1a" stroke-width="1"/>
<text x="227.76" y="594.90" font-size="6.3" text-anchor="middle" font-weight="bold" fill="#000" textLength="7.85" lengthAdjust="spacingAndGlyphs" >20</text>
<line x1="243.84" y1="585.70" x2="243.84" y2="588.30" stroke="#1a1a1a" stroke-width="1"/>
<text x="243.84" y="594.90" font-size="6.3" text-anchor="middle" font-weight="bold" fill="#000" textLength="7.85" lengthAdjust="spacingAndGlyphs" >30</text>
<line x1="259.92" y1="585.70" x2="259.92" y2="588.30" stroke="#1a1a1a" stroke-width="1"/>
<text x="259.92" y="594.90" font-size="6.3" text-anchor="middle" font-weight="bold" fill="#000" textLength="7.85" lengthAdjust="spacingAndGlyphs" >40</text>
<line x1="276.00" y1="585.70" x2="276.00" y2="588.30" stroke="#1a1a1a" stroke-width="1"/>
<text x="276.00" y="594.90" font-size="6.3" text-anchor="middle" font-weight="bold" fill="#000" textLength="7.85" lengthAdjust="spacingAndGlyphs" >50</text>
<text x="239.60" y="515.20" font-size="6" text-anchor="middle" font-weight="bold" fill="#000" textLength="51.4" lengthAdjust="spacingAndGlyphs" >MEER EphB4 KO</text>
<text x="239.90" y="605.20" font-size="7.4" text-anchor="middle" font-weight="bold" fill="#000" textLength="77.9" lengthAdjust="spacingAndGlyphs" >Days post implantation</text>
<text x="175.00" y="554.90" font-size="7.8" text-anchor="middle" font-weight="bold" fill="#000" textLength="70" lengthAdjust="spacingAndGlyphs" transform="rotate(-90 175.00 554.90)" >Tumor Volume (mm<tspan font-size="65%" dy="-3">3</tspan><tspan dy="3">)</tspan></text>
<line x1="346.70" y1="514.10" x2="346.70" y2="594.70" stroke="#1a1a1a" stroke-width="1"/>
<line x1="346.20" y1="594.20" x2="398.90" y2="594.20" stroke="#1a1a1a" stroke-width="1"/>
<line x1="344.10" y1="594.20" x2="346.70" y2="594.20" stroke="#1a1a1a" stroke-width="1"/>
<text x="343.50" y="596.72" font-size="7" text-anchor="end" font-weight="bold" fill="#000" textLength="4.67" lengthAdjust="spacingAndGlyphs" >0</text>
<line x1="344.10" y1="574.18" x2="346.70" y2="574.18" stroke="#1a1a1a" stroke-width="1"/>
<text x="343.50" y="576.70" font-size="7" text-anchor="end" font-weight="bold" fill="#000" textLength="14.01" lengthAdjust="spacingAndGlyphs" >500</text>
<line x1="344.10" y1="554.15" x2="346.70" y2="554.15" stroke="#1a1a1a" stroke-width="1"/>
<text x="343.50" y="556.67" font-size="7" text-anchor="end" font-weight="bold" fill="#000" textLength="18.68" lengthAdjust="spacingAndGlyphs" >1000</text>
<line x1="344.10" y1="534.12" x2="346.70" y2="534.12" stroke="#1a1a1a" stroke-width="1"/>
<text x="343.50" y="536.64" font-size="7" text-anchor="end" font-weight="bold" fill="#000" textLength="18.68" lengthAdjust="spacingAndGlyphs" >1500</text>
<line x1="344.10" y1="514.10" x2="346.70" y2="514.10" stroke="#1a1a1a" stroke-width="1"/>
<text x="343.50" y="516.62" font-size="7" text-anchor="end" font-weight="bold" fill="#000" textLength="18.68" lengthAdjust="spacingAndGlyphs" >2000</text>
<line x1="362.40" y1="594.20" x2="362.40" y2="596.40" stroke="#333" stroke-width="0.8"/>
<line x1="384.90" y1="594.20" x2="384.90" y2="596.40" stroke="#333" stroke-width="0.8"/>
<rect x="355.40" y="587.19" width="14.10" height="7.01" fill="#0000FF" stroke="#000" stroke-width="1"/>
<line x1="362.45" y1="585.59" x2="362.45" y2="588.59" stroke="#d0d0d0" stroke-width="0.7"/>
<line x1="359.45" y1="585.59" x2="365.45" y2="585.59" stroke="#d0d0d0" stroke-width="0.7"/>
<line x1="359.45" y1="588.59" x2="365.45" y2="588.59" stroke="#d0d0d0" stroke-width="0.7"/>
<circle cx="355.95" cy="584.99" r="1.05" fill="#000"/>
<circle cx="360.45" cy="583.99" r="1.05" fill="#000"/>
<circle cx="364.75" cy="584.67" r="1.05" fill="#000"/>
<circle cx="369.25" cy="584.99" r="1.05" fill="#000"/>
<circle cx="360.45" cy="591.00" r="1.05" fill="#000"/>
<circle cx="364.75" cy="589.87" r="1.05" fill="#000"/>
<rect x="377.60" y="553.87" width="14.70" height="40.33" fill="#FF0A80" stroke="#000" stroke-width="1"/>
<line x1="384.95" y1="533.40" x2="384.95" y2="573.17" stroke="#505050" stroke-width="0.7"/>
<line x1="380.95" y1="533.40" x2="388.95" y2="533.40" stroke="#505050" stroke-width="0.7"/>
<line x1="380.95" y1="573.17" x2="388.95" y2="573.17" stroke="#505050" stroke-width="0.7"/>
<circle cx="384.95" cy="518.71" r="1.1" fill="#000"/>
<circle cx="384.95" cy="535.01" r="1.1" fill="#000"/>
<circle cx="384.95" cy="540.41" r="1.1" fill="#000"/>
<circle cx="384.95" cy="547.34" r="1.1" fill="#000"/>
<circle cx="384.95" cy="558.64" r="1.1" fill="#000"/>
<circle cx="384.95" cy="561.84" r="1.1" fill="#000"/>
<circle cx="384.95" cy="564.56" r="1.1" fill="#000"/>
<circle cx="384.95" cy="569.97" r="1.1" fill="#000"/>
<circle cx="384.95" cy="583.99" r="1.1" fill="#000"/>
<line x1="356.30" y1="514.10" x2="384.40" y2="514.10" stroke="#000" stroke-width="1"/>
<line x1="356.30" y1="511.65" x2="356.30" y2="516.55" stroke="#000" stroke-width="1"/>
<line x1="384.40" y1="511.65" x2="384.40" y2="516.55" stroke="#000" stroke-width="1"/>
<text x="370.80" y="513.00" font-size="6" text-anchor="middle" font-weight="bold" fill="#000" >***</text>
<text x="313.90" y="552.60" font-size="9.9" text-anchor="middle" font-weight="bold" fill="#000" textLength="97.7" lengthAdjust="spacingAndGlyphs" transform="rotate(-90 313.90 552.60)" >Tumor volume (mm<tspan font-size="65%" dy="-3">3</tspan><tspan dy="3">)</tspan></text>
<polyline points="46.00,722.20 73.27,705.68 84.96,699.57 88.86,691.68 100.54,689.33 112.23,672.50 127.82,671.80" fill="none" stroke="#0000FF" stroke-width="0.6" stroke-linejoin="round"/>
<circle cx="73.27" cy="705.68" r="1.3" fill="#000"/>
<circle cx="84.96" cy="699.57" r="1.3" fill="#000"/>
<circle cx="88.86" cy="691.68" r="1.3" fill="#000"/>
<circle cx="100.54" cy="689.33" r="1.3" fill="#000"/>
<circle cx="112.23" cy="672.50" r="1.3" fill="#000"/>
<circle cx="127.82" cy="671.80" r="1.3" fill="#000"/>
<polyline points="46.00,722.20 73.27,706.94 84.96,700.40 88.86,693.86 100.54,689.94 112.23,673.37 127.82,671.80" fill="none" stroke="#0000FF" stroke-width="0.6" stroke-linejoin="round"/>
<circle cx="73.27" cy="706.94" r="1.3" fill="#000"/>
<circle cx="84.96" cy="700.40" r="1.3" fill="#000"/>
<circle cx="88.86" cy="693.86" r="1.3" fill="#000"/>
<circle cx="100.54" cy="689.94" r="1.3" fill="#000"/>
<circle cx="112.23" cy="673.37" r="1.3" fill="#000"/>
<circle cx="127.82" cy="671.80" r="1.3" fill="#000"/>
<polyline points="46.00,722.20 73.27,708.25 84.96,701.27 88.86,695.17 100.54,690.81 112.23,674.24 127.82,677.82" fill="none" stroke="#0000FF" stroke-width="0.6" stroke-linejoin="round"/>
<circle cx="73.27" cy="708.25" r="1.3" fill="#000"/>
<circle cx="84.96" cy="701.27" r="1.3" fill="#000"/>
<circle cx="88.86" cy="695.17" r="1.3" fill="#000"/>
<circle cx="100.54" cy="690.81" r="1.3" fill="#000"/>
<circle cx="112.23" cy="674.24" r="1.3" fill="#000"/>
<circle cx="127.82" cy="677.82" r="1.3" fill="#000"/>
<polyline points="46.00,722.20 73.27,709.56 84.96,702.58 88.86,696.04 100.54,691.68 112.23,675.11 127.82,671.80" fill="none" stroke="#0000FF" stroke-width="0.6" stroke-linejoin="round"/>
<circle cx="73.27" cy="709.56" r="1.3" fill="#000"/>
<circle cx="84.96" cy="702.58" r="1.3" fill="#000"/>
<circle cx="88.86" cy="696.04" r="1.3" fill="#000"/>
<circle cx="100.54" cy="691.68" r="1.3" fill="#000"/>
<circle cx="112.23" cy="675.11" r="1.3" fill="#000"/>
<circle cx="127.82" cy="671.80" r="1.3" fill="#000"/>
<polyline points="46.00,722.20 73.27,710.86 84.96,703.45 88.86,696.91 100.54,692.55 112.23,680.34 127.82,682.00" fill="none" stroke="#0000FF" stroke-width="0.6" stroke-linejoin="round"/>
<circle cx="73.27" cy="710.86" r="1.3" fill="#000"/>
<circle cx="84.96" cy="703.45" r="1.3" fill="#000"/>
<circle cx="88.86" cy="696.91" r="1.3" fill="#000"/>
<circle cx="100.54" cy="692.55" r="1.3" fill="#000"/>
<circle cx="112.23" cy="680.34" r="1.3" fill="#000"/>
<circle cx="127.82" cy="682.00" r="1.3" fill="#000"/>
<polyline points="46.00,722.20 73.27,712.17 84.96,704.32 88.86,697.78 100.54,694.30 112.23,681.22 127.82,677.82" fill="none" stroke="#0000FF" stroke-width="0.6" stroke-linejoin="round"/>
<circle cx="73.27" cy="712.17" r="1.3" fill="#000"/>
<circle cx="84.96" cy="704.32" r="1.3" fill="#000"/>
<circle cx="88.86" cy="697.78" r="1.3" fill="#000"/>
<circle cx="100.54" cy="694.30" r="1.3" fill="#000"/>
<circle cx="112.23" cy="681.22" r="1.3" fill="#000"/>
<circle cx="127.82" cy="677.82" r="1.3" fill="#000"/>
<polyline points="46.00,722.20 73.27,713.48 84.96,705.20 88.86,699.09 100.54,696.04 112.23,682.96 127.82,682.00" fill="none" stroke="#0000FF" stroke-width="0.6" stroke-linejoin="round"/>
<circle cx="73.27" cy="713.48" r="1.3" fill="#000"/>
<circle cx="84.96" cy="705.20" r="1.3" fill="#000"/>
<circle cx="88.86" cy="699.09" r="1.3" fill="#000"/>
<circle cx="100.54" cy="696.04" r="1.3" fill="#000"/>
<circle cx="112.23" cy="682.96" r="1.3" fill="#000"/>
<circle cx="127.82" cy="682.00" r="1.3" fill="#000"/>
<polyline points="46.00,722.20 73.27,714.35 84.96,706.07 88.86,700.40 100.54,697.78 112.23,685.14 127.82,682.00" fill="none" stroke="#0000FF" stroke-width="0.6" stroke-linejoin="round"/>
<circle cx="73.27" cy="714.35" r="1.3" fill="#000"/>
<circle cx="84.96" cy="706.07" r="1.3" fill="#000"/>
<circle cx="88.86" cy="700.40" r="1.3" fill="#000"/>
<circle cx="100.54" cy="697.78" r="1.3" fill="#000"/>
<circle cx="112.23" cy="685.14" r="1.3" fill="#000"/>
<circle cx="127.82" cy="682.00" r="1.3" fill="#000"/>
<polyline points="46.00,722.20 73.27,715.01 84.96,706.72 88.86,701.27 100.54,699.53 112.23,686.93 127.82,677.82" fill="none" stroke="#0000FF" stroke-width="0.6" stroke-linejoin="round"/>
<circle cx="73.27" cy="715.01" r="1.3" fill="#000"/>
<circle cx="84.96" cy="706.72" r="1.3" fill="#000"/>
<circle cx="88.86" cy="701.27" r="1.3" fill="#000"/>
<circle cx="100.54" cy="699.53" r="1.3" fill="#000"/>
<circle cx="112.23" cy="686.93" r="1.3" fill="#000"/>
<circle cx="127.82" cy="677.82" r="1.3" fill="#000"/>
<polyline points="46.00,722.20 73.27,715.49 84.96,707.11 88.86,701.93 100.54,700.97 127.82,692.51" fill="none" stroke="#0000FF" stroke-width="0.6" stroke-linejoin="round"/>
<circle cx="73.27" cy="715.49" r="1.3" fill="#000"/>
<circle cx="84.96" cy="707.11" r="1.3" fill="#000"/>
<circle cx="88.86" cy="701.93" r="1.3" fill="#000"/>
<circle cx="100.54" cy="700.97" r="1.3" fill="#000"/>
<circle cx="127.82" cy="692.51" r="1.3" fill="#000"/>
<line x1="46.00" y1="656.80" x2="46.00" y2="722.70" stroke="#1a1a1a" stroke-width="1"/>
<line x1="45.50" y1="722.20" x2="143.40" y2="722.20" stroke="#1a1a1a" stroke-width="1"/>
<line x1="43.40" y1="722.20" x2="46.00" y2="722.20" stroke="#1a1a1a" stroke-width="1"/>
<text x="42.40" y="724.58" font-size="6.6" text-anchor="end" font-weight="bold" fill="#000" textLength="4.11" lengthAdjust="spacingAndGlyphs" >0</text>
<line x1="43.40" y1="700.40" x2="46.00" y2="700.40" stroke="#1a1a1a" stroke-width="1"/>
<text x="42.40" y="702.78" font-size="6.6" text-anchor="end" font-weight="bold" fill="#000" textLength="12.33" lengthAdjust="spacingAndGlyphs" >500</text>
<line x1="43.40" y1="678.60" x2="46.00" y2="678.60" stroke="#1a1a1a" stroke-width="1"/>
<text x="42.40" y="680.98" font-size="6.6" text-anchor="end" font-weight="bold" fill="#000" textLength="16.44" lengthAdjust="spacingAndGlyphs" >1000</text>
<line x1="43.40" y1="656.80" x2="46.00" y2="656.80" stroke="#1a1a1a" stroke-width="1"/>
<text x="42.40" y="659.18" font-size="6.6" text-anchor="end" font-weight="bold" fill="#000" textLength="16.44" lengthAdjust="spacingAndGlyphs" >1500</text>
<line x1="46.00" y1="722.20" x2="46.00" y2="724.80" stroke="#1a1a1a" stroke-width="1"/>
<text x="46.00" y="731.40" font-size="6.6" text-anchor="middle" font-weight="bold" fill="#000" textLength="4.11" lengthAdjust="spacingAndGlyphs" >0</text>
<line x1="65.48" y1="722.20" x2="65.48" y2="724.80" stroke="#1a1a1a" stroke-width="1"/>
<text x="65.48" y="731.40" font-size="6.6" text-anchor="middle" font-weight="bold" fill="#000" textLength="4.11" lengthAdjust="spacingAndGlyphs" >5</text>
<line x1="84.96" y1="722.20" x2="84.96" y2="724.80" stroke="#1a1a1a" stroke-width="1"/>
<text x="84.96" y="731.40" font-size="6.6" text-anchor="middle" font-weight="bold" fill="#000" textLength="8.22" lengthAdjust="spacingAndGlyphs" >10</text>
<line x1="104.44" y1="722.20" x2="104.44" y2="724.80" stroke="#1a1a1a" stroke-width="1"/>
<text x="104.44" y="731.40" font-size="6.6" text-anchor="middle" font-weight="bold" fill="#000" textLength="8.22" lengthAdjust="spacingAndGlyphs" >15</text>
<line x1="123.92" y1="722.20" x2="123.92" y2="724.80" stroke="#1a1a1a" stroke-width="1"/>
<text x="123.92" y="731.40" font-size="6.6" text-anchor="middle" font-weight="bold" fill="#000" textLength="8.22" lengthAdjust="spacingAndGlyphs" >20</text>
<line x1="143.40" y1="722.20" x2="143.40" y2="724.80" stroke="#1a1a1a" stroke-width="1"/>
<text x="143.40" y="731.40" font-size="6.6" text-anchor="middle" font-weight="bold" fill="#000" textLength="8.22" lengthAdjust="spacingAndGlyphs" >25</text>
<text x="52.90" y="654.60" font-size="6.6" text-anchor="start" font-weight="bold" fill="#000" textLength="110.4" lengthAdjust="spacingAndGlyphs" >Moc2 Control+Littermate Control</text>
<text x="94.60" y="743.30" font-size="8.4" text-anchor="middle" font-weight="bold" fill="#000" textLength="86.8" lengthAdjust="spacingAndGlyphs" >Days post implantation</text>
<text x="23.00" y="688.20" font-size="8.8" text-anchor="middle" font-weight="bold" fill="#000" textLength="78.7" lengthAdjust="spacingAndGlyphs" transform="rotate(-90 23.00 688.20)" >Tumor volume (mm<tspan font-size="65%" dy="-3">3</tspan><tspan dy="3">)</tspan></text>
<polyline points="208.00,720.40 234.15,707.94 245.36,697.70 249.10,687.13 260.30,687.13 271.51,677.76" fill="none" stroke="#F5821F" stroke-width="0.75" stroke-linejoin="round"/>
<circle cx="234.15" cy="707.94" r="1.1" fill="#000"/>
<circle cx="245.36" cy="697.70" r="1.1" fill="#000"/>
<circle cx="249.10" cy="687.13" r="1.1" fill="#000"/>
<circle cx="260.30" cy="687.13" r="1.1" fill="#000"/>
<circle cx="271.51" cy="677.76" r="1.1" fill="#000"/>
<polyline points="208.00,720.40 234.15,709.95 245.36,700.34 249.10,687.13 260.30,687.13 271.51,683.37 286.46,674.71" fill="none" stroke="#F5821F" stroke-width="0.75" stroke-linejoin="round"/>
<circle cx="234.15" cy="709.95" r="1.1" fill="#000"/>
<circle cx="245.36" cy="700.34" r="1.1" fill="#000"/>
<circle cx="249.10" cy="687.13" r="1.1" fill="#000"/>
<circle cx="260.30" cy="687.13" r="1.1" fill="#000"/>
<circle cx="271.51" cy="683.37" r="1.1" fill="#000"/>
<circle cx="286.46" cy="674.71" r="1.1" fill="#000"/>
<polyline points="208.00,720.40 234.15,712.04 245.36,702.84 249.10,695.86 260.30,695.86 271.51,686.17" fill="none" stroke="#F5821F" stroke-width="0.75" stroke-linejoin="round"/>
<circle cx="234.15" cy="712.04" r="1.1" fill="#000"/>
<circle cx="245.36" cy="702.84" r="1.1" fill="#000"/>
<circle cx="249.10" cy="695.86" r="1.1" fill="#000"/>
<circle cx="260.30" cy="695.86" r="1.1" fill="#000"/>
<circle cx="271.51" cy="686.17" r="1.1" fill="#000"/>
<polyline points="208.00,720.40 234.15,714.13 245.36,704.52 249.10,700.04 260.30,700.75 271.51,695.86 286.46,689.97" fill="none" stroke="#F5821F" stroke-width="0.75" stroke-linejoin="round"/>
<circle cx="234.15" cy="714.13" r="1.1" fill="#000"/>
<circle cx="245.36" cy="704.52" r="1.1" fill="#000"/>
<circle cx="249.10" cy="700.04" r="1.1" fill="#000"/>
<circle cx="260.30" cy="700.75" r="1.1" fill="#000"/>
<circle cx="271.51" cy="695.86" r="1.1" fill="#000"/>
<circle cx="286.46" cy="689.97" r="1.1" fill="#000"/>
<polyline points="208.00,720.40 234.15,715.80 245.36,707.02 249.10,703.68 260.30,703.68 271.51,696.99 286.46,694.86" fill="none" stroke="#F5821F" stroke-width="0.75" stroke-linejoin="round"/>
<circle cx="234.15" cy="715.80" r="1.1" fill="#000"/>
<circle cx="245.36" cy="707.02" r="1.1" fill="#000"/>
<circle cx="249.10" cy="703.68" r="1.1" fill="#000"/>
<circle cx="260.30" cy="703.68" r="1.1" fill="#000"/>
<circle cx="271.51" cy="696.99" r="1.1" fill="#000"/>
<circle cx="286.46" cy="694.86" r="1.1" fill="#000"/>
<polyline points="208.00,720.40 234.15,716.89 245.36,709.20 249.10,707.86 260.30,707.15 271.51,697.95 286.46,694.86" fill="none" stroke="#F5821F" stroke-width="0.75" stroke-linejoin="round"/>
<circle cx="234.15" cy="716.89" r="1.1" fill="#000"/>
<circle cx="245.36" cy="709.20" r="1.1" fill="#000"/>
<circle cx="249.10" cy="707.86" r="1.1" fill="#000"/>
<circle cx="260.30" cy="707.15" r="1.1" fill="#000"/>
<circle cx="271.51" cy="697.95" r="1.1" fill="#000"/>
<circle cx="286.46" cy="694.86" r="1.1" fill="#000"/>
<line x1="208.00" y1="657.70" x2="208.00" y2="720.90" stroke="#1a1a1a" stroke-width="1"/>
<line x1="207.50" y1="720.40" x2="301.40" y2="720.40" stroke="#1a1a1a" stroke-width="1"/>
<line x1="205.40" y1="720.40" x2="208.00" y2="720.40" stroke="#1a1a1a" stroke-width="1"/>
<text x="204.40" y="722.70" font-size="6.4" text-anchor="end" font-weight="bold" fill="#000" textLength="3.99" lengthAdjust="spacingAndGlyphs" >0</text>
<line x1="205.40" y1="699.50" x2="208.00" y2="699.50" stroke="#1a1a1a" stroke-width="1"/>
<text x="204.40" y="701.80" font-size="6.4" text-anchor="end" font-weight="bold" fill="#000" textLength="11.96" lengthAdjust="spacingAndGlyphs" >500</text>
<line x1="205.40" y1="678.60" x2="208.00" y2="678.60" stroke="#1a1a1a" stroke-width="1"/>
<text x="204.40" y="680.90" font-size="6.4" text-anchor="end" font-weight="bold" fill="#000" textLength="15.94" lengthAdjust="spacingAndGlyphs" >1000</text>
<line x1="205.40" y1="657.70" x2="208.00" y2="657.70" stroke="#1a1a1a" stroke-width="1"/>
<text x="204.40" y="660.00" font-size="6.4" text-anchor="end" font-weight="bold" fill="#000" textLength="15.94" lengthAdjust="spacingAndGlyphs" >1500</text>
<line x1="208.00" y1="720.40" x2="208.00" y2="723.00" stroke="#1a1a1a" stroke-width="1"/>
<text x="208.00" y="729.60" font-size="6.4" text-anchor="middle" font-weight="bold" fill="#000" textLength="3.99" lengthAdjust="spacingAndGlyphs" >0</text>
<line x1="226.68" y1="720.40" x2="226.68" y2="723.00" stroke="#1a1a1a" stroke-width="1"/>
<text x="226.68" y="729.60" font-size="6.4" text-anchor="middle" font-weight="bold" fill="#000" textLength="3.99" lengthAdjust="spacingAndGlyphs" >5</text>
<line x1="245.36" y1="720.40" x2="245.36" y2="723.00" stroke="#1a1a1a" stroke-width="1"/>
<text x="245.36" y="729.60" font-size="6.4" text-anchor="middle" font-weight="bold" fill="#000" textLength="7.97" lengthAdjust="spacingAndGlyphs" >10</text>
<line x1="264.04" y1="720.40" x2="264.04" y2="723.00" stroke="#1a1a1a" stroke-width="1"/>
<text x="264.04" y="729.60" font-size="6.4" text-anchor="middle" font-weight="bold" fill="#000" textLength="7.97" lengthAdjust="spacingAndGlyphs" >15</text>
<line x1="282.72" y1="720.40" x2="282.72" y2="723.00" stroke="#1a1a1a" stroke-width="1"/>
<text x="282.72" y="729.60" font-size="6.4" text-anchor="middle" font-weight="bold" fill="#000" textLength="7.97" lengthAdjust="spacingAndGlyphs" >20</text>
<line x1="301.40" y1="720.40" x2="301.40" y2="723.00" stroke="#1a1a1a" stroke-width="1"/>
<text x="301.40" y="729.60" font-size="6.4" text-anchor="middle" font-weight="bold" fill="#000" textLength="7.97" lengthAdjust="spacingAndGlyphs" >25</text>
<text x="210.70" y="653.40" font-size="6.7" text-anchor="start" font-weight="bold" fill="#000" textLength="122.2" lengthAdjust="spacingAndGlyphs" >Moc2 control +EFNB2<tspan font-size="72%" dy="-2.6">fl/fl</tspan><tspan dy="2.6"> Tie2-Cre-ERT</tspan></text>
<text x="255.40" y="741.00" font-size="7.6" text-anchor="middle" font-weight="bold" fill="#000" textLength="83.5" lengthAdjust="spacingAndGlyphs" >Days post implantation</text>
<text x="188.00" y="687.50" font-size="8.5" text-anchor="middle" font-weight="bold" fill="#000" textLength="76.3" lengthAdjust="spacingAndGlyphs" transform="rotate(-90 188.00 687.50)" >Tumor volume (mm<tspan font-size="65%" dy="-3">3</tspan><tspan dy="3">)</tspan></text>
<line x1="386.50" y1="651.40" x2="386.50" y2="731.30" stroke="#555" stroke-width="0.9"/>
<line x1="386.00" y1="730.80" x2="506.40" y2="730.80" stroke="#1a1a1a" stroke-width="1"/>
<line x1="383.90" y1="730.80" x2="386.50" y2="730.80" stroke="#555" stroke-width="0.9"/>
<text x="383.30" y="733.50" font-size="7.5" text-anchor="end" font-weight="bold" fill="#000" textLength="4.71" lengthAdjust="spacingAndGlyphs" >0</text>
<line x1="383.90" y1="704.33" x2="386.50" y2="704.33" stroke="#555" stroke-width="0.9"/>
<text x="383.30" y="707.03" font-size="7.5" text-anchor="end" font-weight="bold" fill="#000" textLength="14.14" lengthAdjust="spacingAndGlyphs" >500</text>
<line x1="383.90" y1="677.87" x2="386.50" y2="677.87" stroke="#555" stroke-width="0.9"/>
<text x="383.30" y="680.57" font-size="7.5" text-anchor="end" font-weight="bold" fill="#000" textLength="18.85" lengthAdjust="spacingAndGlyphs" >1000</text>
<line x1="383.90" y1="651.40" x2="386.50" y2="651.40" stroke="#555" stroke-width="0.9"/>
<text x="383.30" y="654.10" font-size="7.5" text-anchor="end" font-weight="bold" fill="#000" textLength="18.85" lengthAdjust="spacingAndGlyphs" >1500</text>
<line x1="417.00" y1="730.80" x2="417.00" y2="733.00" stroke="#555" stroke-width="0.8"/>
<line x1="476.80" y1="730.80" x2="476.80" y2="733.00" stroke="#555" stroke-width="0.8"/>
<rect x="397.40" y="680.25" width="39.20" height="50.55" fill="#0000FF" stroke="#000" stroke-width="1"/>
<line x1="417.00" y1="677.39" x2="417.00" y2="682.47" stroke="#000" stroke-width="0.8"/>
<line x1="406.60" y1="677.39" x2="427.40" y2="677.39" stroke="#000" stroke-width="0.8"/>
<line x1="406.60" y1="682.47" x2="427.40" y2="682.47" stroke="#000" stroke-width="0.8"/>
<circle cx="413.60" cy="671.14" r="1.4" fill="#000"/>
<circle cx="420.20" cy="673.00" r="1.4" fill="#000"/>
<circle cx="413.60" cy="675.59" r="1.4" fill="#000"/>
<circle cx="413.60" cy="682.47" r="1.4" fill="#000"/>
<circle cx="420.20" cy="681.15" r="1.4" fill="#000"/>
<circle cx="413.60" cy="688.88" r="1.4" fill="#000"/>
<circle cx="420.20" cy="687.92" r="1.4" fill="#000"/>
<rect x="457.40" y="692.85" width="38.90" height="37.95" fill="#FF8000" stroke="#000" stroke-width="1"/>
<line x1="476.85" y1="688.45" x2="476.85" y2="696.55" stroke="#000" stroke-width="0.8"/>
<line x1="466.85" y1="688.45" x2="486.85" y2="688.45" stroke="#000" stroke-width="0.8"/>
<line x1="466.85" y1="696.55" x2="486.85" y2="696.55" stroke="#000" stroke-width="0.8"/>
<rect x="475.50" y="674.24" width="2.70" height="2.70" fill="#000"/>
<rect x="472.30" y="684.24" width="2.70" height="2.70" fill="#000"/>
<rect x="478.70" y="681.76" width="2.70" height="2.70" fill="#000"/>
<rect x="472.30" y="697.27" width="2.70" height="2.70" fill="#000"/>
<rect x="465.90" y="700.60" width="2.70" height="2.70" fill="#000"/>
<rect x="478.70" y="700.28" width="2.70" height="2.70" fill="#000"/>
<rect x="485.10" y="698.11" width="2.70" height="2.70" fill="#000"/>
<line x1="416.60" y1="659.20" x2="475.00" y2="659.20" stroke="#000" stroke-width="1"/>
<line x1="416.60" y1="656.75" x2="416.60" y2="661.65" stroke="#000" stroke-width="1"/>
<line x1="475.00" y1="656.75" x2="475.00" y2="661.65" stroke="#000" stroke-width="1"/>
<text x="443.90" y="660.00" font-size="6.5" text-anchor="middle" font-weight="bold" fill="#000" >*</text>
<text x="360.50" y="690.00" font-size="10.3" text-anchor="middle" font-weight="bold" fill="#000" textLength="96.4" lengthAdjust="spacingAndGlyphs" transform="rotate(-90 360.50 690.00)" >Tumor volume (mm<tspan font-size="65%" dy="-3">3</tspan><tspan dy="3">)</tspan></text>
<polyline points="49.00,861.40 71.90,855.26 87.16,847.23 102.42,842.12 117.69,827.51 129.14,820.92 144.40,809.24" fill="none" stroke="#0000FF" stroke-width="0.5" stroke-linejoin="round"/>
<circle cx="71.90" cy="855.26" r="1.1" fill="#000"/>
<circle cx="87.16" cy="847.23" r="1.1" fill="#000"/>
<circle cx="102.42" cy="842.12" r="1.1" fill="#000"/>
<circle cx="117.69" cy="827.51" r="1.1" fill="#000"/>
<circle cx="129.14" cy="820.92" r="1.1" fill="#000"/>
<circle cx="144.40" cy="809.24" r="1.1" fill="#000"/>
<polyline points="49.00,861.40 71.90,855.57 87.16,847.86 102.42,842.81 117.69,830.88 129.14,825.30 144.40,810.37" fill="none" stroke="#0000FF" stroke-width="0.5" stroke-linejoin="round"/>
<circle cx="71.90" cy="855.57" r="1.1" fill="#000"/>
<circle cx="87.16" cy="847.86" r="1.1" fill="#000"/>
<circle cx="102.42" cy="842.81" r="1.1" fill="#000"/>
<circle cx="117.69" cy="830.88" r="1.1" fill="#000"/>
<circle cx="129.14" cy="825.30" r="1.1" fill="#000"/>
<circle cx="144.40" cy="810.37" r="1.1" fill="#000"/>
<polyline points="49.00,861.40 71.90,856.04 87.16,848.80 102.42,843.76 117.69,839.19 129.14,826.12 144.40,811.41" fill="none" stroke="#0000FF" stroke-width="0.5" stroke-linejoin="round"/>
<circle cx="71.90" cy="856.04" r="1.1" fill="#000"/>
<circle cx="87.16" cy="848.80" r="1.1" fill="#000"/>
<circle cx="102.42" cy="843.76" r="1.1" fill="#000"/>
<circle cx="117.69" cy="839.19" r="1.1" fill="#000"/>
<circle cx="129.14" cy="826.12" r="1.1" fill="#000"/>
<circle cx="144.40" cy="811.41" r="1.1" fill="#000"/>
<polyline points="49.00,861.40 71.90,856.36 87.16,849.43 102.42,844.39 117.69,840.92 129.14,826.78 144.40,821.65" fill="none" stroke="#0000FF" stroke-width="0.5" stroke-linejoin="round"/>
<circle cx="71.90" cy="856.36" r="1.1" fill="#000"/>
<circle cx="87.16" cy="849.43" r="1.1" fill="#000"/>
<circle cx="102.42" cy="844.39" r="1.1" fill="#000"/>
<circle cx="117.69" cy="840.92" r="1.1" fill="#000"/>
<circle cx="129.14" cy="826.78" r="1.1" fill="#000"/>
<circle cx="144.40" cy="821.65" r="1.1" fill="#000"/>
<polyline points="49.00,861.40 71.90,856.67 87.16,851.95 102.42,850.15 117.69,842.50 129.14,833.37 144.40,822.37" fill="none" stroke="#0000FF" stroke-width="0.5" stroke-linejoin="round"/>
<circle cx="71.90" cy="856.67" r="1.1" fill="#000"/>
<circle cx="87.16" cy="851.95" r="1.1" fill="#000"/>
<circle cx="102.42" cy="850.15" r="1.1" fill="#000"/>
<circle cx="117.69" cy="842.50" r="1.1" fill="#000"/>
<circle cx="129.14" cy="833.37" r="1.1" fill="#000"/>
<circle cx="144.40" cy="822.37" r="1.1" fill="#000"/>
<polyline points="49.00,861.40 71.90,856.99 87.16,852.58 102.42,851.00 117.69,844.07 129.14,834.00 144.40,821.65" fill="none" stroke="#0000FF" stroke-width="0.5" stroke-linejoin="round"/>
<circle cx="71.90" cy="856.99" r="1.1" fill="#000"/>
<circle cx="87.16" cy="852.58" r="1.1" fill="#000"/>
<circle cx="102.42" cy="851.00" r="1.1" fill="#000"/>
<circle cx="117.69" cy="844.07" r="1.1" fill="#000"/>
<circle cx="129.14" cy="834.00" r="1.1" fill="#000"/>
<circle cx="144.40" cy="821.65" r="1.1" fill="#000"/>
<polyline points="49.00,861.40 71.90,857.30 87.16,853.52 102.42,851.95 117.69,845.65 129.14,834.81 144.40,828.23" fill="none" stroke="#0000FF" stroke-width="0.5" stroke-linejoin="round"/>
<circle cx="71.90" cy="857.30" r="1.1" fill="#000"/>
<circle cx="87.16" cy="853.52" r="1.1" fill="#000"/>
<circle cx="102.42" cy="851.95" r="1.1" fill="#000"/>
<circle cx="117.69" cy="845.65" r="1.1" fill="#000"/>
<circle cx="129.14" cy="834.81" r="1.1" fill="#000"/>
<circle cx="144.40" cy="828.23" r="1.1" fill="#000"/>
<polyline points="49.00,861.40 71.90,857.62 87.16,854.47 102.42,852.26 117.69,847.23 129.14,839.19 144.40,828.23" fill="none" stroke="#0000FF" stroke-width="0.5" stroke-linejoin="round"/>
<circle cx="71.90" cy="857.62" r="1.1" fill="#000"/>
<circle cx="87.16" cy="854.47" r="1.1" fill="#000"/>
<circle cx="102.42" cy="852.26" r="1.1" fill="#000"/>
<circle cx="117.69" cy="847.23" r="1.1" fill="#000"/>
<circle cx="129.14" cy="839.19" r="1.1" fill="#000"/>
<circle cx="144.40" cy="828.23" r="1.1" fill="#000"/>
<polyline points="49.00,861.40 71.90,857.93 87.16,855.10 102.42,852.89 117.69,848.17 129.14,839.19 144.40,832.33" fill="none" stroke="#0000FF" stroke-width="0.5" stroke-linejoin="round"/>
<circle cx="71.90" cy="857.93" r="1.1" fill="#000"/>
<circle cx="87.16" cy="855.10" r="1.1" fill="#000"/>
<circle cx="102.42" cy="852.89" r="1.1" fill="#000"/>
<circle cx="117.69" cy="848.17" r="1.1" fill="#000"/>
<circle cx="129.14" cy="839.19" r="1.1" fill="#000"/>
<circle cx="144.40" cy="832.33" r="1.1" fill="#000"/>
<polyline points="49.00,861.40 71.90,858.25 87.16,855.73 102.42,853.21 117.69,848.80 129.14,846.50" fill="none" stroke="#0000FF" stroke-width="0.5" stroke-linejoin="round"/>
<circle cx="71.90" cy="858.25" r="1.1" fill="#000"/>
<circle cx="87.16" cy="855.73" r="1.1" fill="#000"/>
<circle cx="102.42" cy="853.21" r="1.1" fill="#000"/>
<circle cx="117.69" cy="848.80" r="1.1" fill="#000"/>
<circle cx="129.14" cy="846.50" r="1.1" fill="#000"/>
<polyline points="49.00,861.40 71.90,858.56 87.16,856.36 102.42,853.52 117.69,849.43 129.14,834.00 144.40,822.37" fill="none" stroke="#0000FF" stroke-width="0.5" stroke-linejoin="round"/>
<circle cx="71.90" cy="858.56" r="1.1" fill="#000"/>
<circle cx="87.16" cy="856.36" r="1.1" fill="#000"/>
<circle cx="102.42" cy="853.52" r="1.1" fill="#000"/>
<circle cx="117.69" cy="849.43" r="1.1" fill="#000"/>
<circle cx="129.14" cy="834.00" r="1.1" fill="#000"/>
<circle cx="144.40" cy="822.37" r="1.1" fill="#000"/>
<polyline points="49.00,861.40 71.90,858.94 87.16,856.74 102.42,853.81 117.69,849.43 129.14,834.81 144.40,832.33" fill="none" stroke="#0000FF" stroke-width="0.5" stroke-linejoin="round"/>
<circle cx="71.90" cy="858.94" r="1.1" fill="#000"/>
<circle cx="87.16" cy="856.74" r="1.1" fill="#000"/>
<circle cx="102.42" cy="853.81" r="1.1" fill="#000"/>
<circle cx="117.69" cy="849.43" r="1.1" fill="#000"/>
<circle cx="129.14" cy="834.81" r="1.1" fill="#000"/>
<circle cx="144.40" cy="832.33" r="1.1" fill="#000"/>
<line x1="49.00" y1="798.40" x2="49.00" y2="861.90" stroke="#1a1a1a" stroke-width="1"/>
<line x1="48.50" y1="861.40" x2="144.40" y2="861.40" stroke="#1a1a1a" stroke-width="1"/>
<line x1="46.40" y1="861.40" x2="49.00" y2="861.40" stroke="#1a1a1a" stroke-width="1"/>
<text x="45.40" y="863.78" font-size="6.6" text-anchor="end" font-weight="bold" fill="#000" textLength="4.04" lengthAdjust="spacingAndGlyphs" >0</text>
<line x1="46.40" y1="845.65" x2="49.00" y2="845.65" stroke="#1a1a1a" stroke-width="1"/>
<text x="45.40" y="848.03" font-size="6.6" text-anchor="end" font-weight="bold" fill="#000" textLength="12.11" lengthAdjust="spacingAndGlyphs" >500</text>
<line x1="46.40" y1="829.90" x2="49.00" y2="829.90" stroke="#1a1a1a" stroke-width="1"/>
<text x="45.40" y="832.28" font-size="6.6" text-anchor="end" font-weight="bold" fill="#000" textLength="16.15" lengthAdjust="spacingAndGlyphs" >1000</text>
<line x1="46.40" y1="814.15" x2="49.00" y2="814.15" stroke="#1a1a1a" stroke-width="1"/>
<text x="45.40" y="816.53" font-size="6.6" text-anchor="end" font-weight="bold" fill="#000" textLength="16.15" lengthAdjust="spacingAndGlyphs" >1500</text>
<line x1="46.40" y1="798.40" x2="49.00" y2="798.40" stroke="#1a1a1a" stroke-width="1"/>
<text x="45.40" y="800.78" font-size="6.6" text-anchor="end" font-weight="bold" fill="#000" textLength="16.15" lengthAdjust="spacingAndGlyphs" >2000</text>
<line x1="49.00" y1="861.40" x2="49.00" y2="864.00" stroke="#1a1a1a" stroke-width="1"/>
<text x="49.00" y="870.60" font-size="7" text-anchor="middle" font-weight="bold" fill="#000" textLength="4.28" lengthAdjust="spacingAndGlyphs" >0</text>
<line x1="68.08" y1="861.40" x2="68.08" y2="864.00" stroke="#1a1a1a" stroke-width="1"/>
<text x="68.08" y="870.60" font-size="7" text-anchor="middle" font-weight="bold" fill="#000" textLength="4.28" lengthAdjust="spacingAndGlyphs" >5</text>
<line x1="87.16" y1="861.40" x2="87.16" y2="864.00" stroke="#1a1a1a" stroke-width="1"/>
<text x="87.16" y="870.60" font-size="7" text-anchor="middle" font-weight="bold" fill="#000" textLength="8.56" lengthAdjust="spacingAndGlyphs" >10</text>
<line x1="106.24" y1="861.40" x2="106.24" y2="864.00" stroke="#1a1a1a" stroke-width="1"/>
<text x="106.24" y="870.60" font-size="7" text-anchor="middle" font-weight="bold" fill="#000" textLength="8.56" lengthAdjust="spacingAndGlyphs" >15</text>
<line x1="125.32" y1="861.40" x2="125.32" y2="864.00" stroke="#1a1a1a" stroke-width="1"/>
<text x="125.32" y="870.60" font-size="7" text-anchor="middle" font-weight="bold" fill="#000" textLength="8.56" lengthAdjust="spacingAndGlyphs" >20</text>
<line x1="144.40" y1="861.40" x2="144.40" y2="864.00" stroke="#1a1a1a" stroke-width="1"/>
<text x="144.40" y="870.60" font-size="7" text-anchor="middle" font-weight="bold" fill="#000" textLength="8.56" lengthAdjust="spacingAndGlyphs" >25</text>
<text x="96.80" y="792.70" font-size="5.5" text-anchor="middle" font-weight="bold" fill="#000" textLength="92.7" lengthAdjust="spacingAndGlyphs" >Moc2 Control+Littermate Control</text>
<text x="96.80" y="882.40" font-size="8.2" text-anchor="middle" font-weight="bold" fill="#000" textLength="84" lengthAdjust="spacingAndGlyphs" >Days post-implantation</text>
<text x="25.00" y="828.90" font-size="8.6" text-anchor="middle" font-weight="bold" fill="#000" textLength="76" lengthAdjust="spacingAndGlyphs" transform="rotate(-90 25.00 828.90)" >Tumor volume (mm<tspan font-size="65%" dy="-3">3</tspan><tspan dy="3">)</tspan></text>
<polyline points="208.80,864.00 230.76,859.27 245.40,854.70 260.04,849.42 274.68,847.74 285.66,838.75" fill="none" stroke="#FF0000" stroke-width="0.5" stroke-linejoin="round"/>
<circle cx="230.76" cy="859.27" r="1.0" fill="#000"/>
<circle cx="245.40" cy="854.70" r="1.0" fill="#000"/>
<circle cx="260.04" cy="849.42" r="1.0" fill="#000"/>
<circle cx="274.68" cy="847.74" r="1.0" fill="#000"/>
<circle cx="285.66" cy="838.75" r="1.0" fill="#000"/>
<polyline points="208.80,864.00 230.76,859.73 245.40,855.46 260.04,851.80 274.68,851.92 285.66,843.60" fill="none" stroke="#FF0000" stroke-width="0.5" stroke-linejoin="round"/>
<circle cx="230.76" cy="859.73" r="1.0" fill="#000"/>
<circle cx="245.40" cy="855.46" r="1.0" fill="#000"/>
<circle cx="260.04" cy="851.80" r="1.0" fill="#000"/>
<circle cx="274.68" cy="851.92" r="1.0" fill="#000"/>
<circle cx="285.66" cy="843.60" r="1.0" fill="#000"/>
<polyline points="208.80,864.00 230.76,860.03 245.40,856.38 260.04,853.75 274.68,856.38 285.66,849.15 300.30,844.30" fill="none" stroke="#FF0000" stroke-width="0.5" stroke-linejoin="round"/>
<circle cx="230.76" cy="860.03" r="1.0" fill="#000"/>
<circle cx="245.40" cy="856.38" r="1.0" fill="#000"/>
<circle cx="260.04" cy="853.75" r="1.0" fill="#000"/>
<circle cx="274.68" cy="856.38" r="1.0" fill="#000"/>
<circle cx="285.66" cy="849.15" r="1.0" fill="#000"/>
<circle cx="300.30" cy="844.30" r="1.0" fill="#000"/>
<polyline points="208.80,864.00 230.76,860.34 245.40,857.29 260.04,854.85 274.68,856.99 285.66,850.27 300.30,845.70" fill="none" stroke="#FF0000" stroke-width="0.5" stroke-linejoin="round"/>
<circle cx="230.76" cy="860.34" r="1.0" fill="#000"/>
<circle cx="245.40" cy="857.29" r="1.0" fill="#000"/>
<circle cx="260.04" cy="854.85" r="1.0" fill="#000"/>
<circle cx="274.68" cy="856.99" r="1.0" fill="#000"/>
<circle cx="285.66" cy="850.27" r="1.0" fill="#000"/>
<circle cx="300.30" cy="845.70" r="1.0" fill="#000"/>
<polyline points="208.80,864.00 230.76,860.64 245.40,857.90 260.04,856.38 274.68,857.60 285.66,851.80 300.30,846.92" fill="none" stroke="#FF0000" stroke-width="0.5" stroke-linejoin="round"/>
<circle cx="230.76" cy="860.64" r="1.0" fill="#000"/>
<circle cx="245.40" cy="857.90" r="1.0" fill="#000"/>
<circle cx="260.04" cy="856.38" r="1.0" fill="#000"/>
<circle cx="274.68" cy="857.60" r="1.0" fill="#000"/>
<circle cx="285.66" cy="851.80" r="1.0" fill="#000"/>
<circle cx="300.30" cy="846.92" r="1.0" fill="#000"/>
<polyline points="208.80,864.00 230.76,860.95 245.40,858.51 260.04,857.90 274.68,858.21 285.66,853.33 300.30,848.14" fill="none" stroke="#FF0000" stroke-width="0.5" stroke-linejoin="round"/>
<circle cx="230.76" cy="860.95" r="1.0" fill="#000"/>
<circle cx="245.40" cy="858.51" r="1.0" fill="#000"/>
<circle cx="260.04" cy="857.90" r="1.0" fill="#000"/>
<circle cx="274.68" cy="858.21" r="1.0" fill="#000"/>
<circle cx="285.66" cy="853.33" r="1.0" fill="#000"/>
<circle cx="300.30" cy="848.14" r="1.0" fill="#000"/>
<polyline points="208.80,864.00 230.76,861.10 245.40,859.12 260.04,858.82 274.68,858.82 285.66,854.85 300.30,849.36" fill="none" stroke="#FF0000" stroke-width="0.5" stroke-linejoin="round"/>
<circle cx="230.76" cy="861.10" r="1.0" fill="#000"/>
<circle cx="245.40" cy="859.12" r="1.0" fill="#000"/>
<circle cx="260.04" cy="858.82" r="1.0" fill="#000"/>
<circle cx="274.68" cy="858.82" r="1.0" fill="#000"/>
<circle cx="285.66" cy="854.85" r="1.0" fill="#000"/>
<circle cx="300.30" cy="849.36" r="1.0" fill="#000"/>
<polyline points="208.80,864.00 230.76,861.25 245.40,859.73 260.04,859.42 274.68,859.12 285.66,856.38 300.30,851.19" fill="none" stroke="#FF0000" stroke-width="0.5" stroke-linejoin="round"/>
<circle cx="230.76" cy="861.25" r="1.0" fill="#000"/>
<circle cx="245.40" cy="859.73" r="1.0" fill="#000"/>
<circle cx="260.04" cy="859.42" r="1.0" fill="#000"/>
<circle cx="274.68" cy="859.12" r="1.0" fill="#000"/>
<circle cx="285.66" cy="856.38" r="1.0" fill="#000"/>
<circle cx="300.30" cy="851.19" r="1.0" fill="#000"/>
<polyline points="208.80,864.00 230.76,861.41 245.40,860.34 260.04,860.03 274.68,859.42 285.66,857.90 300.30,853.33" fill="none" stroke="#FF0000" stroke-width="0.5" stroke-linejoin="round"/>
<circle cx="230.76" cy="861.41" r="1.0" fill="#000"/>
<circle cx="245.40" cy="860.34" r="1.0" fill="#000"/>
<circle cx="260.04" cy="860.03" r="1.0" fill="#000"/>
<circle cx="274.68" cy="859.42" r="1.0" fill="#000"/>
<circle cx="285.66" cy="857.90" r="1.0" fill="#000"/>
<circle cx="300.30" cy="853.33" r="1.0" fill="#000"/>
<polyline points="208.80,864.00 230.76,861.65 245.40,860.95 260.04,860.25 274.68,859.55 285.66,858.88 300.30,856.77" fill="none" stroke="#FF0000" stroke-width="0.5" stroke-linejoin="round"/>
<circle cx="230.76" cy="861.65" r="1.0" fill="#000"/>
<circle cx="245.40" cy="860.95" r="1.0" fill="#000"/>
<circle cx="260.04" cy="860.25" r="1.0" fill="#000"/>
<circle cx="274.68" cy="859.55" r="1.0" fill="#000"/>
<circle cx="285.66" cy="858.88" r="1.0" fill="#000"/>
<circle cx="300.30" cy="856.77" r="1.0" fill="#000"/>
<line x1="208.80" y1="803.00" x2="208.80" y2="864.50" stroke="#1a1a1a" stroke-width="1"/>
<line x1="208.30" y1="864.00" x2="300.30" y2="864.00" stroke="#1a1a1a" stroke-width="1"/>
<line x1="206.20" y1="864.00" x2="208.80" y2="864.00" stroke="#1a1a1a" stroke-width="1"/>
<text x="205.20" y="866.27" font-size="6.3" text-anchor="end" font-weight="bold" fill="#000" textLength="3.92" lengthAdjust="spacingAndGlyphs" >0</text>
<line x1="206.20" y1="848.75" x2="208.80" y2="848.75" stroke="#1a1a1a" stroke-width="1"/>
<text x="205.20" y="851.02" font-size="6.3" text-anchor="end" font-weight="bold" fill="#000" textLength="11.77" lengthAdjust="spacingAndGlyphs" >500</text>
<line x1="206.20" y1="833.50" x2="208.80" y2="833.50" stroke="#1a1a1a" stroke-width="1"/>
<text x="205.20" y="835.77" font-size="6.3" text-anchor="end" font-weight="bold" fill="#000" textLength="15.7" lengthAdjust="spacingAndGlyphs" >1000</text>
<line x1="206.20" y1="818.25" x2="208.80" y2="818.25" stroke="#1a1a1a" stroke-width="1"/>
<text x="205.20" y="820.52" font-size="6.3" text-anchor="end" font-weight="bold" fill="#000" textLength="15.7" lengthAdjust="spacingAndGlyphs" >1500</text>
<line x1="206.20" y1="803.00" x2="208.80" y2="803.00" stroke="#1a1a1a" stroke-width="1"/>
<text x="205.20" y="805.27" font-size="6.3" text-anchor="end" font-weight="bold" fill="#000" textLength="15.7" lengthAdjust="spacingAndGlyphs" >2000</text>
<line x1="208.80" y1="864.00" x2="208.80" y2="866.60" stroke="#1a1a1a" stroke-width="1"/>
<text x="208.80" y="873.20" font-size="6.3" text-anchor="middle" font-weight="bold" fill="#000" textLength="3.92" lengthAdjust="spacingAndGlyphs" >0</text>
<line x1="227.10" y1="864.00" x2="227.10" y2="866.60" stroke="#1a1a1a" stroke-width="1"/>
<text x="227.10" y="873.20" font-size="6.3" text-anchor="middle" font-weight="bold" fill="#000" textLength="3.92" lengthAdjust="spacingAndGlyphs" >5</text>
<line x1="245.40" y1="864.00" x2="245.40" y2="866.60" stroke="#1a1a1a" stroke-width="1"/>
<text x="245.40" y="873.20" font-size="6.3" text-anchor="middle" font-weight="bold" fill="#000" textLength="7.85" lengthAdjust="spacingAndGlyphs" >10</text>
<line x1="263.70" y1="864.00" x2="263.70" y2="866.60" stroke="#1a1a1a" stroke-width="1"/>
<text x="263.70" y="873.20" font-size="6.3" text-anchor="middle" font-weight="bold" fill="#000" textLength="7.85" lengthAdjust="spacingAndGlyphs" >15</text>
<line x1="282.00" y1="864.00" x2="282.00" y2="866.60" stroke="#1a1a1a" stroke-width="1"/>
<text x="282.00" y="873.20" font-size="6.3" text-anchor="middle" font-weight="bold" fill="#000" textLength="7.85" lengthAdjust="spacingAndGlyphs" >20</text>
<line x1="300.30" y1="864.00" x2="300.30" y2="866.60" stroke="#1a1a1a" stroke-width="1"/>
<text x="300.30" y="873.20" font-size="6.3" text-anchor="middle" font-weight="bold" fill="#000" textLength="7.85" lengthAdjust="spacingAndGlyphs" >25</text>
<text x="255.00" y="793.00" font-size="6" text-anchor="middle" font-weight="bold" fill="#000" >Moc2 EphrinB2 KO+EFNB2<tspan font-size="60%" dy="-2.5">fl/fl</tspan><tspan dy="2.5">Tie2-Cre-ERT</tspan></text>
<text x="254.90" y="881.80" font-size="7.8" text-anchor="middle" font-weight="bold" fill="#000" textLength="81.5" lengthAdjust="spacingAndGlyphs" >Days post implantation</text>
<text x="185.50" y="832.80" font-size="8.4" text-anchor="middle" font-weight="bold" fill="#000" textLength="73.6" lengthAdjust="spacingAndGlyphs" transform="rotate(-90 185.50 832.80)" >Tumor volume (mm<tspan font-size="65%" dy="-3">3</tspan><tspan dy="3">)</tspan></text>
<line x1="386.80" y1="793.20" x2="386.80" y2="872.70" stroke="#555" stroke-width="0.9"/>
<line x1="386.30" y1="872.20" x2="505.10" y2="872.20" stroke="#1a1a1a" stroke-width="1"/>
<line x1="384.20" y1="872.20" x2="386.80" y2="872.20" stroke="#555" stroke-width="0.9"/>
<text x="383.60" y="874.90" font-size="7.5" text-anchor="end" font-weight="bold" fill="#000" textLength="4.71" lengthAdjust="spacingAndGlyphs" >0</text>
<line x1="384.20" y1="852.45" x2="386.80" y2="852.45" stroke="#555" stroke-width="0.9"/>
<text x="383.60" y="855.15" font-size="7.5" text-anchor="end" font-weight="bold" fill="#000" textLength="14.14" lengthAdjust="spacingAndGlyphs" >500</text>
<line x1="384.20" y1="832.70" x2="386.80" y2="832.70" stroke="#555" stroke-width="0.9"/>
<text x="383.60" y="835.40" font-size="7.5" text-anchor="end" font-weight="bold" fill="#000" textLength="18.85" lengthAdjust="spacingAndGlyphs" >1000</text>
<line x1="384.20" y1="812.95" x2="386.80" y2="812.95" stroke="#555" stroke-width="0.9"/>
<text x="383.60" y="815.65" font-size="7.5" text-anchor="end" font-weight="bold" fill="#000" textLength="18.85" lengthAdjust="spacingAndGlyphs" >1500</text>
<line x1="384.20" y1="793.20" x2="386.80" y2="793.20" stroke="#555" stroke-width="0.9"/>
<text x="383.60" y="795.90" font-size="7.5" text-anchor="end" font-weight="bold" fill="#000" textLength="18.85" lengthAdjust="spacingAndGlyphs" >2000</text>
<line x1="416.60" y1="872.20" x2="416.60" y2="874.40" stroke="#555" stroke-width="0.8"/>
<line x1="475.60" y1="872.20" x2="475.60" y2="874.40" stroke="#555" stroke-width="0.8"/>
<rect x="397.40" y="822.39" width="38.30" height="49.81" fill="#0000FF" stroke="#000" stroke-width="1"/>
<line x1="416.55" y1="818.40" x2="416.55" y2="826.62" stroke="#000" stroke-width="0.8"/>
<line x1="406.55" y1="818.40" x2="426.55" y2="818.40" stroke="#000" stroke-width="0.8"/>
<line x1="406.55" y1="826.62" x2="426.55" y2="826.62" stroke="#000" stroke-width="0.8"/>
<circle cx="413.25" cy="810.54" r="1.4" fill="#000"/>
<circle cx="419.65" cy="808.41" r="1.4" fill="#000"/>
<circle cx="416.55" cy="821.48" r="1.4" fill="#000"/>
<circle cx="410.05" cy="823.89" r="1.4" fill="#000"/>
<circle cx="423.05" cy="824.21" r="1.4" fill="#000"/>
<circle cx="416.55" cy="831.20" r="1.4" fill="#000"/>
<circle cx="416.55" cy="836.10" r="1.4" fill="#000"/>
<rect x="456.50" y="854.31" width="38.00" height="17.89" fill="#FF0000" stroke="#000" stroke-width="1"/>
<line x1="475.50" y1="851.58" x2="475.50" y2="856.20" stroke="#000" stroke-width="0.8"/>
<line x1="465.50" y1="851.58" x2="485.50" y2="851.58" stroke="#000" stroke-width="0.8"/>
<line x1="465.50" y1="856.20" x2="485.50" y2="856.20" stroke="#000" stroke-width="0.8"/>
<rect x="470.85" y="848.45" width="2.70" height="2.70" fill="#000"/>
<rect x="477.25" y="846.64" width="2.70" height="2.70" fill="#000"/>
<rect x="477.25" y="850.86" width="2.70" height="2.70" fill="#000"/>
<rect x="470.85" y="852.96" width="2.70" height="2.70" fill="#000"/>
<rect x="477.25" y="856.24" width="2.70" height="2.70" fill="#000"/>
<rect x="474.15" y="862.16" width="2.70" height="2.70" fill="#000"/>
<line x1="415.70" y1="799.10" x2="473.50" y2="799.10" stroke="#000" stroke-width="1"/>
<line x1="415.70" y1="796.65" x2="415.70" y2="801.55" stroke="#000" stroke-width="1"/>
<line x1="473.50" y1="796.65" x2="473.50" y2="801.55" stroke="#000" stroke-width="1"/>
<text x="446.10" y="800.00" font-size="6.5" text-anchor="middle" font-weight="bold" fill="#000" >****</text>
<text x="357.60" y="830.50" font-size="10" text-anchor="middle" font-weight="bold" fill="#000" textLength="94.2" lengthAdjust="spacingAndGlyphs" transform="rotate(-90 357.60 830.50)" >Tumor volume (mm<tspan font-size="65%" dy="-3">3</tspan><tspan dy="3">)</tspan></text>
<line x1="448.10" y1="293.20" x2="448.10" y2="362.00" stroke="#777" stroke-width="1.2"/>
<line x1="447.50" y1="361.50" x2="550.30" y2="361.50" stroke="#555" stroke-width="1.1"/>
<line x1="445.50" y1="361.50" x2="448.10" y2="361.50" stroke="#777" stroke-width="1"/>
<text x="444.70" y="363.80" font-size="6.4" text-anchor="end" font-weight="bold" fill="#000" textLength="4.63" lengthAdjust="spacingAndGlyphs" >0</text>
<line x1="445.50" y1="347.84" x2="448.10" y2="347.84" stroke="#777" stroke-width="1"/>
<text x="444.70" y="350.14" font-size="6.4" text-anchor="end" font-weight="bold" fill="#000" textLength="9.25" lengthAdjust="spacingAndGlyphs" >20</text>
<line x1="445.50" y1="334.18" x2="448.10" y2="334.18" stroke="#777" stroke-width="1"/>
<text x="444.70" y="336.48" font-size="6.4" text-anchor="end" font-weight="bold" fill="#000" textLength="9.25" lengthAdjust="spacingAndGlyphs" >40</text>
<line x1="445.50" y1="320.52" x2="448.10" y2="320.52" stroke="#777" stroke-width="1"/>
<text x="444.70" y="322.82" font-size="6.4" text-anchor="end" font-weight="bold" fill="#000" textLength="9.25" lengthAdjust="spacingAndGlyphs" >60</text>
<line x1="445.50" y1="306.86" x2="448.10" y2="306.86" stroke="#777" stroke-width="1"/>
<text x="444.70" y="309.16" font-size="6.4" text-anchor="end" font-weight="bold" fill="#000" textLength="9.25" lengthAdjust="spacingAndGlyphs" >80</text>
<line x1="445.50" y1="293.20" x2="448.10" y2="293.20" stroke="#777" stroke-width="1"/>
<text x="444.70" y="295.50" font-size="6.4" text-anchor="end" font-weight="bold" fill="#000" textLength="13.88" lengthAdjust="spacingAndGlyphs" >100</text>
<line x1="448.10" y1="361.50" x2="448.10" y2="364.70" stroke="#555" stroke-width="1"/>
<text x="449.30" y="370.10" font-size="7" text-anchor="end" font-weight="bold" fill="#000" textLength="4.09" lengthAdjust="spacingAndGlyphs" transform="rotate(-45 449.30 370.10)" >0</text>
<line x1="458.32" y1="361.50" x2="458.32" y2="364.70" stroke="#555" stroke-width="1"/>
<text x="459.52" y="370.10" font-size="7" text-anchor="end" font-weight="bold" fill="#000" textLength="8.17" lengthAdjust="spacingAndGlyphs" transform="rotate(-45 459.52 370.10)" >10</text>
<line x1="468.54" y1="361.50" x2="468.54" y2="364.70" stroke="#555" stroke-width="1"/>
<text x="469.74" y="370.10" font-size="7" text-anchor="end" font-weight="bold" fill="#000" textLength="8.17" lengthAdjust="spacingAndGlyphs" transform="rotate(-45 469.74 370.10)" >20</text>
<line x1="478.76" y1="361.50" x2="478.76" y2="364.70" stroke="#555" stroke-width="1"/>
<text x="479.96" y="370.10" font-size="7" text-anchor="end" font-weight="bold" fill="#000" textLength="8.17" lengthAdjust="spacingAndGlyphs" transform="rotate(-45 479.96 370.10)" >30</text>
<line x1="488.98" y1="361.50" x2="488.98" y2="364.70" stroke="#555" stroke-width="1"/>
<text x="490.18" y="370.10" font-size="7" text-anchor="end" font-weight="bold" fill="#000" textLength="8.17" lengthAdjust="spacingAndGlyphs" transform="rotate(-45 490.18 370.10)" >40</text>
<line x1="499.20" y1="361.50" x2="499.20" y2="364.70" stroke="#555" stroke-width="1"/>
<text x="500.40" y="370.10" font-size="7" text-anchor="end" font-weight="bold" fill="#000" textLength="8.17" lengthAdjust="spacingAndGlyphs" transform="rotate(-45 500.40 370.10)" >50</text>
<line x1="509.42" y1="361.50" x2="509.42" y2="364.70" stroke="#555" stroke-width="1"/>
<text x="510.62" y="370.10" font-size="7" text-anchor="end" font-weight="bold" fill="#000" textLength="8.17" lengthAdjust="spacingAndGlyphs" transform="rotate(-45 510.62 370.10)" >60</text>
<line x1="519.64" y1="361.50" x2="519.64" y2="364.70" stroke="#555" stroke-width="1"/>
<text x="520.84" y="370.10" font-size="7" text-anchor="end" font-weight="bold" fill="#000" textLength="8.17" lengthAdjust="spacingAndGlyphs" transform="rotate(-45 520.84 370.10)" >70</text>
<line x1="529.86" y1="361.50" x2="529.86" y2="364.70" stroke="#555" stroke-width="1"/>
<text x="531.06" y="370.10" font-size="7" text-anchor="end" font-weight="bold" fill="#000" textLength="8.17" lengthAdjust="spacingAndGlyphs" transform="rotate(-45 531.06 370.10)" >80</text>
<line x1="540.08" y1="361.50" x2="540.08" y2="364.70" stroke="#555" stroke-width="1"/>
<text x="541.28" y="370.10" font-size="7" text-anchor="end" font-weight="bold" fill="#000" textLength="8.17" lengthAdjust="spacingAndGlyphs" transform="rotate(-45 541.28 370.10)" >90</text>
<line x1="550.30" y1="361.50" x2="550.30" y2="364.70" stroke="#555" stroke-width="1"/>
<text x="551.50" y="370.10" font-size="7" text-anchor="end" font-weight="bold" fill="#000" textLength="12.26" lengthAdjust="spacingAndGlyphs" transform="rotate(-45 551.50 370.10)" >100</text>
<polyline points="448.10,360.48 456.28,359.79 464.45,359.11 472.63,358.08 480.80,356.72 488.98,353.30 497.16,347.84 505.33,339.64 513.51,326.67 521.68,311.64 529.86,298.66 538.04,294.57 546.21,293.20" fill="none" stroke="#FF0A80" stroke-width="0.6"/>
<polygon points="448.10,362.16 446.56,359.36 449.64,359.36" fill="#FF0A80"/>
<polygon points="456.28,361.47 454.74,358.67 457.82,358.67" fill="#FF0A80"/>
<polygon points="464.45,360.79 462.91,357.99 465.99,357.99" fill="#FF0A80"/>
<polygon points="472.63,359.76 471.09,356.96 474.17,356.96" fill="#FF0A80"/>
<polygon points="480.80,358.40 479.26,355.60 482.34,355.60" fill="#FF0A80"/>
<line x1="488.98" y1="351.94" x2="488.98" y2="354.67" stroke="#FF0A80" stroke-width="0.7"/>
<line x1="487.48" y1="351.94" x2="490.48" y2="351.94" stroke="#FF0A80" stroke-width="0.7"/>
<line x1="487.48" y1="354.67" x2="490.48" y2="354.67" stroke="#FF0A80" stroke-width="0.7"/>
<polygon points="488.98,354.98 487.44,352.18 490.52,352.18" fill="#FF0A80"/>
<line x1="497.16" y1="343.74" x2="497.16" y2="351.94" stroke="#FF0A80" stroke-width="0.7"/>
<line x1="495.66" y1="343.74" x2="498.66" y2="343.74" stroke="#FF0A80" stroke-width="0.7"/>
<line x1="495.66" y1="351.94" x2="498.66" y2="351.94" stroke="#FF0A80" stroke-width="0.7"/>
<polygon points="497.16,349.52 495.62,346.72 498.70,346.72" fill="#FF0A80"/>
<line x1="505.33" y1="332.13" x2="505.33" y2="347.16" stroke="#FF0A80" stroke-width="0.7"/>
<line x1="503.83" y1="332.13" x2="506.83" y2="332.13" stroke="#FF0A80" stroke-width="0.7"/>
<line x1="503.83" y1="347.16" x2="506.83" y2="347.16" stroke="#FF0A80" stroke-width="0.7"/>
<polygon points="505.33,341.32 503.79,338.52 506.87,338.52" fill="#FF0A80"/>
<line x1="513.51" y1="315.74" x2="513.51" y2="337.59" stroke="#FF0A80" stroke-width="0.7"/>
<line x1="512.01" y1="315.74" x2="515.01" y2="315.74" stroke="#FF0A80" stroke-width="0.7"/>
<line x1="512.01" y1="337.59" x2="515.01" y2="337.59" stroke="#FF0A80" stroke-width="0.7"/>
<polygon points="513.51,328.35 511.97,325.55 515.05,325.55" fill="#FF0A80"/>
<line x1="521.68" y1="300.71" x2="521.68" y2="322.57" stroke="#FF0A80" stroke-width="0.7"/>
<line x1="520.18" y1="300.71" x2="523.18" y2="300.71" stroke="#FF0A80" stroke-width="0.7"/>
<line x1="520.18" y1="322.57" x2="523.18" y2="322.57" stroke="#FF0A80" stroke-width="0.7"/>
<polygon points="521.68,313.32 520.14,310.52 523.22,310.52" fill="#FF0A80"/>
<line x1="529.86" y1="295.93" x2="529.86" y2="301.40" stroke="#FF0A80" stroke-width="0.7"/>
<line x1="528.36" y1="295.93" x2="531.36" y2="295.93" stroke="#FF0A80" stroke-width="0.7"/>
<line x1="528.36" y1="301.40" x2="531.36" y2="301.40" stroke="#FF0A80" stroke-width="0.7"/>
<polygon points="529.86,300.34 528.32,297.54 531.40,297.54" fill="#FF0A80"/>
<line x1="538.04" y1="293.88" x2="538.04" y2="295.25" stroke="#FF0A80" stroke-width="0.7"/>
<line x1="536.54" y1="293.88" x2="539.54" y2="293.88" stroke="#FF0A80" stroke-width="0.7"/>
<line x1="536.54" y1="295.25" x2="539.54" y2="295.25" stroke="#FF0A80" stroke-width="0.7"/>
<polygon points="538.04,296.25 536.50,293.45 539.58,293.45" fill="#FF0A80"/>
<polygon points="546.21,294.88 544.67,292.08 547.75,292.08" fill="#FF0A80"/>
<polyline points="448.10,360.82 456.28,360.13 464.45,359.45 472.63,358.43 480.80,357.40 488.98,355.69 497.16,353.30 505.33,350.57 513.51,346.47 521.68,341.01 529.86,332.81 538.04,322.57 546.21,310.96" fill="none" stroke="#0F730F" stroke-width="0.6"/>
<rect x="446.70" y="359.42" width="2.80" height="2.80" fill="#0F730F"/>
<rect x="454.88" y="358.73" width="2.80" height="2.80" fill="#0F730F"/>
<rect x="463.05" y="358.05" width="2.80" height="2.80" fill="#0F730F"/>
<rect x="471.23" y="357.03" width="2.80" height="2.80" fill="#0F730F"/>
<rect x="479.40" y="356.00" width="2.80" height="2.80" fill="#0F730F"/>
<line x1="488.98" y1="355.01" x2="488.98" y2="356.38" stroke="#0F730F" stroke-width="0.7"/>
<line x1="487.48" y1="355.01" x2="490.48" y2="355.01" stroke="#0F730F" stroke-width="0.7"/>
<line x1="487.48" y1="356.38" x2="490.48" y2="356.38" stroke="#0F730F" stroke-width="0.7"/>
<rect x="487.58" y="354.29" width="2.80" height="2.80" fill="#0F730F"/>
<line x1="497.16" y1="352.28" x2="497.16" y2="354.33" stroke="#0F730F" stroke-width="0.7"/>
<line x1="495.66" y1="352.28" x2="498.66" y2="352.28" stroke="#0F730F" stroke-width="0.7"/>
<line x1="495.66" y1="354.33" x2="498.66" y2="354.33" stroke="#0F730F" stroke-width="0.7"/>
<rect x="495.76" y="351.90" width="2.80" height="2.80" fill="#0F730F"/>
<line x1="505.33" y1="349.21" x2="505.33" y2="351.94" stroke="#0F730F" stroke-width="0.7"/>
<line x1="503.83" y1="349.21" x2="506.83" y2="349.21" stroke="#0F730F" stroke-width="0.7"/>
<line x1="503.83" y1="351.94" x2="506.83" y2="351.94" stroke="#0F730F" stroke-width="0.7"/>
<rect x="503.93" y="349.17" width="2.80" height="2.80" fill="#0F730F"/>
<line x1="513.51" y1="344.43" x2="513.51" y2="348.52" stroke="#0F730F" stroke-width="0.7"/>
<line x1="512.01" y1="344.43" x2="515.01" y2="344.43" stroke="#0F730F" stroke-width="0.7"/>
<line x1="512.01" y1="348.52" x2="515.01" y2="348.52" stroke="#0F730F" stroke-width="0.7"/>
<rect x="512.11" y="345.07" width="2.80" height="2.80" fill="#0F730F"/>
<line x1="521.68" y1="338.28" x2="521.68" y2="343.74" stroke="#0F730F" stroke-width="0.7"/>
<line x1="520.18" y1="338.28" x2="523.18" y2="338.28" stroke="#0F730F" stroke-width="0.7"/>
<line x1="520.18" y1="343.74" x2="523.18" y2="343.74" stroke="#0F730F" stroke-width="0.7"/>
<rect x="520.28" y="339.61" width="2.80" height="2.80" fill="#0F730F"/>
<line x1="529.86" y1="329.40" x2="529.86" y2="336.23" stroke="#0F730F" stroke-width="0.7"/>
<line x1="528.36" y1="329.40" x2="531.36" y2="329.40" stroke="#0F730F" stroke-width="0.7"/>
<line x1="528.36" y1="336.23" x2="531.36" y2="336.23" stroke="#0F730F" stroke-width="0.7"/>
<rect x="528.46" y="331.41" width="2.80" height="2.80" fill="#0F730F"/>
<line x1="538.04" y1="317.79" x2="538.04" y2="327.35" stroke="#0F730F" stroke-width="0.7"/>
<line x1="536.54" y1="317.79" x2="539.54" y2="317.79" stroke="#0F730F" stroke-width="0.7"/>
<line x1="536.54" y1="327.35" x2="539.54" y2="327.35" stroke="#0F730F" stroke-width="0.7"/>
<rect x="536.64" y="321.17" width="2.80" height="2.80" fill="#0F730F"/>
<line x1="546.21" y1="304.81" x2="546.21" y2="317.11" stroke="#0F730F" stroke-width="0.7"/>
<line x1="544.71" y1="304.81" x2="547.71" y2="304.81" stroke="#0F730F" stroke-width="0.7"/>
<line x1="544.71" y1="317.11" x2="547.71" y2="317.11" stroke="#0F730F" stroke-width="0.7"/>
<rect x="544.81" y="309.56" width="2.80" height="2.80" fill="#0F730F"/>
<polyline points="448.10,360.48 456.28,359.79 464.45,358.77 472.63,357.74 480.80,356.38 488.98,353.99 497.16,351.25 505.33,347.16 513.51,343.06 521.68,336.91 529.86,328.03 538.04,317.79 546.21,305.49" fill="none" stroke="#0000FF" stroke-width="0.6"/>
<circle cx="448.10" cy="360.48" r="1.5" fill="#0000FF"/>
<circle cx="456.28" cy="359.79" r="1.5" fill="#0000FF"/>
<circle cx="464.45" cy="358.77" r="1.5" fill="#0000FF"/>
<circle cx="472.63" cy="357.74" r="1.5" fill="#0000FF"/>
<circle cx="480.80" cy="356.38" r="1.5" fill="#0000FF"/>
<line x1="488.98" y1="353.30" x2="488.98" y2="354.67" stroke="#0000FF" stroke-width="0.7"/>
<line x1="487.48" y1="353.30" x2="490.48" y2="353.30" stroke="#0000FF" stroke-width="0.7"/>
<line x1="487.48" y1="354.67" x2="490.48" y2="354.67" stroke="#0000FF" stroke-width="0.7"/>
<circle cx="488.98" cy="353.99" r="1.5" fill="#0000FF"/>
<line x1="497.16" y1="350.23" x2="497.16" y2="352.28" stroke="#0000FF" stroke-width="0.7"/>
<line x1="495.66" y1="350.23" x2="498.66" y2="350.23" stroke="#0000FF" stroke-width="0.7"/>
<line x1="495.66" y1="352.28" x2="498.66" y2="352.28" stroke="#0000FF" stroke-width="0.7"/>
<circle cx="497.16" cy="351.25" r="1.5" fill="#0000FF"/>
<line x1="505.33" y1="345.79" x2="505.33" y2="348.52" stroke="#0000FF" stroke-width="0.7"/>
<line x1="503.83" y1="345.79" x2="506.83" y2="345.79" stroke="#0000FF" stroke-width="0.7"/>
<line x1="503.83" y1="348.52" x2="506.83" y2="348.52" stroke="#0000FF" stroke-width="0.7"/>
<circle cx="505.33" cy="347.16" r="1.5" fill="#0000FF"/>
<line x1="513.51" y1="341.01" x2="513.51" y2="345.11" stroke="#0000FF" stroke-width="0.7"/>
<line x1="512.01" y1="341.01" x2="515.01" y2="341.01" stroke="#0000FF" stroke-width="0.7"/>
<line x1="512.01" y1="345.11" x2="515.01" y2="345.11" stroke="#0000FF" stroke-width="0.7"/>
<circle cx="513.51" cy="343.06" r="1.5" fill="#0000FF"/>
<line x1="521.68" y1="334.18" x2="521.68" y2="339.64" stroke="#0000FF" stroke-width="0.7"/>
<line x1="520.18" y1="334.18" x2="523.18" y2="334.18" stroke="#0000FF" stroke-width="0.7"/>
<line x1="520.18" y1="339.64" x2="523.18" y2="339.64" stroke="#0000FF" stroke-width="0.7"/>
<circle cx="521.68" cy="336.91" r="1.5" fill="#0000FF"/>
<line x1="529.86" y1="325.30" x2="529.86" y2="330.76" stroke="#0000FF" stroke-width="0.7"/>
<line x1="528.36" y1="325.30" x2="531.36" y2="325.30" stroke="#0000FF" stroke-width="0.7"/>
<line x1="528.36" y1="330.76" x2="531.36" y2="330.76" stroke="#0000FF" stroke-width="0.7"/>
<circle cx="529.86" cy="328.03" r="1.5" fill="#0000FF"/>
<line x1="538.04" y1="314.71" x2="538.04" y2="320.86" stroke="#0000FF" stroke-width="0.7"/>
<line x1="536.54" y1="314.71" x2="539.54" y2="314.71" stroke="#0000FF" stroke-width="0.7"/>
<line x1="536.54" y1="320.86" x2="539.54" y2="320.86" stroke="#0000FF" stroke-width="0.7"/>
<circle cx="538.04" cy="317.79" r="1.5" fill="#0000FF"/>
<line x1="546.21" y1="302.08" x2="546.21" y2="308.91" stroke="#0000FF" stroke-width="0.7"/>
<line x1="544.71" y1="302.08" x2="547.71" y2="302.08" stroke="#0000FF" stroke-width="0.7"/>
<line x1="544.71" y1="308.91" x2="547.71" y2="308.91" stroke="#0000FF" stroke-width="0.7"/>
<circle cx="546.21" cy="305.49" r="1.5" fill="#0000FF"/>
<text x="499.00" y="385.20" font-size="8.8" text-anchor="middle" font-weight="bold" fill="#000" textLength="74" lengthAdjust="spacingAndGlyphs" >Hours post-plating</text>
<text x="429.90" y="326.40" font-size="8.2" text-anchor="middle" font-weight="bold" fill="#000" textLength="55.5" lengthAdjust="spacingAndGlyphs" transform="rotate(-90 429.90 326.40)" >% Confluence</text>
<line x1="605.00" y1="288.10" x2="605.00" y2="365.40" stroke="#1a1a1a" stroke-width="1"/>
<line x1="604.50" y1="364.90" x2="656.60" y2="364.90" stroke="#1a1a1a" stroke-width="1"/>
<line x1="602.40" y1="364.90" x2="605.00" y2="364.90" stroke="#1a1a1a" stroke-width="1"/>
<text x="601.80" y="367.20" font-size="6.4" text-anchor="end" font-weight="bold" fill="#000" textLength="4.63" lengthAdjust="spacingAndGlyphs" >0</text>
<line x1="602.40" y1="349.54" x2="605.00" y2="349.54" stroke="#1a1a1a" stroke-width="1"/>
<text x="601.80" y="351.84" font-size="6.4" text-anchor="end" font-weight="bold" fill="#000" textLength="9.25" lengthAdjust="spacingAndGlyphs" >20</text>
<line x1="602.40" y1="334.18" x2="605.00" y2="334.18" stroke="#1a1a1a" stroke-width="1"/>
<text x="601.80" y="336.48" font-size="6.4" text-anchor="end" font-weight="bold" fill="#000" textLength="9.25" lengthAdjust="spacingAndGlyphs" >40</text>
<line x1="602.40" y1="318.82" x2="605.00" y2="318.82" stroke="#1a1a1a" stroke-width="1"/>
<text x="601.80" y="321.12" font-size="6.4" text-anchor="end" font-weight="bold" fill="#000" textLength="9.25" lengthAdjust="spacingAndGlyphs" >60</text>
<line x1="602.40" y1="303.46" x2="605.00" y2="303.46" stroke="#1a1a1a" stroke-width="1"/>
<text x="601.80" y="305.76" font-size="6.4" text-anchor="end" font-weight="bold" fill="#000" textLength="9.25" lengthAdjust="spacingAndGlyphs" >80</text>
<line x1="602.40" y1="288.10" x2="605.00" y2="288.10" stroke="#1a1a1a" stroke-width="1"/>
<text x="601.80" y="290.40" font-size="6.4" text-anchor="end" font-weight="bold" fill="#000" textLength="13.88" lengthAdjust="spacingAndGlyphs" >100</text>
<line x1="615.30" y1="364.90" x2="615.30" y2="367.30" stroke="#1a1a1a" stroke-width="1"/>
<line x1="630.80" y1="364.90" x2="630.80" y2="367.30" stroke="#1a1a1a" stroke-width="1"/>
<line x1="646.40" y1="364.90" x2="646.40" y2="367.30" stroke="#1a1a1a" stroke-width="1"/>
<rect x="610.80" y="314.52" width="9.20" height="50.38" fill="#0000FF" stroke="#000" stroke-width="1"/>
<line x1="615.40" y1="310.99" x2="615.40" y2="319.05" stroke="#000" stroke-width="0.8"/>
<line x1="613.20" y1="310.99" x2="617.60" y2="310.99" stroke="#000" stroke-width="0.8"/>
<line x1="613.20" y1="319.05" x2="617.60" y2="319.05" stroke="#000" stroke-width="0.8"/>
<circle cx="615.40" cy="309.22" r="1.1" fill="#000"/>
<circle cx="613.20" cy="315.75" r="1.1" fill="#000"/>
<circle cx="617.60" cy="316.52" r="1.1" fill="#000"/>
<circle cx="615.40" cy="318.82" r="1.1" fill="#000"/>
<circle cx="615.40" cy="321.35" r="1.1" fill="#000"/>
<rect x="626.30" y="288.56" width="9.20" height="76.34" fill="#FF0A80" stroke="#000" stroke-width="1"/>
<line x1="630.90" y1="288.10" x2="630.90" y2="290.40" stroke="#000" stroke-width="0.8"/>
<line x1="628.90" y1="288.10" x2="632.90" y2="288.10" stroke="#000" stroke-width="0.8"/>
<line x1="628.90" y1="290.40" x2="632.90" y2="290.40" stroke="#000" stroke-width="0.8"/>
<circle cx="628.40" cy="288.87" r="1.1" fill="#000"/>
<circle cx="630.90" cy="289.25" r="1.1" fill="#000"/>
<circle cx="633.40" cy="288.87" r="1.1" fill="#000"/>
<circle cx="630.90" cy="292.71" r="1.1" fill="#000"/>
<rect x="641.90" y="321.12" width="9.10" height="43.78" fill="#0F730F" stroke="#000" stroke-width="1"/>
<line x1="646.45" y1="314.83" x2="646.45" y2="327.50" stroke="#000" stroke-width="0.8"/>
<line x1="644.15" y1="314.83" x2="648.75" y2="314.83" stroke="#000" stroke-width="0.8"/>
<line x1="644.15" y1="327.50" x2="648.75" y2="327.50" stroke="#000" stroke-width="0.8"/>
<circle cx="643.95" cy="314.06" r="1.1" fill="#000"/>
<circle cx="648.65" cy="312.98" r="1.1" fill="#000"/>
<circle cx="646.45" cy="320.74" r="1.1" fill="#000"/>
<circle cx="646.45" cy="324.12" r="1.1" fill="#000"/>
<circle cx="643.95" cy="327.96" r="1.1" fill="#000"/>
<circle cx="648.65" cy="326.81" r="1.1" fill="#000"/>
<line x1="613.90" y1="282.80" x2="630.80" y2="282.80" stroke="#000" stroke-width="1"/>
<line x1="613.90" y1="280.80" x2="613.90" y2="284.80" stroke="#000" stroke-width="1"/>
<line x1="630.80" y1="280.80" x2="630.80" y2="284.80" stroke="#000" stroke-width="1"/>
<text x="622.20" y="282.00" font-size="6.5" text-anchor="middle" font-weight="bold" fill="#000" >****</text>
<text x="585.00" y="325.50" font-size="8.9" text-anchor="middle" font-weight="bold" fill="#000" textLength="61.5" lengthAdjust="spacingAndGlyphs" transform="rotate(-90 585.00 325.50)" >% Confluence</text>
<rect x="571.60" y="374.60" width="8.70" height="5.60" fill="#0000FF" stroke="#000" stroke-width="0.9"/>
<text x="585.70" y="380.30" font-size="7.8" text-anchor="start" font-weight="bold" fill="#000" textLength="91.4" lengthAdjust="spacingAndGlyphs" >CUHN013 Control shRNA</text>
<rect x="571.60" y="386.50" width="8.70" height="5.60" fill="#FF0A80" stroke="#000" stroke-width="0.9"/>
<text x="585.70" y="392.00" font-size="7.8" text-anchor="start" font-weight="bold" fill="#000" textLength="89.3" lengthAdjust="spacingAndGlyphs" >CUHN013 EphB4 shRNA</text>
<rect x="571.60" y="398.10" width="8.70" height="5.60" fill="#0F730F" stroke="#000" stroke-width="0.9"/>
<text x="585.70" y="403.00" font-size="7.8" text-anchor="start" font-weight="bold" fill="#000" textLength="98.8" lengthAdjust="spacingAndGlyphs" >CUHN013 EphrinB2 shRNA</text>
<line x1="448.50" y1="442.10" x2="448.50" y2="509.30" stroke="#444" stroke-width="1"/>
<line x1="448.00" y1="508.80" x2="548.30" y2="508.80" stroke="#333" stroke-width="1"/>
<line x1="445.90" y1="508.80" x2="448.50" y2="508.80" stroke="#444" stroke-width="1"/>
<text x="445.10" y="510.80" font-size="5.6" text-anchor="end" font-weight="bold" fill="#000" textLength="4.14" lengthAdjust="spacingAndGlyphs" >0</text>
<line x1="445.90" y1="492.12" x2="448.50" y2="492.12" stroke="#444" stroke-width="1"/>
<text x="445.10" y="494.12" font-size="5.6" text-anchor="end" font-weight="bold" fill="#000" textLength="8.28" lengthAdjust="spacingAndGlyphs" >10</text>
<line x1="445.90" y1="475.45" x2="448.50" y2="475.45" stroke="#444" stroke-width="1"/>
<text x="445.10" y="477.45" font-size="5.6" text-anchor="end" font-weight="bold" fill="#000" textLength="8.28" lengthAdjust="spacingAndGlyphs" >20</text>
<line x1="445.90" y1="458.78" x2="448.50" y2="458.78" stroke="#444" stroke-width="1"/>
<text x="445.10" y="460.78" font-size="5.6" text-anchor="end" font-weight="bold" fill="#000" textLength="8.28" lengthAdjust="spacingAndGlyphs" >30</text>
<line x1="445.90" y1="442.10" x2="448.50" y2="442.10" stroke="#444" stroke-width="1"/>
<text x="445.10" y="444.10" font-size="5.6" text-anchor="end" font-weight="bold" fill="#000" textLength="8.28" lengthAdjust="spacingAndGlyphs" >40</text>
<line x1="448.50" y1="508.80" x2="448.50" y2="511.40" stroke="#333" stroke-width="1"/>
<text x="448.50" y="519.60" font-size="7" text-anchor="middle" font-weight="bold" fill="#000" textLength="4.28" lengthAdjust="spacingAndGlyphs" >0</text>
<line x1="465.13" y1="508.80" x2="465.13" y2="511.40" stroke="#333" stroke-width="1"/>
<text x="465.13" y="519.60" font-size="7" text-anchor="middle" font-weight="bold" fill="#000" textLength="8.56" lengthAdjust="spacingAndGlyphs" >12</text>
<line x1="481.77" y1="508.80" x2="481.77" y2="511.40" stroke="#333" stroke-width="1"/>
<text x="481.77" y="519.60" font-size="7" text-anchor="middle" font-weight="bold" fill="#000" textLength="8.56" lengthAdjust="spacingAndGlyphs" >24</text>
<line x1="498.40" y1="508.80" x2="498.40" y2="511.40" stroke="#333" stroke-width="1"/>
<text x="498.40" y="519.60" font-size="7" text-anchor="middle" font-weight="bold" fill="#000" textLength="8.56" lengthAdjust="spacingAndGlyphs" >36</text>
<line x1="515.03" y1="508.80" x2="515.03" y2="511.40" stroke="#333" stroke-width="1"/>
<text x="515.03" y="519.60" font-size="7" text-anchor="middle" font-weight="bold" fill="#000" textLength="8.56" lengthAdjust="spacingAndGlyphs" >48</text>
<line x1="531.67" y1="508.80" x2="531.67" y2="511.40" stroke="#333" stroke-width="1"/>
<text x="531.67" y="519.60" font-size="7" text-anchor="middle" font-weight="bold" fill="#000" textLength="8.56" lengthAdjust="spacingAndGlyphs" >60</text>
<line x1="548.30" y1="508.80" x2="548.30" y2="511.40" stroke="#333" stroke-width="1"/>
<text x="548.30" y="519.60" font-size="7" text-anchor="middle" font-weight="bold" fill="#000" textLength="8.56" lengthAdjust="spacingAndGlyphs" >72</text>
<polyline points="448.50,507.97 456.82,507.80 465.13,507.30 473.45,506.80 481.77,506.13 490.08,504.96 498.40,503.46 506.72,501.13 515.03,497.63 523.35,492.63 531.67,485.46 539.98,474.78 548.30,458.78" fill="none" stroke="#FF0A80" stroke-width="0.6"/>
<polygon points="448.50,506.29 446.96,509.09 450.04,509.09" fill="#FF0A80"/>
<polygon points="456.82,506.12 455.28,508.92 458.36,508.92" fill="#FF0A80"/>
<polygon points="465.13,505.62 463.59,508.42 466.67,508.42" fill="#FF0A80"/>
<polygon points="473.45,505.12 471.91,507.92 474.99,507.92" fill="#FF0A80"/>
<polygon points="481.77,504.45 480.23,507.25 483.31,507.25" fill="#FF0A80"/>
<polygon points="490.08,503.28 488.54,506.08 491.62,506.08" fill="#FF0A80"/>
<polygon points="498.40,501.78 496.86,504.58 499.94,504.58" fill="#FF0A80"/>
<line x1="506.72" y1="500.30" x2="506.72" y2="501.96" stroke="#FF0A80" stroke-width="0.7"/>
<line x1="505.22" y1="500.30" x2="508.22" y2="500.30" stroke="#FF0A80" stroke-width="0.7"/>
<line x1="505.22" y1="501.96" x2="508.22" y2="501.96" stroke="#FF0A80" stroke-width="0.7"/>
<polygon points="506.72,499.45 505.18,502.25 508.26,502.25" fill="#FF0A80"/>
<line x1="515.03" y1="496.29" x2="515.03" y2="498.96" stroke="#FF0A80" stroke-width="0.7"/>
<line x1="513.53" y1="496.29" x2="516.53" y2="496.29" stroke="#FF0A80" stroke-width="0.7"/>
<line x1="513.53" y1="498.96" x2="516.53" y2="498.96" stroke="#FF0A80" stroke-width="0.7"/>
<polygon points="515.03,495.95 513.49,498.75 516.57,498.75" fill="#FF0A80"/>
<line x1="523.35" y1="490.62" x2="523.35" y2="494.63" stroke="#FF0A80" stroke-width="0.7"/>
<line x1="521.85" y1="490.62" x2="524.85" y2="490.62" stroke="#FF0A80" stroke-width="0.7"/>
<line x1="521.85" y1="494.63" x2="524.85" y2="494.63" stroke="#FF0A80" stroke-width="0.7"/>
<polygon points="523.35,490.95 521.81,493.75 524.89,493.75" fill="#FF0A80"/>
<line x1="531.67" y1="482.12" x2="531.67" y2="488.79" stroke="#FF0A80" stroke-width="0.7"/>
<line x1="530.17" y1="482.12" x2="533.17" y2="482.12" stroke="#FF0A80" stroke-width="0.7"/>
<line x1="530.17" y1="488.79" x2="533.17" y2="488.79" stroke="#FF0A80" stroke-width="0.7"/>
<polygon points="531.67,483.78 530.13,486.58 533.21,486.58" fill="#FF0A80"/>
<line x1="539.98" y1="469.78" x2="539.98" y2="479.79" stroke="#FF0A80" stroke-width="0.7"/>
<line x1="538.48" y1="469.78" x2="541.48" y2="469.78" stroke="#FF0A80" stroke-width="0.7"/>
<line x1="538.48" y1="479.79" x2="541.48" y2="479.79" stroke="#FF0A80" stroke-width="0.7"/>
<polygon points="539.98,473.10 538.44,475.90 541.52,475.90" fill="#FF0A80"/>
<line x1="548.30" y1="451.27" x2="548.30" y2="466.28" stroke="#FF0A80" stroke-width="0.7"/>
<line x1="546.80" y1="451.27" x2="549.80" y2="451.27" stroke="#FF0A80" stroke-width="0.7"/>
<line x1="546.80" y1="466.28" x2="549.80" y2="466.28" stroke="#FF0A80" stroke-width="0.7"/>
<polygon points="548.30,457.10 546.76,459.90 549.84,459.90" fill="#FF0A80"/>
<polyline points="448.50,508.47 456.82,508.30 465.13,508.13 473.45,507.97 481.77,507.63 490.08,507.30 498.40,506.80 506.72,506.13 515.03,505.13 523.35,503.80 531.67,502.13 539.98,500.13 548.30,497.46" fill="none" stroke="#0F730F" stroke-width="0.6"/>
<rect x="447.10" y="507.07" width="2.80" height="2.80" fill="#0F730F"/>
<rect x="455.42" y="506.90" width="2.80" height="2.80" fill="#0F730F"/>
<rect x="463.73" y="506.73" width="2.80" height="2.80" fill="#0F730F"/>
<rect x="472.05" y="506.57" width="2.80" height="2.80" fill="#0F730F"/>
<rect x="480.37" y="506.23" width="2.80" height="2.80" fill="#0F730F"/>
<rect x="488.68" y="505.90" width="2.80" height="2.80" fill="#0F730F"/>
<rect x="497.00" y="505.40" width="2.80" height="2.80" fill="#0F730F"/>
<line x1="506.72" y1="505.63" x2="506.72" y2="506.63" stroke="#0F730F" stroke-width="0.7"/>
<line x1="505.22" y1="505.63" x2="508.22" y2="505.63" stroke="#0F730F" stroke-width="0.7"/>
<line x1="505.22" y1="506.63" x2="508.22" y2="506.63" stroke="#0F730F" stroke-width="0.7"/>
<rect x="505.32" y="504.73" width="2.80" height="2.80" fill="#0F730F"/>
<line x1="515.03" y1="504.30" x2="515.03" y2="505.97" stroke="#0F730F" stroke-width="0.7"/>
<line x1="513.53" y1="504.30" x2="516.53" y2="504.30" stroke="#0F730F" stroke-width="0.7"/>
<line x1="513.53" y1="505.97" x2="516.53" y2="505.97" stroke="#0F730F" stroke-width="0.7"/>
<rect x="513.63" y="503.73" width="2.80" height="2.80" fill="#0F730F"/>
<line x1="523.35" y1="502.63" x2="523.35" y2="504.96" stroke="#0F730F" stroke-width="0.7"/>
<line x1="521.85" y1="502.63" x2="524.85" y2="502.63" stroke="#0F730F" stroke-width="0.7"/>
<line x1="521.85" y1="504.96" x2="524.85" y2="504.96" stroke="#0F730F" stroke-width="0.7"/>
<rect x="521.95" y="502.40" width="2.80" height="2.80" fill="#0F730F"/>
<line x1="531.67" y1="500.46" x2="531.67" y2="503.80" stroke="#0F730F" stroke-width="0.7"/>
<line x1="530.17" y1="500.46" x2="533.17" y2="500.46" stroke="#0F730F" stroke-width="0.7"/>
<line x1="530.17" y1="503.80" x2="533.17" y2="503.80" stroke="#0F730F" stroke-width="0.7"/>
<rect x="530.27" y="500.73" width="2.80" height="2.80" fill="#0F730F"/>
<line x1="539.98" y1="497.63" x2="539.98" y2="502.63" stroke="#0F730F" stroke-width="0.7"/>
<line x1="538.48" y1="497.63" x2="541.48" y2="497.63" stroke="#0F730F" stroke-width="0.7"/>
<line x1="538.48" y1="502.63" x2="541.48" y2="502.63" stroke="#0F730F" stroke-width="0.7"/>
<rect x="538.58" y="498.73" width="2.80" height="2.80" fill="#0F730F"/>
<line x1="548.30" y1="494.13" x2="548.30" y2="500.80" stroke="#0F730F" stroke-width="0.7"/>
<line x1="546.80" y1="494.13" x2="549.80" y2="494.13" stroke="#0F730F" stroke-width="0.7"/>
<line x1="546.80" y1="500.80" x2="549.80" y2="500.80" stroke="#0F730F" stroke-width="0.7"/>
<rect x="546.90" y="496.06" width="2.80" height="2.80" fill="#0F730F"/>
<polyline points="448.50,508.30 456.82,508.13 465.13,507.80 473.45,507.47 481.77,507.13 490.08,506.47 498.40,505.63 506.72,504.46 515.03,502.80 523.35,500.30 531.67,496.63 539.98,491.29 548.30,483.79" fill="none" stroke="#0000FF" stroke-width="0.6"/>
<circle cx="448.50" cy="508.30" r="1.5" fill="#0000FF"/>
<circle cx="456.82" cy="508.13" r="1.5" fill="#0000FF"/>
<circle cx="465.13" cy="507.80" r="1.5" fill="#0000FF"/>
<circle cx="473.45" cy="507.47" r="1.5" fill="#0000FF"/>
<circle cx="481.77" cy="507.13" r="1.5" fill="#0000FF"/>
<circle cx="490.08" cy="506.47" r="1.5" fill="#0000FF"/>
<circle cx="498.40" cy="505.63" r="1.5" fill="#0000FF"/>
<line x1="506.72" y1="503.96" x2="506.72" y2="504.96" stroke="#0000FF" stroke-width="0.7"/>
<line x1="505.22" y1="503.96" x2="508.22" y2="503.96" stroke="#0000FF" stroke-width="0.7"/>
<line x1="505.22" y1="504.96" x2="508.22" y2="504.96" stroke="#0000FF" stroke-width="0.7"/>
<circle cx="506.72" cy="504.46" r="1.5" fill="#0000FF"/>
<line x1="515.03" y1="501.96" x2="515.03" y2="503.63" stroke="#0000FF" stroke-width="0.7"/>
<line x1="513.53" y1="501.96" x2="516.53" y2="501.96" stroke="#0000FF" stroke-width="0.7"/>
<line x1="513.53" y1="503.63" x2="516.53" y2="503.63" stroke="#0000FF" stroke-width="0.7"/>
<circle cx="515.03" cy="502.80" r="1.5" fill="#0000FF"/>
<line x1="523.35" y1="499.13" x2="523.35" y2="501.46" stroke="#0000FF" stroke-width="0.7"/>
<line x1="521.85" y1="499.13" x2="524.85" y2="499.13" stroke="#0000FF" stroke-width="0.7"/>
<line x1="521.85" y1="501.46" x2="524.85" y2="501.46" stroke="#0000FF" stroke-width="0.7"/>
<circle cx="523.35" cy="500.30" r="1.5" fill="#0000FF"/>
<line x1="531.67" y1="494.96" x2="531.67" y2="498.29" stroke="#0000FF" stroke-width="0.7"/>
<line x1="530.17" y1="494.96" x2="533.17" y2="494.96" stroke="#0000FF" stroke-width="0.7"/>
<line x1="530.17" y1="498.29" x2="533.17" y2="498.29" stroke="#0000FF" stroke-width="0.7"/>
<circle cx="531.67" cy="496.63" r="1.5" fill="#0000FF"/>
<line x1="539.98" y1="488.79" x2="539.98" y2="493.79" stroke="#0000FF" stroke-width="0.7"/>
<line x1="538.48" y1="488.79" x2="541.48" y2="488.79" stroke="#0000FF" stroke-width="0.7"/>
<line x1="538.48" y1="493.79" x2="541.48" y2="493.79" stroke="#0000FF" stroke-width="0.7"/>
<circle cx="539.98" cy="491.29" r="1.5" fill="#0000FF"/>
<line x1="548.30" y1="479.62" x2="548.30" y2="487.96" stroke="#0000FF" stroke-width="0.7"/>
<line x1="546.80" y1="479.62" x2="549.80" y2="479.62" stroke="#0000FF" stroke-width="0.7"/>
<line x1="546.80" y1="487.96" x2="549.80" y2="487.96" stroke="#0000FF" stroke-width="0.7"/>
<circle cx="548.30" cy="483.79" r="1.5" fill="#0000FF"/>
<text x="498.00" y="531.40" font-size="8.8" text-anchor="middle" font-weight="bold" fill="#000" textLength="71" lengthAdjust="spacingAndGlyphs" >Hours post-plating</text>
<text x="432.20" y="474.60" font-size="7.5" text-anchor="middle" font-weight="bold" fill="#000" textLength="53.8" lengthAdjust="spacingAndGlyphs" transform="rotate(-90 432.20 474.60)" >% Confluence</text>
<line x1="606.20" y1="425.30" x2="606.20" y2="512.60" stroke="#1a1a1a" stroke-width="1"/>
<line x1="605.70" y1="512.10" x2="661.60" y2="512.10" stroke="#1a1a1a" stroke-width="1"/>
<line x1="603.60" y1="512.10" x2="606.20" y2="512.10" stroke="#1a1a1a" stroke-width="1"/>
<text x="603.00" y="514.95" font-size="7.9" text-anchor="end" font-weight="bold" fill="#000" textLength="5.49" lengthAdjust="spacingAndGlyphs" >0</text>
<line x1="603.60" y1="490.40" x2="606.20" y2="490.40" stroke="#1a1a1a" stroke-width="1"/>
<text x="603.00" y="493.25" font-size="7.9" text-anchor="end" font-weight="bold" fill="#000" textLength="10.98" lengthAdjust="spacingAndGlyphs" >10</text>
<line x1="603.60" y1="468.70" x2="606.20" y2="468.70" stroke="#1a1a1a" stroke-width="1"/>
<text x="603.00" y="471.55" font-size="7.9" text-anchor="end" font-weight="bold" fill="#000" textLength="10.98" lengthAdjust="spacingAndGlyphs" >20</text>
<line x1="603.60" y1="447.00" x2="606.20" y2="447.00" stroke="#1a1a1a" stroke-width="1"/>
<text x="603.00" y="449.85" font-size="7.9" text-anchor="end" font-weight="bold" fill="#000" textLength="10.98" lengthAdjust="spacingAndGlyphs" >30</text>
<line x1="603.60" y1="425.30" x2="606.20" y2="425.30" stroke="#1a1a1a" stroke-width="1"/>
<text x="603.00" y="428.15" font-size="7.9" text-anchor="end" font-weight="bold" fill="#000" textLength="10.98" lengthAdjust="spacingAndGlyphs" >40</text>
<line x1="617.50" y1="512.10" x2="617.50" y2="514.50" stroke="#1a1a1a" stroke-width="1"/>
<line x1="635.40" y1="512.10" x2="635.40" y2="514.50" stroke="#1a1a1a" stroke-width="1"/>
<line x1="652.60" y1="512.10" x2="652.60" y2="514.50" stroke="#1a1a1a" stroke-width="1"/>
<rect x="612.40" y="481.07" width="11.00" height="31.03" fill="#0000FF" stroke="#000" stroke-width="1"/>
<line x1="617.90" y1="474.12" x2="617.90" y2="486.49" stroke="#c8c8c8" stroke-width="0.8"/>
<line x1="613.90" y1="474.12" x2="621.90" y2="474.12" stroke="#c8c8c8" stroke-width="0.8"/>
<line x1="613.90" y1="486.49" x2="621.90" y2="486.49" stroke="#c8c8c8" stroke-width="0.8"/>
<circle cx="613.40" cy="475.21" r="1.2" fill="#000"/>
<circle cx="617.90" cy="476.73" r="1.2" fill="#000"/>
<circle cx="622.50" cy="478.90" r="1.2" fill="#000"/>
<circle cx="613.40" cy="477.81" r="1.2" fill="#000"/>
<circle cx="617.90" cy="491.49" r="1.2" fill="#000"/>
<line x1="617.90" y1="474.12" x2="617.90" y2="481.07" stroke="#000" stroke-width="0.8"/>
<line x1="613.60" y1="474.12" x2="622.20" y2="474.12" stroke="#000" stroke-width="0.9"/>
<rect x="630.30" y="446.78" width="10.40" height="65.32" fill="#FF0A80" stroke="#000" stroke-width="1"/>
<line x1="635.50" y1="436.58" x2="635.50" y2="455.90" stroke="#e080b0" stroke-width="0.8"/>
<line x1="633.50" y1="436.58" x2="637.50" y2="436.58" stroke="#e080b0" stroke-width="0.8"/>
<line x1="633.50" y1="455.90" x2="637.50" y2="455.90" stroke="#e080b0" stroke-width="0.8"/>
<rect x="634.30" y="434.08" width="2.40" height="2.40" fill="#000"/>
<rect x="634.30" y="436.69" width="2.40" height="2.40" fill="#000"/>
<rect x="634.30" y="438.64" width="2.40" height="2.40" fill="#000"/>
<rect x="634.30" y="441.03" width="2.40" height="2.40" fill="#000"/>
<rect x="634.30" y="443.41" width="2.40" height="2.40" fill="#000"/>
<rect x="634.30" y="445.58" width="2.40" height="2.40" fill="#000"/>
<rect x="634.30" y="448.19" width="2.40" height="2.40" fill="#000"/>
<rect x="634.30" y="462.08" width="2.40" height="2.40" fill="#000"/>
<line x1="635.50" y1="436.58" x2="635.50" y2="446.78" stroke="#000" stroke-width="0.8"/>
<line x1="633.50" y1="436.58" x2="637.50" y2="436.58" stroke="#000" stroke-width="0.9"/>
<rect x="647.50" y="498.00" width="11.10" height="14.11" fill="#0F730F" stroke="#000" stroke-width="1"/>
<line x1="653.05" y1="492.57" x2="653.05" y2="503.42" stroke="#000" stroke-width="0.8"/>
<line x1="650.55" y1="492.57" x2="655.55" y2="492.57" stroke="#000" stroke-width="0.8"/>
<line x1="650.55" y1="503.42" x2="655.55" y2="503.42" stroke="#000" stroke-width="0.8"/>
<polygon points="653.05,487.66 651.73,490.06 654.37,490.06" fill="#000"/>
<polygon points="653.05,492.65 651.73,495.05 654.37,495.05" fill="#000"/>
<polygon points="650.45,498.94 649.13,501.34 651.77,501.34" fill="#000"/>
<polygon points="655.65,498.51 654.33,500.91 656.97,500.91" fill="#000"/>
<polygon points="650.45,502.41 649.13,504.81 651.77,504.81" fill="#000"/>
<polygon points="655.65,502.41 654.33,504.81 656.97,504.81" fill="#000"/>
<line x1="613.00" y1="429.30" x2="635.40" y2="429.30" stroke="#000" stroke-width="1"/>
<line x1="613.00" y1="425.80" x2="613.00" y2="432.80" stroke="#000" stroke-width="1"/>
<line x1="635.40" y1="425.80" x2="635.40" y2="432.80" stroke="#000" stroke-width="1"/>
<text x="623.20" y="429.00" font-size="6.5" text-anchor="middle" font-weight="bold" fill="#000" >****</text>
<text x="586.50" y="467.00" font-size="11.5" text-anchor="middle" font-weight="bold" fill="#000" textLength="70.7" lengthAdjust="spacingAndGlyphs" transform="rotate(-90 586.50 467.00)" >% Confluence</text>
<rect x="584.40" y="524.10" width="7.40" height="7.20" fill="#0000FF" stroke="#000" stroke-width="1.2"/>
<text x="597.20" y="531.40" font-size="7.5" text-anchor="start" font-weight="bold" fill="#000" textLength="48.9" lengthAdjust="spacingAndGlyphs" >Moc2 Control</text>
<rect x="584.40" y="534.20" width="7.40" height="7.20" fill="#FF3399" stroke="#000" stroke-width="1.2"/>
<text x="597.20" y="540.60" font-size="7.5" text-anchor="start" font-weight="bold" fill="#000" textLength="58.8" lengthAdjust="spacingAndGlyphs" >Moc2 EphB4 KO</text>
<rect x="584.40" y="545.30" width="7.40" height="7.20" fill="#4A7F3A" stroke="#000" stroke-width="1.2"/>
<text x="597.20" y="550.80" font-size="7.5" text-anchor="start" font-weight="bold" fill="#000" textLength="69" lengthAdjust="spacingAndGlyphs" >Moc2 EphrinB2 KO</text>
</svg></body></html>
